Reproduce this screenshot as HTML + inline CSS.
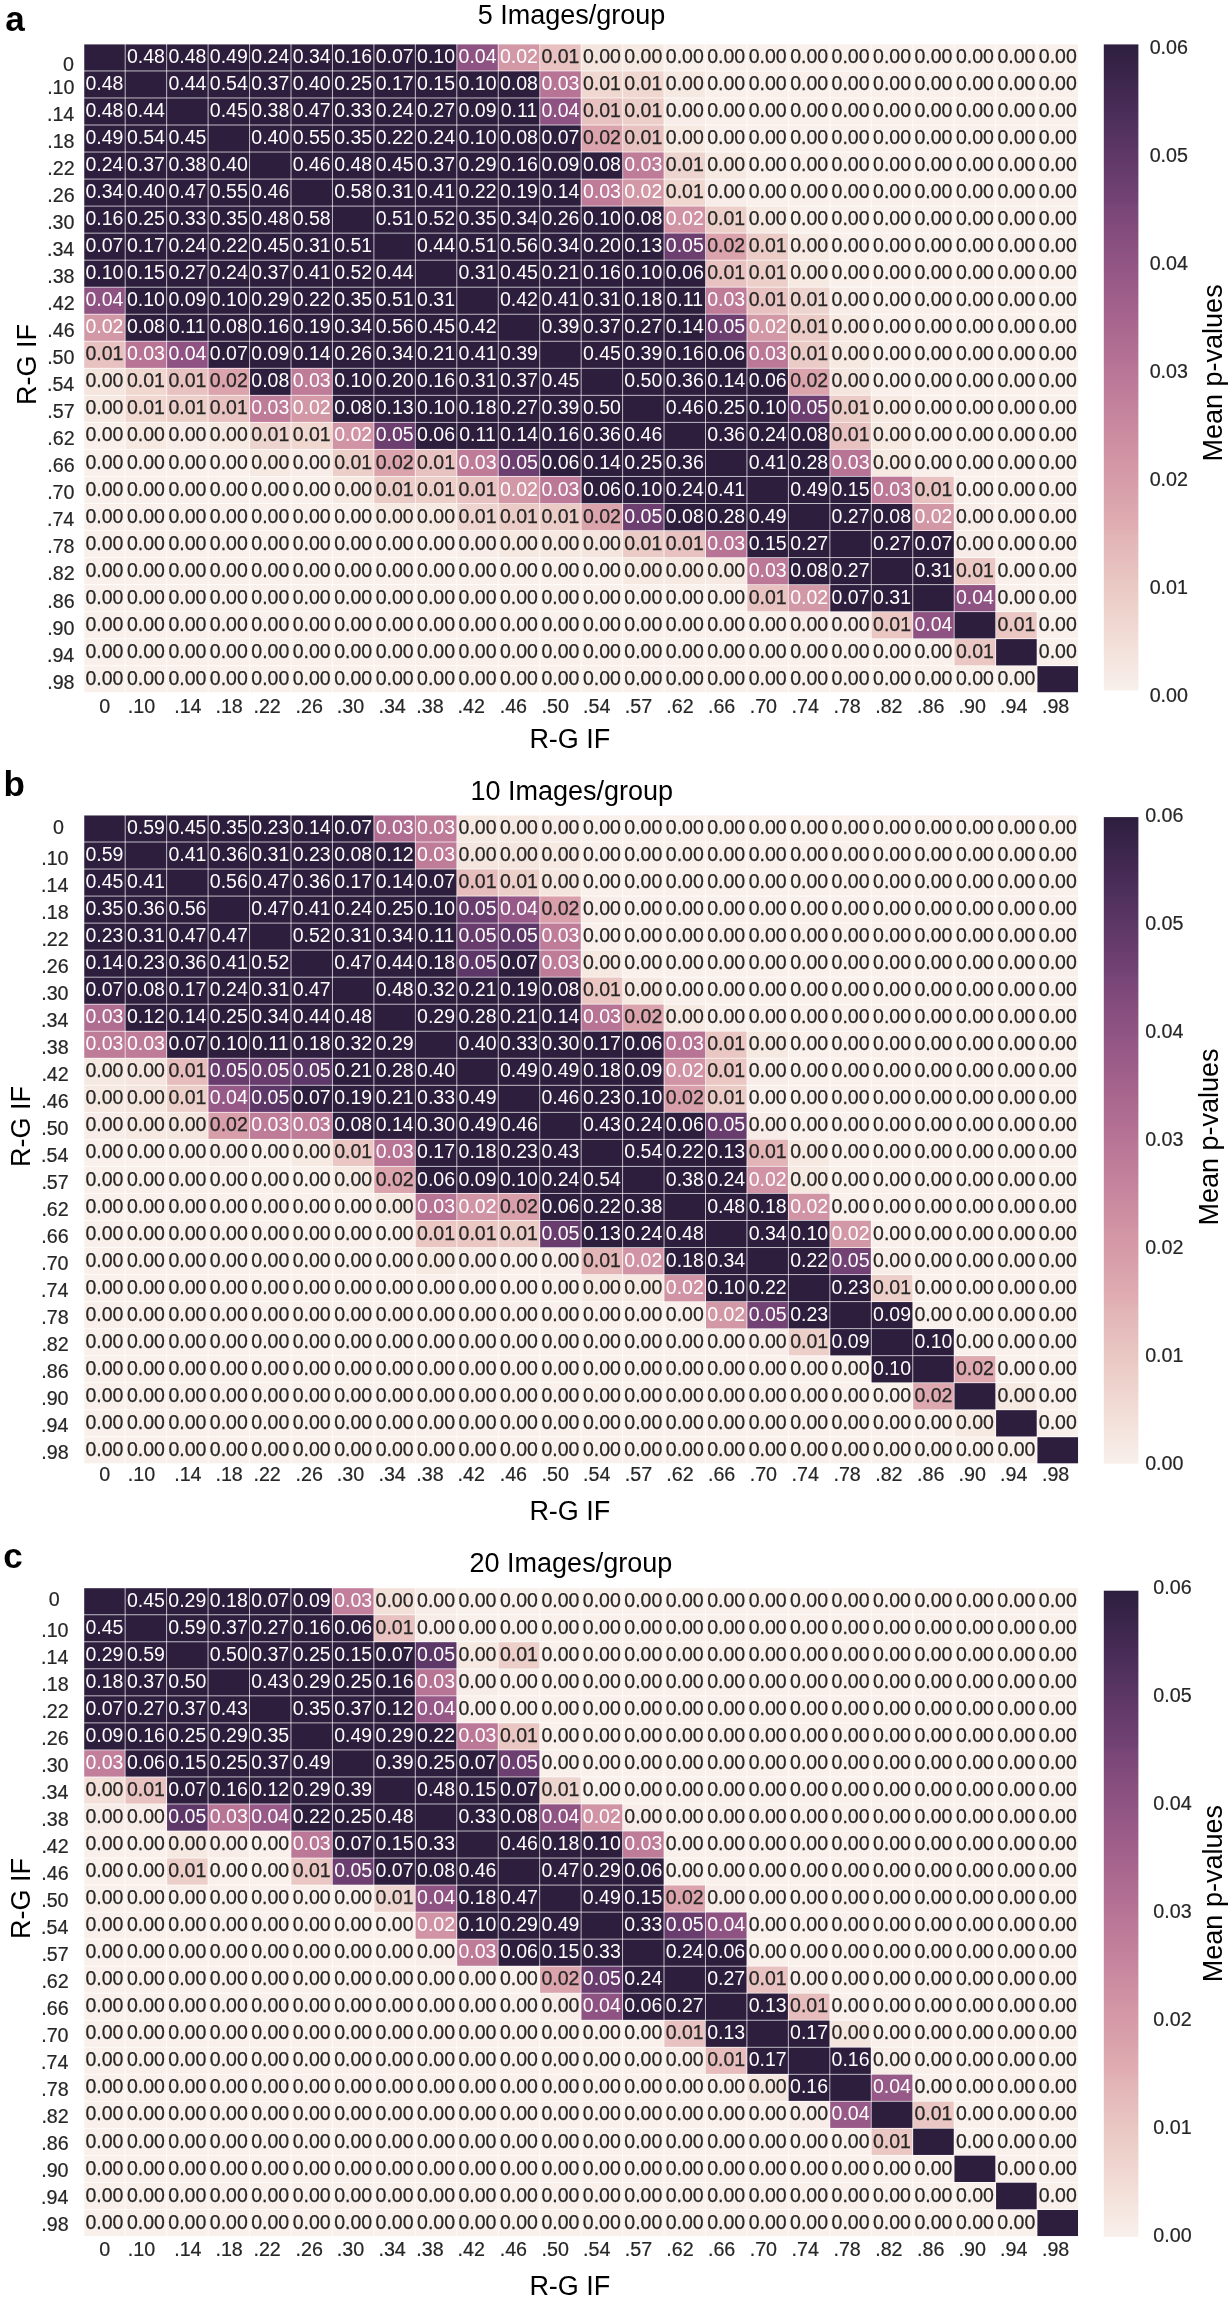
<!DOCTYPE html><html><head><meta charset="utf-8"><style>html,body{margin:0;padding:0;background:#fff;}svg{display:block;will-change:transform;}text{font-family:"Liberation Sans",sans-serif;}.d{fill:#262626;stroke:#262626}.w{fill:#fff}</style></head><body>
<svg width="1232" height="2300" viewBox="0 0 1232 2300">
<rect x="0" y="0" width="1232" height="2300" fill="#fff"/>
<defs><linearGradient id="cb" x1="0" y1="0" x2="0" y2="1"><stop offset="0" stop-color="#2d1e3e"/><stop offset="0.02" stop-color="#332144"/><stop offset="0.04" stop-color="#382449"/><stop offset="0.06" stop-color="#3e274e"/><stop offset="0.08" stop-color="#442a53"/><stop offset="0.1" stop-color="#492d58"/><stop offset="0.12" stop-color="#4f305d"/><stop offset="0.14" stop-color="#553361"/><stop offset="0.16" stop-color="#5b3665"/><stop offset="0.18" stop-color="#613969"/><stop offset="0.2" stop-color="#673c6d"/><stop offset="0.22" stop-color="#6d3f71"/><stop offset="0.24" stop-color="#734274"/><stop offset="0.25" stop-color="#784677"/><stop offset="0.27" stop-color="#7e497a"/><stop offset="0.29" stop-color="#844c7d"/><stop offset="0.31" stop-color="#895080"/><stop offset="0.33" stop-color="#8f5383"/><stop offset="0.35" stop-color="#945785"/><stop offset="0.37" stop-color="#995a88"/><stop offset="0.39" stop-color="#9e5e8a"/><stop offset="0.41" stop-color="#a3628c"/><stop offset="0.43" stop-color="#a8668e"/><stop offset="0.45" stop-color="#ad6a90"/><stop offset="0.47" stop-color="#b16e93"/><stop offset="0.49" stop-color="#b67295"/><stop offset="0.51" stop-color="#ba7797"/><stop offset="0.53" stop-color="#be7b99"/><stop offset="0.55" stop-color="#c27f9b"/><stop offset="0.57" stop-color="#c5849d"/><stop offset="0.59" stop-color="#c9889f"/><stop offset="0.61" stop-color="#cc8da1"/><stop offset="0.63" stop-color="#d092a3"/><stop offset="0.65" stop-color="#d397a5"/><stop offset="0.67" stop-color="#d69ba8"/><stop offset="0.69" stop-color="#d8a0aa"/><stop offset="0.71" stop-color="#dba5ad"/><stop offset="0.73" stop-color="#deaab0"/><stop offset="0.75" stop-color="#e0afb3"/><stop offset="0.76" stop-color="#e2b4b6"/><stop offset="0.78" stop-color="#e4b9b9"/><stop offset="0.8" stop-color="#e6bebd"/><stop offset="0.82" stop-color="#e8c4c0"/><stop offset="0.84" stop-color="#eac9c4"/><stop offset="0.86" stop-color="#eccec8"/><stop offset="0.88" stop-color="#eed3cd"/><stop offset="0.9" stop-color="#f0d8d1"/><stop offset="0.92" stop-color="#f2ddd6"/><stop offset="0.94" stop-color="#f3e2db"/><stop offset="0.96" stop-color="#f5e7e0"/><stop offset="0.98" stop-color="#f7ebe6"/><stop offset="1" stop-color="#f9f0eb"/><stop offset="1" stop-color="#f9f0eb"/></linearGradient></defs>
<g shape-rendering="crispEdges"><rect x="83.75" y="43.9" width="41.5" height="27.09" fill="#2d1e3e"/><rect x="125.2" y="43.9" width="41.5" height="27.09" fill="#2d1e3e"/><rect x="166.65" y="43.9" width="41.5" height="27.09" fill="#2d1e3e"/><rect x="208.1" y="43.9" width="41.5" height="27.09" fill="#2d1e3e"/><rect x="249.55" y="43.9" width="41.5" height="27.09" fill="#2d1e3e"/><rect x="291" y="43.9" width="41.5" height="27.09" fill="#2d1e3e"/><rect x="332.45" y="43.9" width="41.5" height="27.09" fill="#2d1e3e"/><rect x="373.9" y="43.9" width="41.5" height="27.09" fill="#2d1e3e"/><rect x="415.35" y="43.9" width="41.5" height="27.09" fill="#2d1e3e"/><rect x="456.8" y="43.9" width="41.5" height="27.09" fill="#8f5383"/><rect x="498.25" y="43.9" width="41.5" height="27.09" fill="#d398a6"/><rect x="539.7" y="43.9" width="41.5" height="27.09" fill="#e8c2c0"/><rect x="581.15" y="43.9" width="41.5" height="27.09" fill="#f4e5de"/><rect x="622.6" y="43.9" width="41.5" height="27.09" fill="#f6e9e2"/><rect x="664.05" y="43.9" width="41.5" height="27.09" fill="#f9f0eb"/><rect x="705.5" y="43.9" width="41.5" height="27.09" fill="#f9f0eb"/><rect x="746.95" y="43.9" width="41.5" height="27.09" fill="#f9f0eb"/><rect x="788.4" y="43.9" width="41.5" height="27.09" fill="#f9f0eb"/><rect x="829.85" y="43.9" width="41.5" height="27.09" fill="#f9f0eb"/><rect x="871.3" y="43.9" width="41.5" height="27.09" fill="#f9f0eb"/><rect x="912.75" y="43.9" width="41.5" height="27.09" fill="#f9f0eb"/><rect x="954.2" y="43.9" width="41.5" height="27.09" fill="#f9f0eb"/><rect x="995.65" y="43.9" width="41.5" height="27.09" fill="#f9f0eb"/><rect x="1037.1" y="43.9" width="41.5" height="27.09" fill="#f9f0eb"/><rect x="83.75" y="70.94" width="41.5" height="27.09" fill="#2d1e3e"/><rect x="125.2" y="70.94" width="41.5" height="27.09" fill="#2d1e3e"/><rect x="166.65" y="70.94" width="41.5" height="27.09" fill="#2d1e3e"/><rect x="208.1" y="70.94" width="41.5" height="27.09" fill="#2d1e3e"/><rect x="249.55" y="70.94" width="41.5" height="27.09" fill="#2d1e3e"/><rect x="291" y="70.94" width="41.5" height="27.09" fill="#2d1e3e"/><rect x="332.45" y="70.94" width="41.5" height="27.09" fill="#2d1e3e"/><rect x="373.9" y="70.94" width="41.5" height="27.09" fill="#2d1e3e"/><rect x="415.35" y="70.94" width="41.5" height="27.09" fill="#2d1e3e"/><rect x="456.8" y="70.94" width="41.5" height="27.09" fill="#2d1e3e"/><rect x="498.25" y="70.94" width="41.5" height="27.09" fill="#2d1e3e"/><rect x="539.7" y="70.94" width="41.5" height="27.09" fill="#b77495"/><rect x="581.15" y="70.94" width="41.5" height="27.09" fill="#f0d8d1"/><rect x="622.6" y="70.94" width="41.5" height="27.09" fill="#f0d8d1"/><rect x="664.05" y="70.94" width="41.5" height="27.09" fill="#f6e9e2"/><rect x="705.5" y="70.94" width="41.5" height="27.09" fill="#f9f0eb"/><rect x="746.95" y="70.94" width="41.5" height="27.09" fill="#f9f0eb"/><rect x="788.4" y="70.94" width="41.5" height="27.09" fill="#f9f0eb"/><rect x="829.85" y="70.94" width="41.5" height="27.09" fill="#f9f0eb"/><rect x="871.3" y="70.94" width="41.5" height="27.09" fill="#f9f0eb"/><rect x="912.75" y="70.94" width="41.5" height="27.09" fill="#f9f0eb"/><rect x="954.2" y="70.94" width="41.5" height="27.09" fill="#f9f0eb"/><rect x="995.65" y="70.94" width="41.5" height="27.09" fill="#f9f0eb"/><rect x="1037.1" y="70.94" width="41.5" height="27.09" fill="#f9f0eb"/><rect x="83.75" y="97.97" width="41.5" height="27.09" fill="#2d1e3e"/><rect x="125.2" y="97.97" width="41.5" height="27.09" fill="#2d1e3e"/><rect x="166.65" y="97.97" width="41.5" height="27.09" fill="#2d1e3e"/><rect x="208.1" y="97.97" width="41.5" height="27.09" fill="#2d1e3e"/><rect x="249.55" y="97.97" width="41.5" height="27.09" fill="#2d1e3e"/><rect x="291" y="97.97" width="41.5" height="27.09" fill="#2d1e3e"/><rect x="332.45" y="97.97" width="41.5" height="27.09" fill="#2d1e3e"/><rect x="373.9" y="97.97" width="41.5" height="27.09" fill="#2d1e3e"/><rect x="415.35" y="97.97" width="41.5" height="27.09" fill="#2d1e3e"/><rect x="456.8" y="97.97" width="41.5" height="27.09" fill="#2d1e3e"/><rect x="498.25" y="97.97" width="41.5" height="27.09" fill="#2d1e3e"/><rect x="539.7" y="97.97" width="41.5" height="27.09" fill="#8f5383"/><rect x="581.15" y="97.97" width="41.5" height="27.09" fill="#e8c2c0"/><rect x="622.6" y="97.97" width="41.5" height="27.09" fill="#edcfc9"/><rect x="664.05" y="97.97" width="41.5" height="27.09" fill="#f7ece7"/><rect x="705.5" y="97.97" width="41.5" height="27.09" fill="#f9f0eb"/><rect x="746.95" y="97.97" width="41.5" height="27.09" fill="#f9f0eb"/><rect x="788.4" y="97.97" width="41.5" height="27.09" fill="#f9f0eb"/><rect x="829.85" y="97.97" width="41.5" height="27.09" fill="#f9f0eb"/><rect x="871.3" y="97.97" width="41.5" height="27.09" fill="#f9f0eb"/><rect x="912.75" y="97.97" width="41.5" height="27.09" fill="#f9f0eb"/><rect x="954.2" y="97.97" width="41.5" height="27.09" fill="#f9f0eb"/><rect x="995.65" y="97.97" width="41.5" height="27.09" fill="#f9f0eb"/><rect x="1037.1" y="97.97" width="41.5" height="27.09" fill="#f9f0eb"/><rect x="83.75" y="125" width="41.5" height="27.09" fill="#2d1e3e"/><rect x="125.2" y="125" width="41.5" height="27.09" fill="#2d1e3e"/><rect x="166.65" y="125" width="41.5" height="27.09" fill="#2d1e3e"/><rect x="208.1" y="125" width="41.5" height="27.09" fill="#2d1e3e"/><rect x="249.55" y="125" width="41.5" height="27.09" fill="#2d1e3e"/><rect x="291" y="125" width="41.5" height="27.09" fill="#2d1e3e"/><rect x="332.45" y="125" width="41.5" height="27.09" fill="#2d1e3e"/><rect x="373.9" y="125" width="41.5" height="27.09" fill="#2d1e3e"/><rect x="415.35" y="125" width="41.5" height="27.09" fill="#2d1e3e"/><rect x="456.8" y="125" width="41.5" height="27.09" fill="#2d1e3e"/><rect x="498.25" y="125" width="41.5" height="27.09" fill="#2d1e3e"/><rect x="539.7" y="125" width="41.5" height="27.09" fill="#2d1e3e"/><rect x="581.15" y="125" width="41.5" height="27.09" fill="#dba4ad"/><rect x="622.6" y="125" width="41.5" height="27.09" fill="#e8c2c0"/><rect x="664.05" y="125" width="41.5" height="27.09" fill="#f6e9e2"/><rect x="705.5" y="125" width="41.5" height="27.09" fill="#f9f0eb"/><rect x="746.95" y="125" width="41.5" height="27.09" fill="#f9f0eb"/><rect x="788.4" y="125" width="41.5" height="27.09" fill="#f9f0eb"/><rect x="829.85" y="125" width="41.5" height="27.09" fill="#f9f0eb"/><rect x="871.3" y="125" width="41.5" height="27.09" fill="#f9f0eb"/><rect x="912.75" y="125" width="41.5" height="27.09" fill="#f9f0eb"/><rect x="954.2" y="125" width="41.5" height="27.09" fill="#f9f0eb"/><rect x="995.65" y="125" width="41.5" height="27.09" fill="#f9f0eb"/><rect x="1037.1" y="125" width="41.5" height="27.09" fill="#f9f0eb"/><rect x="83.75" y="152.04" width="41.5" height="27.09" fill="#2d1e3e"/><rect x="125.2" y="152.04" width="41.5" height="27.09" fill="#2d1e3e"/><rect x="166.65" y="152.04" width="41.5" height="27.09" fill="#2d1e3e"/><rect x="208.1" y="152.04" width="41.5" height="27.09" fill="#2d1e3e"/><rect x="249.55" y="152.04" width="41.5" height="27.09" fill="#2d1e3e"/><rect x="291" y="152.04" width="41.5" height="27.09" fill="#2d1e3e"/><rect x="332.45" y="152.04" width="41.5" height="27.09" fill="#2d1e3e"/><rect x="373.9" y="152.04" width="41.5" height="27.09" fill="#2d1e3e"/><rect x="415.35" y="152.04" width="41.5" height="27.09" fill="#2d1e3e"/><rect x="456.8" y="152.04" width="41.5" height="27.09" fill="#2d1e3e"/><rect x="498.25" y="152.04" width="41.5" height="27.09" fill="#2d1e3e"/><rect x="539.7" y="152.04" width="41.5" height="27.09" fill="#2d1e3e"/><rect x="581.15" y="152.04" width="41.5" height="27.09" fill="#2d1e3e"/><rect x="622.6" y="152.04" width="41.5" height="27.09" fill="#bf7c99"/><rect x="664.05" y="152.04" width="41.5" height="27.09" fill="#eed4ce"/><rect x="705.5" y="152.04" width="41.5" height="27.09" fill="#f6e9e2"/><rect x="746.95" y="152.04" width="41.5" height="27.09" fill="#f9f0eb"/><rect x="788.4" y="152.04" width="41.5" height="27.09" fill="#f9f0eb"/><rect x="829.85" y="152.04" width="41.5" height="27.09" fill="#f9f0eb"/><rect x="871.3" y="152.04" width="41.5" height="27.09" fill="#f9f0eb"/><rect x="912.75" y="152.04" width="41.5" height="27.09" fill="#f9f0eb"/><rect x="954.2" y="152.04" width="41.5" height="27.09" fill="#f9f0eb"/><rect x="995.65" y="152.04" width="41.5" height="27.09" fill="#f9f0eb"/><rect x="1037.1" y="152.04" width="41.5" height="27.09" fill="#f9f0eb"/><rect x="83.75" y="179.08" width="41.5" height="27.09" fill="#2d1e3e"/><rect x="125.2" y="179.08" width="41.5" height="27.09" fill="#2d1e3e"/><rect x="166.65" y="179.08" width="41.5" height="27.09" fill="#2d1e3e"/><rect x="208.1" y="179.08" width="41.5" height="27.09" fill="#2d1e3e"/><rect x="249.55" y="179.08" width="41.5" height="27.09" fill="#2d1e3e"/><rect x="291" y="179.08" width="41.5" height="27.09" fill="#2d1e3e"/><rect x="332.45" y="179.08" width="41.5" height="27.09" fill="#2d1e3e"/><rect x="373.9" y="179.08" width="41.5" height="27.09" fill="#2d1e3e"/><rect x="415.35" y="179.08" width="41.5" height="27.09" fill="#2d1e3e"/><rect x="456.8" y="179.08" width="41.5" height="27.09" fill="#2d1e3e"/><rect x="498.25" y="179.08" width="41.5" height="27.09" fill="#2d1e3e"/><rect x="539.7" y="179.08" width="41.5" height="27.09" fill="#2d1e3e"/><rect x="581.15" y="179.08" width="41.5" height="27.09" fill="#bf7c99"/><rect x="622.6" y="179.08" width="41.5" height="27.09" fill="#d398a6"/><rect x="664.05" y="179.08" width="41.5" height="27.09" fill="#f0d8d1"/><rect x="705.5" y="179.08" width="41.5" height="27.09" fill="#f7ece7"/><rect x="746.95" y="179.08" width="41.5" height="27.09" fill="#f9f0eb"/><rect x="788.4" y="179.08" width="41.5" height="27.09" fill="#f9f0eb"/><rect x="829.85" y="179.08" width="41.5" height="27.09" fill="#f9f0eb"/><rect x="871.3" y="179.08" width="41.5" height="27.09" fill="#f9f0eb"/><rect x="912.75" y="179.08" width="41.5" height="27.09" fill="#f9f0eb"/><rect x="954.2" y="179.08" width="41.5" height="27.09" fill="#f9f0eb"/><rect x="995.65" y="179.08" width="41.5" height="27.09" fill="#f9f0eb"/><rect x="1037.1" y="179.08" width="41.5" height="27.09" fill="#f9f0eb"/><rect x="83.75" y="206.11" width="41.5" height="27.09" fill="#2d1e3e"/><rect x="125.2" y="206.11" width="41.5" height="27.09" fill="#2d1e3e"/><rect x="166.65" y="206.11" width="41.5" height="27.09" fill="#2d1e3e"/><rect x="208.1" y="206.11" width="41.5" height="27.09" fill="#2d1e3e"/><rect x="249.55" y="206.11" width="41.5" height="27.09" fill="#2d1e3e"/><rect x="291" y="206.11" width="41.5" height="27.09" fill="#2d1e3e"/><rect x="332.45" y="206.11" width="41.5" height="27.09" fill="#2d1e3e"/><rect x="373.9" y="206.11" width="41.5" height="27.09" fill="#2d1e3e"/><rect x="415.35" y="206.11" width="41.5" height="27.09" fill="#2d1e3e"/><rect x="456.8" y="206.11" width="41.5" height="27.09" fill="#2d1e3e"/><rect x="498.25" y="206.11" width="41.5" height="27.09" fill="#2d1e3e"/><rect x="539.7" y="206.11" width="41.5" height="27.09" fill="#2d1e3e"/><rect x="581.15" y="206.11" width="41.5" height="27.09" fill="#2d1e3e"/><rect x="622.6" y="206.11" width="41.5" height="27.09" fill="#2d1e3e"/><rect x="664.05" y="206.11" width="41.5" height="27.09" fill="#d194a4"/><rect x="705.5" y="206.11" width="41.5" height="27.09" fill="#edcfc9"/><rect x="746.95" y="206.11" width="41.5" height="27.09" fill="#f6e9e2"/><rect x="788.4" y="206.11" width="41.5" height="27.09" fill="#f9f0eb"/><rect x="829.85" y="206.11" width="41.5" height="27.09" fill="#f9f0eb"/><rect x="871.3" y="206.11" width="41.5" height="27.09" fill="#f9f0eb"/><rect x="912.75" y="206.11" width="41.5" height="27.09" fill="#f9f0eb"/><rect x="954.2" y="206.11" width="41.5" height="27.09" fill="#f9f0eb"/><rect x="995.65" y="206.11" width="41.5" height="27.09" fill="#f9f0eb"/><rect x="1037.1" y="206.11" width="41.5" height="27.09" fill="#f9f0eb"/><rect x="83.75" y="233.15" width="41.5" height="27.09" fill="#2d1e3e"/><rect x="125.2" y="233.15" width="41.5" height="27.09" fill="#2d1e3e"/><rect x="166.65" y="233.15" width="41.5" height="27.09" fill="#2d1e3e"/><rect x="208.1" y="233.15" width="41.5" height="27.09" fill="#2d1e3e"/><rect x="249.55" y="233.15" width="41.5" height="27.09" fill="#2d1e3e"/><rect x="291" y="233.15" width="41.5" height="27.09" fill="#2d1e3e"/><rect x="332.45" y="233.15" width="41.5" height="27.09" fill="#2d1e3e"/><rect x="373.9" y="233.15" width="41.5" height="27.09" fill="#2d1e3e"/><rect x="415.35" y="233.15" width="41.5" height="27.09" fill="#2d1e3e"/><rect x="456.8" y="233.15" width="41.5" height="27.09" fill="#2d1e3e"/><rect x="498.25" y="233.15" width="41.5" height="27.09" fill="#2d1e3e"/><rect x="539.7" y="233.15" width="41.5" height="27.09" fill="#2d1e3e"/><rect x="581.15" y="233.15" width="41.5" height="27.09" fill="#2d1e3e"/><rect x="622.6" y="233.15" width="41.5" height="27.09" fill="#2d1e3e"/><rect x="664.05" y="233.15" width="41.5" height="27.09" fill="#6d3f71"/><rect x="705.5" y="233.15" width="41.5" height="27.09" fill="#dba4ad"/><rect x="746.95" y="233.15" width="41.5" height="27.09" fill="#ebcbc6"/><rect x="788.4" y="233.15" width="41.5" height="27.09" fill="#f6e9e2"/><rect x="829.85" y="233.15" width="41.5" height="27.09" fill="#f9f0eb"/><rect x="871.3" y="233.15" width="41.5" height="27.09" fill="#f9f0eb"/><rect x="912.75" y="233.15" width="41.5" height="27.09" fill="#f9f0eb"/><rect x="954.2" y="233.15" width="41.5" height="27.09" fill="#f9f0eb"/><rect x="995.65" y="233.15" width="41.5" height="27.09" fill="#f9f0eb"/><rect x="1037.1" y="233.15" width="41.5" height="27.09" fill="#f9f0eb"/><rect x="83.75" y="260.18" width="41.5" height="27.09" fill="#2d1e3e"/><rect x="125.2" y="260.18" width="41.5" height="27.09" fill="#2d1e3e"/><rect x="166.65" y="260.18" width="41.5" height="27.09" fill="#2d1e3e"/><rect x="208.1" y="260.18" width="41.5" height="27.09" fill="#2d1e3e"/><rect x="249.55" y="260.18" width="41.5" height="27.09" fill="#2d1e3e"/><rect x="291" y="260.18" width="41.5" height="27.09" fill="#2d1e3e"/><rect x="332.45" y="260.18" width="41.5" height="27.09" fill="#2d1e3e"/><rect x="373.9" y="260.18" width="41.5" height="27.09" fill="#2d1e3e"/><rect x="415.35" y="260.18" width="41.5" height="27.09" fill="#2d1e3e"/><rect x="456.8" y="260.18" width="41.5" height="27.09" fill="#2d1e3e"/><rect x="498.25" y="260.18" width="41.5" height="27.09" fill="#2d1e3e"/><rect x="539.7" y="260.18" width="41.5" height="27.09" fill="#2d1e3e"/><rect x="581.15" y="260.18" width="41.5" height="27.09" fill="#2d1e3e"/><rect x="622.6" y="260.18" width="41.5" height="27.09" fill="#2d1e3e"/><rect x="664.05" y="260.18" width="41.5" height="27.09" fill="#2d1e3e"/><rect x="705.5" y="260.18" width="41.5" height="27.09" fill="#e8c2c0"/><rect x="746.95" y="260.18" width="41.5" height="27.09" fill="#edcfc9"/><rect x="788.4" y="260.18" width="41.5" height="27.09" fill="#f6e9e2"/><rect x="829.85" y="260.18" width="41.5" height="27.09" fill="#f9f0eb"/><rect x="871.3" y="260.18" width="41.5" height="27.09" fill="#f9f0eb"/><rect x="912.75" y="260.18" width="41.5" height="27.09" fill="#f9f0eb"/><rect x="954.2" y="260.18" width="41.5" height="27.09" fill="#f9f0eb"/><rect x="995.65" y="260.18" width="41.5" height="27.09" fill="#f9f0eb"/><rect x="1037.1" y="260.18" width="41.5" height="27.09" fill="#f9f0eb"/><rect x="83.75" y="287.21" width="41.5" height="27.09" fill="#8f5383"/><rect x="125.2" y="287.21" width="41.5" height="27.09" fill="#2d1e3e"/><rect x="166.65" y="287.21" width="41.5" height="27.09" fill="#2d1e3e"/><rect x="208.1" y="287.21" width="41.5" height="27.09" fill="#2d1e3e"/><rect x="249.55" y="287.21" width="41.5" height="27.09" fill="#2d1e3e"/><rect x="291" y="287.21" width="41.5" height="27.09" fill="#2d1e3e"/><rect x="332.45" y="287.21" width="41.5" height="27.09" fill="#2d1e3e"/><rect x="373.9" y="287.21" width="41.5" height="27.09" fill="#2d1e3e"/><rect x="415.35" y="287.21" width="41.5" height="27.09" fill="#2d1e3e"/><rect x="456.8" y="287.21" width="41.5" height="27.09" fill="#2d1e3e"/><rect x="498.25" y="287.21" width="41.5" height="27.09" fill="#2d1e3e"/><rect x="539.7" y="287.21" width="41.5" height="27.09" fill="#2d1e3e"/><rect x="581.15" y="287.21" width="41.5" height="27.09" fill="#2d1e3e"/><rect x="622.6" y="287.21" width="41.5" height="27.09" fill="#2d1e3e"/><rect x="664.05" y="287.21" width="41.5" height="27.09" fill="#2d1e3e"/><rect x="705.5" y="287.21" width="41.5" height="27.09" fill="#bf7c99"/><rect x="746.95" y="287.21" width="41.5" height="27.09" fill="#e8c2c0"/><rect x="788.4" y="287.21" width="41.5" height="27.09" fill="#eed4ce"/><rect x="829.85" y="287.21" width="41.5" height="27.09" fill="#f7ece7"/><rect x="871.3" y="287.21" width="41.5" height="27.09" fill="#f9f0eb"/><rect x="912.75" y="287.21" width="41.5" height="27.09" fill="#f9f0eb"/><rect x="954.2" y="287.21" width="41.5" height="27.09" fill="#f9f0eb"/><rect x="995.65" y="287.21" width="41.5" height="27.09" fill="#f9f0eb"/><rect x="1037.1" y="287.21" width="41.5" height="27.09" fill="#f9f0eb"/><rect x="83.75" y="314.25" width="41.5" height="27.09" fill="#d398a6"/><rect x="125.2" y="314.25" width="41.5" height="27.09" fill="#2d1e3e"/><rect x="166.65" y="314.25" width="41.5" height="27.09" fill="#2d1e3e"/><rect x="208.1" y="314.25" width="41.5" height="27.09" fill="#2d1e3e"/><rect x="249.55" y="314.25" width="41.5" height="27.09" fill="#2d1e3e"/><rect x="291" y="314.25" width="41.5" height="27.09" fill="#2d1e3e"/><rect x="332.45" y="314.25" width="41.5" height="27.09" fill="#2d1e3e"/><rect x="373.9" y="314.25" width="41.5" height="27.09" fill="#2d1e3e"/><rect x="415.35" y="314.25" width="41.5" height="27.09" fill="#2d1e3e"/><rect x="456.8" y="314.25" width="41.5" height="27.09" fill="#2d1e3e"/><rect x="498.25" y="314.25" width="41.5" height="27.09" fill="#2d1e3e"/><rect x="539.7" y="314.25" width="41.5" height="27.09" fill="#2d1e3e"/><rect x="581.15" y="314.25" width="41.5" height="27.09" fill="#2d1e3e"/><rect x="622.6" y="314.25" width="41.5" height="27.09" fill="#2d1e3e"/><rect x="664.05" y="314.25" width="41.5" height="27.09" fill="#2d1e3e"/><rect x="705.5" y="314.25" width="41.5" height="27.09" fill="#6d3f71"/><rect x="746.95" y="314.25" width="41.5" height="27.09" fill="#d398a6"/><rect x="788.4" y="314.25" width="41.5" height="27.09" fill="#ebcbc6"/><rect x="829.85" y="314.25" width="41.5" height="27.09" fill="#f6e9e2"/><rect x="871.3" y="314.25" width="41.5" height="27.09" fill="#f9f0eb"/><rect x="912.75" y="314.25" width="41.5" height="27.09" fill="#f9f0eb"/><rect x="954.2" y="314.25" width="41.5" height="27.09" fill="#f9f0eb"/><rect x="995.65" y="314.25" width="41.5" height="27.09" fill="#f9f0eb"/><rect x="1037.1" y="314.25" width="41.5" height="27.09" fill="#f9f0eb"/><rect x="83.75" y="341.28" width="41.5" height="27.09" fill="#e8c2c0"/><rect x="125.2" y="341.28" width="41.5" height="27.09" fill="#b77495"/><rect x="166.65" y="341.28" width="41.5" height="27.09" fill="#8f5383"/><rect x="208.1" y="341.28" width="41.5" height="27.09" fill="#2d1e3e"/><rect x="249.55" y="341.28" width="41.5" height="27.09" fill="#2d1e3e"/><rect x="291" y="341.28" width="41.5" height="27.09" fill="#2d1e3e"/><rect x="332.45" y="341.28" width="41.5" height="27.09" fill="#2d1e3e"/><rect x="373.9" y="341.28" width="41.5" height="27.09" fill="#2d1e3e"/><rect x="415.35" y="341.28" width="41.5" height="27.09" fill="#2d1e3e"/><rect x="456.8" y="341.28" width="41.5" height="27.09" fill="#2d1e3e"/><rect x="498.25" y="341.28" width="41.5" height="27.09" fill="#2d1e3e"/><rect x="539.7" y="341.28" width="41.5" height="27.09" fill="#2d1e3e"/><rect x="581.15" y="341.28" width="41.5" height="27.09" fill="#2d1e3e"/><rect x="622.6" y="341.28" width="41.5" height="27.09" fill="#2d1e3e"/><rect x="664.05" y="341.28" width="41.5" height="27.09" fill="#2d1e3e"/><rect x="705.5" y="341.28" width="41.5" height="27.09" fill="#2d1e3e"/><rect x="746.95" y="341.28" width="41.5" height="27.09" fill="#bb7897"/><rect x="788.4" y="341.28" width="41.5" height="27.09" fill="#ebcbc6"/><rect x="829.85" y="341.28" width="41.5" height="27.09" fill="#f6e9e2"/><rect x="871.3" y="341.28" width="41.5" height="27.09" fill="#f9f0eb"/><rect x="912.75" y="341.28" width="41.5" height="27.09" fill="#f9f0eb"/><rect x="954.2" y="341.28" width="41.5" height="27.09" fill="#f9f0eb"/><rect x="995.65" y="341.28" width="41.5" height="27.09" fill="#f9f0eb"/><rect x="1037.1" y="341.28" width="41.5" height="27.09" fill="#f9f0eb"/><rect x="83.75" y="368.32" width="41.5" height="27.09" fill="#f4e5de"/><rect x="125.2" y="368.32" width="41.5" height="27.09" fill="#f0d8d1"/><rect x="166.65" y="368.32" width="41.5" height="27.09" fill="#e8c2c0"/><rect x="208.1" y="368.32" width="41.5" height="27.09" fill="#dba4ad"/><rect x="249.55" y="368.32" width="41.5" height="27.09" fill="#2d1e3e"/><rect x="291" y="368.32" width="41.5" height="27.09" fill="#bf7c99"/><rect x="332.45" y="368.32" width="41.5" height="27.09" fill="#2d1e3e"/><rect x="373.9" y="368.32" width="41.5" height="27.09" fill="#2d1e3e"/><rect x="415.35" y="368.32" width="41.5" height="27.09" fill="#2d1e3e"/><rect x="456.8" y="368.32" width="41.5" height="27.09" fill="#2d1e3e"/><rect x="498.25" y="368.32" width="41.5" height="27.09" fill="#2d1e3e"/><rect x="539.7" y="368.32" width="41.5" height="27.09" fill="#2d1e3e"/><rect x="581.15" y="368.32" width="41.5" height="27.09" fill="#2d1e3e"/><rect x="622.6" y="368.32" width="41.5" height="27.09" fill="#2d1e3e"/><rect x="664.05" y="368.32" width="41.5" height="27.09" fill="#2d1e3e"/><rect x="705.5" y="368.32" width="41.5" height="27.09" fill="#2d1e3e"/><rect x="746.95" y="368.32" width="41.5" height="27.09" fill="#2d1e3e"/><rect x="788.4" y="368.32" width="41.5" height="27.09" fill="#dba4ad"/><rect x="829.85" y="368.32" width="41.5" height="27.09" fill="#f4e5de"/><rect x="871.3" y="368.32" width="41.5" height="27.09" fill="#f9f0eb"/><rect x="912.75" y="368.32" width="41.5" height="27.09" fill="#f9f0eb"/><rect x="954.2" y="368.32" width="41.5" height="27.09" fill="#f9f0eb"/><rect x="995.65" y="368.32" width="41.5" height="27.09" fill="#f9f0eb"/><rect x="1037.1" y="368.32" width="41.5" height="27.09" fill="#f9f0eb"/><rect x="83.75" y="395.35" width="41.5" height="27.09" fill="#f6e9e2"/><rect x="125.2" y="395.35" width="41.5" height="27.09" fill="#f0d8d1"/><rect x="166.65" y="395.35" width="41.5" height="27.09" fill="#edcfc9"/><rect x="208.1" y="395.35" width="41.5" height="27.09" fill="#e8c2c0"/><rect x="249.55" y="395.35" width="41.5" height="27.09" fill="#bf7c99"/><rect x="291" y="395.35" width="41.5" height="27.09" fill="#d398a6"/><rect x="332.45" y="395.35" width="41.5" height="27.09" fill="#2d1e3e"/><rect x="373.9" y="395.35" width="41.5" height="27.09" fill="#2d1e3e"/><rect x="415.35" y="395.35" width="41.5" height="27.09" fill="#2d1e3e"/><rect x="456.8" y="395.35" width="41.5" height="27.09" fill="#2d1e3e"/><rect x="498.25" y="395.35" width="41.5" height="27.09" fill="#2d1e3e"/><rect x="539.7" y="395.35" width="41.5" height="27.09" fill="#2d1e3e"/><rect x="581.15" y="395.35" width="41.5" height="27.09" fill="#2d1e3e"/><rect x="622.6" y="395.35" width="41.5" height="27.09" fill="#2d1e3e"/><rect x="664.05" y="395.35" width="41.5" height="27.09" fill="#2d1e3e"/><rect x="705.5" y="395.35" width="41.5" height="27.09" fill="#2d1e3e"/><rect x="746.95" y="395.35" width="41.5" height="27.09" fill="#2d1e3e"/><rect x="788.4" y="395.35" width="41.5" height="27.09" fill="#6d3f71"/><rect x="829.85" y="395.35" width="41.5" height="27.09" fill="#ebcbc6"/><rect x="871.3" y="395.35" width="41.5" height="27.09" fill="#f6e9e2"/><rect x="912.75" y="395.35" width="41.5" height="27.09" fill="#f9f0eb"/><rect x="954.2" y="395.35" width="41.5" height="27.09" fill="#f9f0eb"/><rect x="995.65" y="395.35" width="41.5" height="27.09" fill="#f9f0eb"/><rect x="1037.1" y="395.35" width="41.5" height="27.09" fill="#f9f0eb"/><rect x="83.75" y="422.39" width="41.5" height="27.09" fill="#f9f0eb"/><rect x="125.2" y="422.39" width="41.5" height="27.09" fill="#f6e9e2"/><rect x="166.65" y="422.39" width="41.5" height="27.09" fill="#f7ece7"/><rect x="208.1" y="422.39" width="41.5" height="27.09" fill="#f6e9e2"/><rect x="249.55" y="422.39" width="41.5" height="27.09" fill="#eed4ce"/><rect x="291" y="422.39" width="41.5" height="27.09" fill="#f0d8d1"/><rect x="332.45" y="422.39" width="41.5" height="27.09" fill="#d194a4"/><rect x="373.9" y="422.39" width="41.5" height="27.09" fill="#6d3f71"/><rect x="415.35" y="422.39" width="41.5" height="27.09" fill="#2d1e3e"/><rect x="456.8" y="422.39" width="41.5" height="27.09" fill="#2d1e3e"/><rect x="498.25" y="422.39" width="41.5" height="27.09" fill="#2d1e3e"/><rect x="539.7" y="422.39" width="41.5" height="27.09" fill="#2d1e3e"/><rect x="581.15" y="422.39" width="41.5" height="27.09" fill="#2d1e3e"/><rect x="622.6" y="422.39" width="41.5" height="27.09" fill="#2d1e3e"/><rect x="664.05" y="422.39" width="41.5" height="27.09" fill="#2d1e3e"/><rect x="705.5" y="422.39" width="41.5" height="27.09" fill="#2d1e3e"/><rect x="746.95" y="422.39" width="41.5" height="27.09" fill="#2d1e3e"/><rect x="788.4" y="422.39" width="41.5" height="27.09" fill="#2d1e3e"/><rect x="829.85" y="422.39" width="41.5" height="27.09" fill="#e8c2c0"/><rect x="871.3" y="422.39" width="41.5" height="27.09" fill="#f6e9e2"/><rect x="912.75" y="422.39" width="41.5" height="27.09" fill="#f9f0eb"/><rect x="954.2" y="422.39" width="41.5" height="27.09" fill="#f9f0eb"/><rect x="995.65" y="422.39" width="41.5" height="27.09" fill="#f9f0eb"/><rect x="1037.1" y="422.39" width="41.5" height="27.09" fill="#f9f0eb"/><rect x="83.75" y="449.42" width="41.5" height="27.09" fill="#f9f0eb"/><rect x="125.2" y="449.42" width="41.5" height="27.09" fill="#f9f0eb"/><rect x="166.65" y="449.42" width="41.5" height="27.09" fill="#f9f0eb"/><rect x="208.1" y="449.42" width="41.5" height="27.09" fill="#f9f0eb"/><rect x="249.55" y="449.42" width="41.5" height="27.09" fill="#f6e9e2"/><rect x="291" y="449.42" width="41.5" height="27.09" fill="#f7ece7"/><rect x="332.45" y="449.42" width="41.5" height="27.09" fill="#edcfc9"/><rect x="373.9" y="449.42" width="41.5" height="27.09" fill="#dba4ad"/><rect x="415.35" y="449.42" width="41.5" height="27.09" fill="#e8c2c0"/><rect x="456.8" y="449.42" width="41.5" height="27.09" fill="#bf7c99"/><rect x="498.25" y="449.42" width="41.5" height="27.09" fill="#6d3f71"/><rect x="539.7" y="449.42" width="41.5" height="27.09" fill="#2d1e3e"/><rect x="581.15" y="449.42" width="41.5" height="27.09" fill="#2d1e3e"/><rect x="622.6" y="449.42" width="41.5" height="27.09" fill="#2d1e3e"/><rect x="664.05" y="449.42" width="41.5" height="27.09" fill="#2d1e3e"/><rect x="705.5" y="449.42" width="41.5" height="27.09" fill="#2d1e3e"/><rect x="746.95" y="449.42" width="41.5" height="27.09" fill="#2d1e3e"/><rect x="788.4" y="449.42" width="41.5" height="27.09" fill="#2d1e3e"/><rect x="829.85" y="449.42" width="41.5" height="27.09" fill="#b77495"/><rect x="871.3" y="449.42" width="41.5" height="27.09" fill="#f6e9e2"/><rect x="912.75" y="449.42" width="41.5" height="27.09" fill="#f9f0eb"/><rect x="954.2" y="449.42" width="41.5" height="27.09" fill="#f9f0eb"/><rect x="995.65" y="449.42" width="41.5" height="27.09" fill="#f9f0eb"/><rect x="1037.1" y="449.42" width="41.5" height="27.09" fill="#f9f0eb"/><rect x="83.75" y="476.46" width="41.5" height="27.09" fill="#f9f0eb"/><rect x="125.2" y="476.46" width="41.5" height="27.09" fill="#f9f0eb"/><rect x="166.65" y="476.46" width="41.5" height="27.09" fill="#f9f0eb"/><rect x="208.1" y="476.46" width="41.5" height="27.09" fill="#f9f0eb"/><rect x="249.55" y="476.46" width="41.5" height="27.09" fill="#f9f0eb"/><rect x="291" y="476.46" width="41.5" height="27.09" fill="#f9f0eb"/><rect x="332.45" y="476.46" width="41.5" height="27.09" fill="#f6e9e2"/><rect x="373.9" y="476.46" width="41.5" height="27.09" fill="#ebcbc6"/><rect x="415.35" y="476.46" width="41.5" height="27.09" fill="#edcfc9"/><rect x="456.8" y="476.46" width="41.5" height="27.09" fill="#e8c2c0"/><rect x="498.25" y="476.46" width="41.5" height="27.09" fill="#d398a6"/><rect x="539.7" y="476.46" width="41.5" height="27.09" fill="#bb7897"/><rect x="581.15" y="476.46" width="41.5" height="27.09" fill="#2d1e3e"/><rect x="622.6" y="476.46" width="41.5" height="27.09" fill="#2d1e3e"/><rect x="664.05" y="476.46" width="41.5" height="27.09" fill="#2d1e3e"/><rect x="705.5" y="476.46" width="41.5" height="27.09" fill="#2d1e3e"/><rect x="746.95" y="476.46" width="41.5" height="27.09" fill="#2d1e3e"/><rect x="788.4" y="476.46" width="41.5" height="27.09" fill="#2d1e3e"/><rect x="829.85" y="476.46" width="41.5" height="27.09" fill="#2d1e3e"/><rect x="871.3" y="476.46" width="41.5" height="27.09" fill="#bb7897"/><rect x="912.75" y="476.46" width="41.5" height="27.09" fill="#e8c2c0"/><rect x="954.2" y="476.46" width="41.5" height="27.09" fill="#f9f0eb"/><rect x="995.65" y="476.46" width="41.5" height="27.09" fill="#f9f0eb"/><rect x="1037.1" y="476.46" width="41.5" height="27.09" fill="#f9f0eb"/><rect x="83.75" y="503.5" width="41.5" height="27.09" fill="#f9f0eb"/><rect x="125.2" y="503.5" width="41.5" height="27.09" fill="#f9f0eb"/><rect x="166.65" y="503.5" width="41.5" height="27.09" fill="#f9f0eb"/><rect x="208.1" y="503.5" width="41.5" height="27.09" fill="#f9f0eb"/><rect x="249.55" y="503.5" width="41.5" height="27.09" fill="#f9f0eb"/><rect x="291" y="503.5" width="41.5" height="27.09" fill="#f9f0eb"/><rect x="332.45" y="503.5" width="41.5" height="27.09" fill="#f9f0eb"/><rect x="373.9" y="503.5" width="41.5" height="27.09" fill="#f6e9e2"/><rect x="415.35" y="503.5" width="41.5" height="27.09" fill="#f6e9e2"/><rect x="456.8" y="503.5" width="41.5" height="27.09" fill="#eed4ce"/><rect x="498.25" y="503.5" width="41.5" height="27.09" fill="#ebcbc6"/><rect x="539.7" y="503.5" width="41.5" height="27.09" fill="#ebcbc6"/><rect x="581.15" y="503.5" width="41.5" height="27.09" fill="#dba4ad"/><rect x="622.6" y="503.5" width="41.5" height="27.09" fill="#6d3f71"/><rect x="664.05" y="503.5" width="41.5" height="27.09" fill="#2d1e3e"/><rect x="705.5" y="503.5" width="41.5" height="27.09" fill="#2d1e3e"/><rect x="746.95" y="503.5" width="41.5" height="27.09" fill="#2d1e3e"/><rect x="788.4" y="503.5" width="41.5" height="27.09" fill="#2d1e3e"/><rect x="829.85" y="503.5" width="41.5" height="27.09" fill="#2d1e3e"/><rect x="871.3" y="503.5" width="41.5" height="27.09" fill="#2d1e3e"/><rect x="912.75" y="503.5" width="41.5" height="27.09" fill="#d398a6"/><rect x="954.2" y="503.5" width="41.5" height="27.09" fill="#f7ece7"/><rect x="995.65" y="503.5" width="41.5" height="27.09" fill="#f9f0eb"/><rect x="1037.1" y="503.5" width="41.5" height="27.09" fill="#f9f0eb"/><rect x="83.75" y="530.53" width="41.5" height="27.09" fill="#f9f0eb"/><rect x="125.2" y="530.53" width="41.5" height="27.09" fill="#f9f0eb"/><rect x="166.65" y="530.53" width="41.5" height="27.09" fill="#f9f0eb"/><rect x="208.1" y="530.53" width="41.5" height="27.09" fill="#f9f0eb"/><rect x="249.55" y="530.53" width="41.5" height="27.09" fill="#f9f0eb"/><rect x="291" y="530.53" width="41.5" height="27.09" fill="#f9f0eb"/><rect x="332.45" y="530.53" width="41.5" height="27.09" fill="#f9f0eb"/><rect x="373.9" y="530.53" width="41.5" height="27.09" fill="#f9f0eb"/><rect x="415.35" y="530.53" width="41.5" height="27.09" fill="#f9f0eb"/><rect x="456.8" y="530.53" width="41.5" height="27.09" fill="#f7ece7"/><rect x="498.25" y="530.53" width="41.5" height="27.09" fill="#f6e9e2"/><rect x="539.7" y="530.53" width="41.5" height="27.09" fill="#f6e9e2"/><rect x="581.15" y="530.53" width="41.5" height="27.09" fill="#f4e5de"/><rect x="622.6" y="530.53" width="41.5" height="27.09" fill="#ebcbc6"/><rect x="664.05" y="530.53" width="41.5" height="27.09" fill="#e8c2c0"/><rect x="705.5" y="530.53" width="41.5" height="27.09" fill="#b77495"/><rect x="746.95" y="530.53" width="41.5" height="27.09" fill="#2d1e3e"/><rect x="788.4" y="530.53" width="41.5" height="27.09" fill="#2d1e3e"/><rect x="829.85" y="530.53" width="41.5" height="27.09" fill="#2d1e3e"/><rect x="871.3" y="530.53" width="41.5" height="27.09" fill="#2d1e3e"/><rect x="912.75" y="530.53" width="41.5" height="27.09" fill="#2d1e3e"/><rect x="954.2" y="530.53" width="41.5" height="27.09" fill="#f7ece7"/><rect x="995.65" y="530.53" width="41.5" height="27.09" fill="#f9f0eb"/><rect x="1037.1" y="530.53" width="41.5" height="27.09" fill="#f9f0eb"/><rect x="83.75" y="557.56" width="41.5" height="27.09" fill="#f9f0eb"/><rect x="125.2" y="557.56" width="41.5" height="27.09" fill="#f9f0eb"/><rect x="166.65" y="557.56" width="41.5" height="27.09" fill="#f9f0eb"/><rect x="208.1" y="557.56" width="41.5" height="27.09" fill="#f9f0eb"/><rect x="249.55" y="557.56" width="41.5" height="27.09" fill="#f9f0eb"/><rect x="291" y="557.56" width="41.5" height="27.09" fill="#f9f0eb"/><rect x="332.45" y="557.56" width="41.5" height="27.09" fill="#f9f0eb"/><rect x="373.9" y="557.56" width="41.5" height="27.09" fill="#f9f0eb"/><rect x="415.35" y="557.56" width="41.5" height="27.09" fill="#f9f0eb"/><rect x="456.8" y="557.56" width="41.5" height="27.09" fill="#f9f0eb"/><rect x="498.25" y="557.56" width="41.5" height="27.09" fill="#f9f0eb"/><rect x="539.7" y="557.56" width="41.5" height="27.09" fill="#f9f0eb"/><rect x="581.15" y="557.56" width="41.5" height="27.09" fill="#f9f0eb"/><rect x="622.6" y="557.56" width="41.5" height="27.09" fill="#f6e9e2"/><rect x="664.05" y="557.56" width="41.5" height="27.09" fill="#f6e9e2"/><rect x="705.5" y="557.56" width="41.5" height="27.09" fill="#f6e9e2"/><rect x="746.95" y="557.56" width="41.5" height="27.09" fill="#bb7897"/><rect x="788.4" y="557.56" width="41.5" height="27.09" fill="#2d1e3e"/><rect x="829.85" y="557.56" width="41.5" height="27.09" fill="#2d1e3e"/><rect x="871.3" y="557.56" width="41.5" height="27.09" fill="#2d1e3e"/><rect x="912.75" y="557.56" width="41.5" height="27.09" fill="#2d1e3e"/><rect x="954.2" y="557.56" width="41.5" height="27.09" fill="#eac7c3"/><rect x="995.65" y="557.56" width="41.5" height="27.09" fill="#f9f0eb"/><rect x="1037.1" y="557.56" width="41.5" height="27.09" fill="#f9f0eb"/><rect x="83.75" y="584.6" width="41.5" height="27.09" fill="#f9f0eb"/><rect x="125.2" y="584.6" width="41.5" height="27.09" fill="#f9f0eb"/><rect x="166.65" y="584.6" width="41.5" height="27.09" fill="#f9f0eb"/><rect x="208.1" y="584.6" width="41.5" height="27.09" fill="#f9f0eb"/><rect x="249.55" y="584.6" width="41.5" height="27.09" fill="#f9f0eb"/><rect x="291" y="584.6" width="41.5" height="27.09" fill="#f9f0eb"/><rect x="332.45" y="584.6" width="41.5" height="27.09" fill="#f9f0eb"/><rect x="373.9" y="584.6" width="41.5" height="27.09" fill="#f9f0eb"/><rect x="415.35" y="584.6" width="41.5" height="27.09" fill="#f9f0eb"/><rect x="456.8" y="584.6" width="41.5" height="27.09" fill="#f9f0eb"/><rect x="498.25" y="584.6" width="41.5" height="27.09" fill="#f9f0eb"/><rect x="539.7" y="584.6" width="41.5" height="27.09" fill="#f9f0eb"/><rect x="581.15" y="584.6" width="41.5" height="27.09" fill="#f9f0eb"/><rect x="622.6" y="584.6" width="41.5" height="27.09" fill="#f9f0eb"/><rect x="664.05" y="584.6" width="41.5" height="27.09" fill="#f9f0eb"/><rect x="705.5" y="584.6" width="41.5" height="27.09" fill="#f9f0eb"/><rect x="746.95" y="584.6" width="41.5" height="27.09" fill="#e8c2c0"/><rect x="788.4" y="584.6" width="41.5" height="27.09" fill="#d398a6"/><rect x="829.85" y="584.6" width="41.5" height="27.09" fill="#2d1e3e"/><rect x="871.3" y="584.6" width="41.5" height="27.09" fill="#2d1e3e"/><rect x="912.75" y="584.6" width="41.5" height="27.09" fill="#2d1e3e"/><rect x="954.2" y="584.6" width="41.5" height="27.09" fill="#8f5383"/><rect x="995.65" y="584.6" width="41.5" height="27.09" fill="#f9f0eb"/><rect x="1037.1" y="584.6" width="41.5" height="27.09" fill="#f9f0eb"/><rect x="83.75" y="611.63" width="41.5" height="27.09" fill="#f9f0eb"/><rect x="125.2" y="611.63" width="41.5" height="27.09" fill="#f9f0eb"/><rect x="166.65" y="611.63" width="41.5" height="27.09" fill="#f9f0eb"/><rect x="208.1" y="611.63" width="41.5" height="27.09" fill="#f9f0eb"/><rect x="249.55" y="611.63" width="41.5" height="27.09" fill="#f9f0eb"/><rect x="291" y="611.63" width="41.5" height="27.09" fill="#f9f0eb"/><rect x="332.45" y="611.63" width="41.5" height="27.09" fill="#f9f0eb"/><rect x="373.9" y="611.63" width="41.5" height="27.09" fill="#f9f0eb"/><rect x="415.35" y="611.63" width="41.5" height="27.09" fill="#f9f0eb"/><rect x="456.8" y="611.63" width="41.5" height="27.09" fill="#f9f0eb"/><rect x="498.25" y="611.63" width="41.5" height="27.09" fill="#f9f0eb"/><rect x="539.7" y="611.63" width="41.5" height="27.09" fill="#f9f0eb"/><rect x="581.15" y="611.63" width="41.5" height="27.09" fill="#f9f0eb"/><rect x="622.6" y="611.63" width="41.5" height="27.09" fill="#f9f0eb"/><rect x="664.05" y="611.63" width="41.5" height="27.09" fill="#f9f0eb"/><rect x="705.5" y="611.63" width="41.5" height="27.09" fill="#f9f0eb"/><rect x="746.95" y="611.63" width="41.5" height="27.09" fill="#f9f0eb"/><rect x="788.4" y="611.63" width="41.5" height="27.09" fill="#f7ece7"/><rect x="829.85" y="611.63" width="41.5" height="27.09" fill="#f7ece7"/><rect x="871.3" y="611.63" width="41.5" height="27.09" fill="#eac7c3"/><rect x="912.75" y="611.63" width="41.5" height="27.09" fill="#8f5383"/><rect x="954.2" y="611.63" width="41.5" height="27.09" fill="#2d1e3e"/><rect x="995.65" y="611.63" width="41.5" height="27.09" fill="#eac7c3"/><rect x="1037.1" y="611.63" width="41.5" height="27.09" fill="#f9f0eb"/><rect x="83.75" y="638.67" width="41.5" height="27.09" fill="#f9f0eb"/><rect x="125.2" y="638.67" width="41.5" height="27.09" fill="#f9f0eb"/><rect x="166.65" y="638.67" width="41.5" height="27.09" fill="#f9f0eb"/><rect x="208.1" y="638.67" width="41.5" height="27.09" fill="#f9f0eb"/><rect x="249.55" y="638.67" width="41.5" height="27.09" fill="#f9f0eb"/><rect x="291" y="638.67" width="41.5" height="27.09" fill="#f9f0eb"/><rect x="332.45" y="638.67" width="41.5" height="27.09" fill="#f9f0eb"/><rect x="373.9" y="638.67" width="41.5" height="27.09" fill="#f9f0eb"/><rect x="415.35" y="638.67" width="41.5" height="27.09" fill="#f9f0eb"/><rect x="456.8" y="638.67" width="41.5" height="27.09" fill="#f9f0eb"/><rect x="498.25" y="638.67" width="41.5" height="27.09" fill="#f9f0eb"/><rect x="539.7" y="638.67" width="41.5" height="27.09" fill="#f9f0eb"/><rect x="581.15" y="638.67" width="41.5" height="27.09" fill="#f9f0eb"/><rect x="622.6" y="638.67" width="41.5" height="27.09" fill="#f9f0eb"/><rect x="664.05" y="638.67" width="41.5" height="27.09" fill="#f9f0eb"/><rect x="705.5" y="638.67" width="41.5" height="27.09" fill="#f9f0eb"/><rect x="746.95" y="638.67" width="41.5" height="27.09" fill="#f9f0eb"/><rect x="788.4" y="638.67" width="41.5" height="27.09" fill="#f9f0eb"/><rect x="829.85" y="638.67" width="41.5" height="27.09" fill="#f9f0eb"/><rect x="871.3" y="638.67" width="41.5" height="27.09" fill="#f9f0eb"/><rect x="912.75" y="638.67" width="41.5" height="27.09" fill="#f9f0eb"/><rect x="954.2" y="638.67" width="41.5" height="27.09" fill="#eac7c3"/><rect x="995.65" y="638.67" width="41.5" height="27.09" fill="#2d1e3e"/><rect x="1037.1" y="638.67" width="41.5" height="27.09" fill="#f9f0eb"/><rect x="83.75" y="665.7" width="41.5" height="27.09" fill="#f9f0eb"/><rect x="125.2" y="665.7" width="41.5" height="27.09" fill="#f9f0eb"/><rect x="166.65" y="665.7" width="41.5" height="27.09" fill="#f9f0eb"/><rect x="208.1" y="665.7" width="41.5" height="27.09" fill="#f9f0eb"/><rect x="249.55" y="665.7" width="41.5" height="27.09" fill="#f9f0eb"/><rect x="291" y="665.7" width="41.5" height="27.09" fill="#f9f0eb"/><rect x="332.45" y="665.7" width="41.5" height="27.09" fill="#f9f0eb"/><rect x="373.9" y="665.7" width="41.5" height="27.09" fill="#f9f0eb"/><rect x="415.35" y="665.7" width="41.5" height="27.09" fill="#f9f0eb"/><rect x="456.8" y="665.7" width="41.5" height="27.09" fill="#f9f0eb"/><rect x="498.25" y="665.7" width="41.5" height="27.09" fill="#f9f0eb"/><rect x="539.7" y="665.7" width="41.5" height="27.09" fill="#f9f0eb"/><rect x="581.15" y="665.7" width="41.5" height="27.09" fill="#f9f0eb"/><rect x="622.6" y="665.7" width="41.5" height="27.09" fill="#f9f0eb"/><rect x="664.05" y="665.7" width="41.5" height="27.09" fill="#f9f0eb"/><rect x="705.5" y="665.7" width="41.5" height="27.09" fill="#f9f0eb"/><rect x="746.95" y="665.7" width="41.5" height="27.09" fill="#f9f0eb"/><rect x="788.4" y="665.7" width="41.5" height="27.09" fill="#f9f0eb"/><rect x="829.85" y="665.7" width="41.5" height="27.09" fill="#f9f0eb"/><rect x="871.3" y="665.7" width="41.5" height="27.09" fill="#f9f0eb"/><rect x="912.75" y="665.7" width="41.5" height="27.09" fill="#f9f0eb"/><rect x="954.2" y="665.7" width="41.5" height="27.09" fill="#f9f0eb"/><rect x="995.65" y="665.7" width="41.5" height="27.09" fill="#f9f0eb"/><rect x="1037.1" y="665.7" width="41.5" height="27.09" fill="#2d1e3e"/></g>
<path d="M125.2 43.9V692.74M166.65 43.9V692.74M208.1 43.9V692.74M249.55 43.9V692.74M291 43.9V692.74M332.45 43.9V692.74M373.9 43.9V692.74M415.35 43.9V692.74M456.8 43.9V692.74M498.25 43.9V692.74M539.7 43.9V692.74M581.15 43.9V692.74M622.6 43.9V692.74M664.05 43.9V692.74M705.5 43.9V692.74M746.95 43.9V692.74M788.4 43.9V692.74M829.85 43.9V692.74M871.3 43.9V692.74M912.75 43.9V692.74M954.2 43.9V692.74M995.65 43.9V692.74M1037.1 43.9V692.74M83.75 70.94H1078.55M83.75 97.97H1078.55M83.75 125H1078.55M83.75 152.04H1078.55M83.75 179.08H1078.55M83.75 206.11H1078.55M83.75 233.15H1078.55M83.75 260.18H1078.55M83.75 287.21H1078.55M83.75 314.25H1078.55M83.75 341.28H1078.55M83.75 368.32H1078.55M83.75 395.35H1078.55M83.75 422.39H1078.55M83.75 449.42H1078.55M83.75 476.46H1078.55M83.75 503.5H1078.55M83.75 530.53H1078.55M83.75 557.56H1078.55M83.75 584.6H1078.55M83.75 611.63H1078.55M83.75 638.67H1078.55M83.75 665.7H1078.55" stroke="#fff" stroke-opacity="0.7" stroke-width="1.0" fill="none"/>
<rect x="83.75" y="43.9" width="994.8" height="648.84" stroke="#fff" stroke-width="1.0" fill="none"/>
<g font-size="19.5" text-anchor="middle" stroke-width="0.25"><text x="145.93" y="63" class="w">0.48</text><text x="187.38" y="63" class="w">0.48</text><text x="228.83" y="63" class="w">0.49</text><text x="270.28" y="63" class="w">0.24</text><text x="311.73" y="63" class="w">0.34</text><text x="353.18" y="63" class="w">0.16</text><text x="394.63" y="63" class="w">0.07</text><text x="436.08" y="63" class="w">0.10</text><text x="477.53" y="63" class="w">0.04</text><text x="518.98" y="63" class="w">0.02</text><text x="560.43" y="63" class="d">0.01</text><text x="601.88" y="63" class="d">0.00</text><text x="643.33" y="63" class="d">0.00</text><text x="684.78" y="63" class="d">0.00</text><text x="726.23" y="63" class="d">0.00</text><text x="767.68" y="63" class="d">0.00</text><text x="809.13" y="63" class="d">0.00</text><text x="850.58" y="63" class="d">0.00</text><text x="892.03" y="63" class="d">0.00</text><text x="933.48" y="63" class="d">0.00</text><text x="974.93" y="63" class="d">0.00</text><text x="1016.38" y="63" class="d">0.00</text><text x="1057.82" y="63" class="d">0.00</text><text x="104.47" y="90.03" class="w">0.48</text><text x="187.38" y="90.03" class="w">0.44</text><text x="228.83" y="90.03" class="w">0.54</text><text x="270.28" y="90.03" class="w">0.37</text><text x="311.73" y="90.03" class="w">0.40</text><text x="353.18" y="90.03" class="w">0.25</text><text x="394.63" y="90.03" class="w">0.17</text><text x="436.08" y="90.03" class="w">0.15</text><text x="477.53" y="90.03" class="w">0.10</text><text x="518.98" y="90.03" class="w">0.08</text><text x="560.43" y="90.03" class="w">0.03</text><text x="601.88" y="90.03" class="d">0.01</text><text x="643.33" y="90.03" class="d">0.01</text><text x="684.78" y="90.03" class="d">0.00</text><text x="726.23" y="90.03" class="d">0.00</text><text x="767.68" y="90.03" class="d">0.00</text><text x="809.13" y="90.03" class="d">0.00</text><text x="850.58" y="90.03" class="d">0.00</text><text x="892.03" y="90.03" class="d">0.00</text><text x="933.48" y="90.03" class="d">0.00</text><text x="974.93" y="90.03" class="d">0.00</text><text x="1016.38" y="90.03" class="d">0.00</text><text x="1057.82" y="90.03" class="d">0.00</text><text x="104.47" y="117.07" class="w">0.48</text><text x="145.93" y="117.07" class="w">0.44</text><text x="228.83" y="117.07" class="w">0.45</text><text x="270.28" y="117.07" class="w">0.38</text><text x="311.73" y="117.07" class="w">0.47</text><text x="353.18" y="117.07" class="w">0.33</text><text x="394.63" y="117.07" class="w">0.24</text><text x="436.08" y="117.07" class="w">0.27</text><text x="477.53" y="117.07" class="w">0.09</text><text x="518.98" y="117.07" class="w">0.11</text><text x="560.43" y="117.07" class="w">0.04</text><text x="601.88" y="117.07" class="d">0.01</text><text x="643.33" y="117.07" class="d">0.01</text><text x="684.78" y="117.07" class="d">0.00</text><text x="726.23" y="117.07" class="d">0.00</text><text x="767.68" y="117.07" class="d">0.00</text><text x="809.13" y="117.07" class="d">0.00</text><text x="850.58" y="117.07" class="d">0.00</text><text x="892.03" y="117.07" class="d">0.00</text><text x="933.48" y="117.07" class="d">0.00</text><text x="974.93" y="117.07" class="d">0.00</text><text x="1016.38" y="117.07" class="d">0.00</text><text x="1057.82" y="117.07" class="d">0.00</text><text x="104.47" y="144.1" class="w">0.49</text><text x="145.93" y="144.1" class="w">0.54</text><text x="187.38" y="144.1" class="w">0.45</text><text x="270.28" y="144.1" class="w">0.40</text><text x="311.73" y="144.1" class="w">0.55</text><text x="353.18" y="144.1" class="w">0.35</text><text x="394.63" y="144.1" class="w">0.22</text><text x="436.08" y="144.1" class="w">0.24</text><text x="477.53" y="144.1" class="w">0.10</text><text x="518.98" y="144.1" class="w">0.08</text><text x="560.43" y="144.1" class="w">0.07</text><text x="601.88" y="144.1" class="d">0.02</text><text x="643.33" y="144.1" class="d">0.01</text><text x="684.78" y="144.1" class="d">0.00</text><text x="726.23" y="144.1" class="d">0.00</text><text x="767.68" y="144.1" class="d">0.00</text><text x="809.13" y="144.1" class="d">0.00</text><text x="850.58" y="144.1" class="d">0.00</text><text x="892.03" y="144.1" class="d">0.00</text><text x="933.48" y="144.1" class="d">0.00</text><text x="974.93" y="144.1" class="d">0.00</text><text x="1016.38" y="144.1" class="d">0.00</text><text x="1057.82" y="144.1" class="d">0.00</text><text x="104.47" y="171.14" class="w">0.24</text><text x="145.93" y="171.14" class="w">0.37</text><text x="187.38" y="171.14" class="w">0.38</text><text x="228.83" y="171.14" class="w">0.40</text><text x="311.73" y="171.14" class="w">0.46</text><text x="353.18" y="171.14" class="w">0.48</text><text x="394.63" y="171.14" class="w">0.45</text><text x="436.08" y="171.14" class="w">0.37</text><text x="477.53" y="171.14" class="w">0.29</text><text x="518.98" y="171.14" class="w">0.16</text><text x="560.43" y="171.14" class="w">0.09</text><text x="601.88" y="171.14" class="w">0.08</text><text x="643.33" y="171.14" class="w">0.03</text><text x="684.78" y="171.14" class="d">0.01</text><text x="726.23" y="171.14" class="d">0.00</text><text x="767.68" y="171.14" class="d">0.00</text><text x="809.13" y="171.14" class="d">0.00</text><text x="850.58" y="171.14" class="d">0.00</text><text x="892.03" y="171.14" class="d">0.00</text><text x="933.48" y="171.14" class="d">0.00</text><text x="974.93" y="171.14" class="d">0.00</text><text x="1016.38" y="171.14" class="d">0.00</text><text x="1057.82" y="171.14" class="d">0.00</text><text x="104.47" y="198.18" class="w">0.34</text><text x="145.93" y="198.18" class="w">0.40</text><text x="187.38" y="198.18" class="w">0.47</text><text x="228.83" y="198.18" class="w">0.55</text><text x="270.28" y="198.18" class="w">0.46</text><text x="353.18" y="198.18" class="w">0.58</text><text x="394.63" y="198.18" class="w">0.31</text><text x="436.08" y="198.18" class="w">0.41</text><text x="477.53" y="198.18" class="w">0.22</text><text x="518.98" y="198.18" class="w">0.19</text><text x="560.43" y="198.18" class="w">0.14</text><text x="601.88" y="198.18" class="w">0.03</text><text x="643.33" y="198.18" class="w">0.02</text><text x="684.78" y="198.18" class="d">0.01</text><text x="726.23" y="198.18" class="d">0.00</text><text x="767.68" y="198.18" class="d">0.00</text><text x="809.13" y="198.18" class="d">0.00</text><text x="850.58" y="198.18" class="d">0.00</text><text x="892.03" y="198.18" class="d">0.00</text><text x="933.48" y="198.18" class="d">0.00</text><text x="974.93" y="198.18" class="d">0.00</text><text x="1016.38" y="198.18" class="d">0.00</text><text x="1057.82" y="198.18" class="d">0.00</text><text x="104.47" y="225.21" class="w">0.16</text><text x="145.93" y="225.21" class="w">0.25</text><text x="187.38" y="225.21" class="w">0.33</text><text x="228.83" y="225.21" class="w">0.35</text><text x="270.28" y="225.21" class="w">0.48</text><text x="311.73" y="225.21" class="w">0.58</text><text x="394.63" y="225.21" class="w">0.51</text><text x="436.08" y="225.21" class="w">0.52</text><text x="477.53" y="225.21" class="w">0.35</text><text x="518.98" y="225.21" class="w">0.34</text><text x="560.43" y="225.21" class="w">0.26</text><text x="601.88" y="225.21" class="w">0.10</text><text x="643.33" y="225.21" class="w">0.08</text><text x="684.78" y="225.21" class="w">0.02</text><text x="726.23" y="225.21" class="d">0.01</text><text x="767.68" y="225.21" class="d">0.00</text><text x="809.13" y="225.21" class="d">0.00</text><text x="850.58" y="225.21" class="d">0.00</text><text x="892.03" y="225.21" class="d">0.00</text><text x="933.48" y="225.21" class="d">0.00</text><text x="974.93" y="225.21" class="d">0.00</text><text x="1016.38" y="225.21" class="d">0.00</text><text x="1057.82" y="225.21" class="d">0.00</text><text x="104.47" y="252.25" class="w">0.07</text><text x="145.93" y="252.25" class="w">0.17</text><text x="187.38" y="252.25" class="w">0.24</text><text x="228.83" y="252.25" class="w">0.22</text><text x="270.28" y="252.25" class="w">0.45</text><text x="311.73" y="252.25" class="w">0.31</text><text x="353.18" y="252.25" class="w">0.51</text><text x="436.08" y="252.25" class="w">0.44</text><text x="477.53" y="252.25" class="w">0.51</text><text x="518.98" y="252.25" class="w">0.56</text><text x="560.43" y="252.25" class="w">0.34</text><text x="601.88" y="252.25" class="w">0.20</text><text x="643.33" y="252.25" class="w">0.13</text><text x="684.78" y="252.25" class="w">0.05</text><text x="726.23" y="252.25" class="d">0.02</text><text x="767.68" y="252.25" class="d">0.01</text><text x="809.13" y="252.25" class="d">0.00</text><text x="850.58" y="252.25" class="d">0.00</text><text x="892.03" y="252.25" class="d">0.00</text><text x="933.48" y="252.25" class="d">0.00</text><text x="974.93" y="252.25" class="d">0.00</text><text x="1016.38" y="252.25" class="d">0.00</text><text x="1057.82" y="252.25" class="d">0.00</text><text x="104.47" y="279.28" class="w">0.10</text><text x="145.93" y="279.28" class="w">0.15</text><text x="187.38" y="279.28" class="w">0.27</text><text x="228.83" y="279.28" class="w">0.24</text><text x="270.28" y="279.28" class="w">0.37</text><text x="311.73" y="279.28" class="w">0.41</text><text x="353.18" y="279.28" class="w">0.52</text><text x="394.63" y="279.28" class="w">0.44</text><text x="477.53" y="279.28" class="w">0.31</text><text x="518.98" y="279.28" class="w">0.45</text><text x="560.43" y="279.28" class="w">0.21</text><text x="601.88" y="279.28" class="w">0.16</text><text x="643.33" y="279.28" class="w">0.10</text><text x="684.78" y="279.28" class="w">0.06</text><text x="726.23" y="279.28" class="d">0.01</text><text x="767.68" y="279.28" class="d">0.01</text><text x="809.13" y="279.28" class="d">0.00</text><text x="850.58" y="279.28" class="d">0.00</text><text x="892.03" y="279.28" class="d">0.00</text><text x="933.48" y="279.28" class="d">0.00</text><text x="974.93" y="279.28" class="d">0.00</text><text x="1016.38" y="279.28" class="d">0.00</text><text x="1057.82" y="279.28" class="d">0.00</text><text x="104.47" y="306.31" class="w">0.04</text><text x="145.93" y="306.31" class="w">0.10</text><text x="187.38" y="306.31" class="w">0.09</text><text x="228.83" y="306.31" class="w">0.10</text><text x="270.28" y="306.31" class="w">0.29</text><text x="311.73" y="306.31" class="w">0.22</text><text x="353.18" y="306.31" class="w">0.35</text><text x="394.63" y="306.31" class="w">0.51</text><text x="436.08" y="306.31" class="w">0.31</text><text x="518.98" y="306.31" class="w">0.42</text><text x="560.43" y="306.31" class="w">0.41</text><text x="601.88" y="306.31" class="w">0.31</text><text x="643.33" y="306.31" class="w">0.18</text><text x="684.78" y="306.31" class="w">0.11</text><text x="726.23" y="306.31" class="w">0.03</text><text x="767.68" y="306.31" class="d">0.01</text><text x="809.13" y="306.31" class="d">0.01</text><text x="850.58" y="306.31" class="d">0.00</text><text x="892.03" y="306.31" class="d">0.00</text><text x="933.48" y="306.31" class="d">0.00</text><text x="974.93" y="306.31" class="d">0.00</text><text x="1016.38" y="306.31" class="d">0.00</text><text x="1057.82" y="306.31" class="d">0.00</text><text x="104.47" y="333.35" class="w">0.02</text><text x="145.93" y="333.35" class="w">0.08</text><text x="187.38" y="333.35" class="w">0.11</text><text x="228.83" y="333.35" class="w">0.08</text><text x="270.28" y="333.35" class="w">0.16</text><text x="311.73" y="333.35" class="w">0.19</text><text x="353.18" y="333.35" class="w">0.34</text><text x="394.63" y="333.35" class="w">0.56</text><text x="436.08" y="333.35" class="w">0.45</text><text x="477.53" y="333.35" class="w">0.42</text><text x="560.43" y="333.35" class="w">0.39</text><text x="601.88" y="333.35" class="w">0.37</text><text x="643.33" y="333.35" class="w">0.27</text><text x="684.78" y="333.35" class="w">0.14</text><text x="726.23" y="333.35" class="w">0.05</text><text x="767.68" y="333.35" class="w">0.02</text><text x="809.13" y="333.35" class="d">0.01</text><text x="850.58" y="333.35" class="d">0.00</text><text x="892.03" y="333.35" class="d">0.00</text><text x="933.48" y="333.35" class="d">0.00</text><text x="974.93" y="333.35" class="d">0.00</text><text x="1016.38" y="333.35" class="d">0.00</text><text x="1057.82" y="333.35" class="d">0.00</text><text x="104.47" y="360.38" class="d">0.01</text><text x="145.93" y="360.38" class="w">0.03</text><text x="187.38" y="360.38" class="w">0.04</text><text x="228.83" y="360.38" class="w">0.07</text><text x="270.28" y="360.38" class="w">0.09</text><text x="311.73" y="360.38" class="w">0.14</text><text x="353.18" y="360.38" class="w">0.26</text><text x="394.63" y="360.38" class="w">0.34</text><text x="436.08" y="360.38" class="w">0.21</text><text x="477.53" y="360.38" class="w">0.41</text><text x="518.98" y="360.38" class="w">0.39</text><text x="601.88" y="360.38" class="w">0.45</text><text x="643.33" y="360.38" class="w">0.39</text><text x="684.78" y="360.38" class="w">0.16</text><text x="726.23" y="360.38" class="w">0.06</text><text x="767.68" y="360.38" class="w">0.03</text><text x="809.13" y="360.38" class="d">0.01</text><text x="850.58" y="360.38" class="d">0.00</text><text x="892.03" y="360.38" class="d">0.00</text><text x="933.48" y="360.38" class="d">0.00</text><text x="974.93" y="360.38" class="d">0.00</text><text x="1016.38" y="360.38" class="d">0.00</text><text x="1057.82" y="360.38" class="d">0.00</text><text x="104.47" y="387.42" class="d">0.00</text><text x="145.93" y="387.42" class="d">0.01</text><text x="187.38" y="387.42" class="d">0.01</text><text x="228.83" y="387.42" class="d">0.02</text><text x="270.28" y="387.42" class="w">0.08</text><text x="311.73" y="387.42" class="w">0.03</text><text x="353.18" y="387.42" class="w">0.10</text><text x="394.63" y="387.42" class="w">0.20</text><text x="436.08" y="387.42" class="w">0.16</text><text x="477.53" y="387.42" class="w">0.31</text><text x="518.98" y="387.42" class="w">0.37</text><text x="560.43" y="387.42" class="w">0.45</text><text x="643.33" y="387.42" class="w">0.50</text><text x="684.78" y="387.42" class="w">0.36</text><text x="726.23" y="387.42" class="w">0.14</text><text x="767.68" y="387.42" class="w">0.06</text><text x="809.13" y="387.42" class="d">0.02</text><text x="850.58" y="387.42" class="d">0.00</text><text x="892.03" y="387.42" class="d">0.00</text><text x="933.48" y="387.42" class="d">0.00</text><text x="974.93" y="387.42" class="d">0.00</text><text x="1016.38" y="387.42" class="d">0.00</text><text x="1057.82" y="387.42" class="d">0.00</text><text x="104.47" y="414.45" class="d">0.00</text><text x="145.93" y="414.45" class="d">0.01</text><text x="187.38" y="414.45" class="d">0.01</text><text x="228.83" y="414.45" class="d">0.01</text><text x="270.28" y="414.45" class="w">0.03</text><text x="311.73" y="414.45" class="w">0.02</text><text x="353.18" y="414.45" class="w">0.08</text><text x="394.63" y="414.45" class="w">0.13</text><text x="436.08" y="414.45" class="w">0.10</text><text x="477.53" y="414.45" class="w">0.18</text><text x="518.98" y="414.45" class="w">0.27</text><text x="560.43" y="414.45" class="w">0.39</text><text x="601.88" y="414.45" class="w">0.50</text><text x="684.78" y="414.45" class="w">0.46</text><text x="726.23" y="414.45" class="w">0.25</text><text x="767.68" y="414.45" class="w">0.10</text><text x="809.13" y="414.45" class="w">0.05</text><text x="850.58" y="414.45" class="d">0.01</text><text x="892.03" y="414.45" class="d">0.00</text><text x="933.48" y="414.45" class="d">0.00</text><text x="974.93" y="414.45" class="d">0.00</text><text x="1016.38" y="414.45" class="d">0.00</text><text x="1057.82" y="414.45" class="d">0.00</text><text x="104.47" y="441.49" class="d">0.00</text><text x="145.93" y="441.49" class="d">0.00</text><text x="187.38" y="441.49" class="d">0.00</text><text x="228.83" y="441.49" class="d">0.00</text><text x="270.28" y="441.49" class="d">0.01</text><text x="311.73" y="441.49" class="d">0.01</text><text x="353.18" y="441.49" class="w">0.02</text><text x="394.63" y="441.49" class="w">0.05</text><text x="436.08" y="441.49" class="w">0.06</text><text x="477.53" y="441.49" class="w">0.11</text><text x="518.98" y="441.49" class="w">0.14</text><text x="560.43" y="441.49" class="w">0.16</text><text x="601.88" y="441.49" class="w">0.36</text><text x="643.33" y="441.49" class="w">0.46</text><text x="726.23" y="441.49" class="w">0.36</text><text x="767.68" y="441.49" class="w">0.24</text><text x="809.13" y="441.49" class="w">0.08</text><text x="850.58" y="441.49" class="d">0.01</text><text x="892.03" y="441.49" class="d">0.00</text><text x="933.48" y="441.49" class="d">0.00</text><text x="974.93" y="441.49" class="d">0.00</text><text x="1016.38" y="441.49" class="d">0.00</text><text x="1057.82" y="441.49" class="d">0.00</text><text x="104.47" y="468.52" class="d">0.00</text><text x="145.93" y="468.52" class="d">0.00</text><text x="187.38" y="468.52" class="d">0.00</text><text x="228.83" y="468.52" class="d">0.00</text><text x="270.28" y="468.52" class="d">0.00</text><text x="311.73" y="468.52" class="d">0.00</text><text x="353.18" y="468.52" class="d">0.01</text><text x="394.63" y="468.52" class="d">0.02</text><text x="436.08" y="468.52" class="d">0.01</text><text x="477.53" y="468.52" class="w">0.03</text><text x="518.98" y="468.52" class="w">0.05</text><text x="560.43" y="468.52" class="w">0.06</text><text x="601.88" y="468.52" class="w">0.14</text><text x="643.33" y="468.52" class="w">0.25</text><text x="684.78" y="468.52" class="w">0.36</text><text x="767.68" y="468.52" class="w">0.41</text><text x="809.13" y="468.52" class="w">0.28</text><text x="850.58" y="468.52" class="w">0.03</text><text x="892.03" y="468.52" class="d">0.00</text><text x="933.48" y="468.52" class="d">0.00</text><text x="974.93" y="468.52" class="d">0.00</text><text x="1016.38" y="468.52" class="d">0.00</text><text x="1057.82" y="468.52" class="d">0.00</text><text x="104.47" y="495.56" class="d">0.00</text><text x="145.93" y="495.56" class="d">0.00</text><text x="187.38" y="495.56" class="d">0.00</text><text x="228.83" y="495.56" class="d">0.00</text><text x="270.28" y="495.56" class="d">0.00</text><text x="311.73" y="495.56" class="d">0.00</text><text x="353.18" y="495.56" class="d">0.00</text><text x="394.63" y="495.56" class="d">0.01</text><text x="436.08" y="495.56" class="d">0.01</text><text x="477.53" y="495.56" class="d">0.01</text><text x="518.98" y="495.56" class="w">0.02</text><text x="560.43" y="495.56" class="w">0.03</text><text x="601.88" y="495.56" class="w">0.06</text><text x="643.33" y="495.56" class="w">0.10</text><text x="684.78" y="495.56" class="w">0.24</text><text x="726.23" y="495.56" class="w">0.41</text><text x="809.13" y="495.56" class="w">0.49</text><text x="850.58" y="495.56" class="w">0.15</text><text x="892.03" y="495.56" class="w">0.03</text><text x="933.48" y="495.56" class="d">0.01</text><text x="974.93" y="495.56" class="d">0.00</text><text x="1016.38" y="495.56" class="d">0.00</text><text x="1057.82" y="495.56" class="d">0.00</text><text x="104.47" y="522.6" class="d">0.00</text><text x="145.93" y="522.6" class="d">0.00</text><text x="187.38" y="522.6" class="d">0.00</text><text x="228.83" y="522.6" class="d">0.00</text><text x="270.28" y="522.6" class="d">0.00</text><text x="311.73" y="522.6" class="d">0.00</text><text x="353.18" y="522.6" class="d">0.00</text><text x="394.63" y="522.6" class="d">0.00</text><text x="436.08" y="522.6" class="d">0.00</text><text x="477.53" y="522.6" class="d">0.01</text><text x="518.98" y="522.6" class="d">0.01</text><text x="560.43" y="522.6" class="d">0.01</text><text x="601.88" y="522.6" class="d">0.02</text><text x="643.33" y="522.6" class="w">0.05</text><text x="684.78" y="522.6" class="w">0.08</text><text x="726.23" y="522.6" class="w">0.28</text><text x="767.68" y="522.6" class="w">0.49</text><text x="850.58" y="522.6" class="w">0.27</text><text x="892.03" y="522.6" class="w">0.08</text><text x="933.48" y="522.6" class="w">0.02</text><text x="974.93" y="522.6" class="d">0.00</text><text x="1016.38" y="522.6" class="d">0.00</text><text x="1057.82" y="522.6" class="d">0.00</text><text x="104.47" y="549.63" class="d">0.00</text><text x="145.93" y="549.63" class="d">0.00</text><text x="187.38" y="549.63" class="d">0.00</text><text x="228.83" y="549.63" class="d">0.00</text><text x="270.28" y="549.63" class="d">0.00</text><text x="311.73" y="549.63" class="d">0.00</text><text x="353.18" y="549.63" class="d">0.00</text><text x="394.63" y="549.63" class="d">0.00</text><text x="436.08" y="549.63" class="d">0.00</text><text x="477.53" y="549.63" class="d">0.00</text><text x="518.98" y="549.63" class="d">0.00</text><text x="560.43" y="549.63" class="d">0.00</text><text x="601.88" y="549.63" class="d">0.00</text><text x="643.33" y="549.63" class="d">0.01</text><text x="684.78" y="549.63" class="d">0.01</text><text x="726.23" y="549.63" class="w">0.03</text><text x="767.68" y="549.63" class="w">0.15</text><text x="809.13" y="549.63" class="w">0.27</text><text x="892.03" y="549.63" class="w">0.27</text><text x="933.48" y="549.63" class="w">0.07</text><text x="974.93" y="549.63" class="d">0.00</text><text x="1016.38" y="549.63" class="d">0.00</text><text x="1057.82" y="549.63" class="d">0.00</text><text x="104.47" y="576.66" class="d">0.00</text><text x="145.93" y="576.66" class="d">0.00</text><text x="187.38" y="576.66" class="d">0.00</text><text x="228.83" y="576.66" class="d">0.00</text><text x="270.28" y="576.66" class="d">0.00</text><text x="311.73" y="576.66" class="d">0.00</text><text x="353.18" y="576.66" class="d">0.00</text><text x="394.63" y="576.66" class="d">0.00</text><text x="436.08" y="576.66" class="d">0.00</text><text x="477.53" y="576.66" class="d">0.00</text><text x="518.98" y="576.66" class="d">0.00</text><text x="560.43" y="576.66" class="d">0.00</text><text x="601.88" y="576.66" class="d">0.00</text><text x="643.33" y="576.66" class="d">0.00</text><text x="684.78" y="576.66" class="d">0.00</text><text x="726.23" y="576.66" class="d">0.00</text><text x="767.68" y="576.66" class="w">0.03</text><text x="809.13" y="576.66" class="w">0.08</text><text x="850.58" y="576.66" class="w">0.27</text><text x="933.48" y="576.66" class="w">0.31</text><text x="974.93" y="576.66" class="d">0.01</text><text x="1016.38" y="576.66" class="d">0.00</text><text x="1057.82" y="576.66" class="d">0.00</text><text x="104.47" y="603.7" class="d">0.00</text><text x="145.93" y="603.7" class="d">0.00</text><text x="187.38" y="603.7" class="d">0.00</text><text x="228.83" y="603.7" class="d">0.00</text><text x="270.28" y="603.7" class="d">0.00</text><text x="311.73" y="603.7" class="d">0.00</text><text x="353.18" y="603.7" class="d">0.00</text><text x="394.63" y="603.7" class="d">0.00</text><text x="436.08" y="603.7" class="d">0.00</text><text x="477.53" y="603.7" class="d">0.00</text><text x="518.98" y="603.7" class="d">0.00</text><text x="560.43" y="603.7" class="d">0.00</text><text x="601.88" y="603.7" class="d">0.00</text><text x="643.33" y="603.7" class="d">0.00</text><text x="684.78" y="603.7" class="d">0.00</text><text x="726.23" y="603.7" class="d">0.00</text><text x="767.68" y="603.7" class="d">0.01</text><text x="809.13" y="603.7" class="w">0.02</text><text x="850.58" y="603.7" class="w">0.07</text><text x="892.03" y="603.7" class="w">0.31</text><text x="974.93" y="603.7" class="w">0.04</text><text x="1016.38" y="603.7" class="d">0.00</text><text x="1057.82" y="603.7" class="d">0.00</text><text x="104.47" y="630.74" class="d">0.00</text><text x="145.93" y="630.74" class="d">0.00</text><text x="187.38" y="630.74" class="d">0.00</text><text x="228.83" y="630.74" class="d">0.00</text><text x="270.28" y="630.74" class="d">0.00</text><text x="311.73" y="630.74" class="d">0.00</text><text x="353.18" y="630.74" class="d">0.00</text><text x="394.63" y="630.74" class="d">0.00</text><text x="436.08" y="630.74" class="d">0.00</text><text x="477.53" y="630.74" class="d">0.00</text><text x="518.98" y="630.74" class="d">0.00</text><text x="560.43" y="630.74" class="d">0.00</text><text x="601.88" y="630.74" class="d">0.00</text><text x="643.33" y="630.74" class="d">0.00</text><text x="684.78" y="630.74" class="d">0.00</text><text x="726.23" y="630.74" class="d">0.00</text><text x="767.68" y="630.74" class="d">0.00</text><text x="809.13" y="630.74" class="d">0.00</text><text x="850.58" y="630.74" class="d">0.00</text><text x="892.03" y="630.74" class="d">0.01</text><text x="933.48" y="630.74" class="w">0.04</text><text x="1016.38" y="630.74" class="d">0.01</text><text x="1057.82" y="630.74" class="d">0.00</text><text x="104.47" y="657.77" class="d">0.00</text><text x="145.93" y="657.77" class="d">0.00</text><text x="187.38" y="657.77" class="d">0.00</text><text x="228.83" y="657.77" class="d">0.00</text><text x="270.28" y="657.77" class="d">0.00</text><text x="311.73" y="657.77" class="d">0.00</text><text x="353.18" y="657.77" class="d">0.00</text><text x="394.63" y="657.77" class="d">0.00</text><text x="436.08" y="657.77" class="d">0.00</text><text x="477.53" y="657.77" class="d">0.00</text><text x="518.98" y="657.77" class="d">0.00</text><text x="560.43" y="657.77" class="d">0.00</text><text x="601.88" y="657.77" class="d">0.00</text><text x="643.33" y="657.77" class="d">0.00</text><text x="684.78" y="657.77" class="d">0.00</text><text x="726.23" y="657.77" class="d">0.00</text><text x="767.68" y="657.77" class="d">0.00</text><text x="809.13" y="657.77" class="d">0.00</text><text x="850.58" y="657.77" class="d">0.00</text><text x="892.03" y="657.77" class="d">0.00</text><text x="933.48" y="657.77" class="d">0.00</text><text x="974.93" y="657.77" class="d">0.01</text><text x="1057.82" y="657.77" class="d">0.00</text><text x="104.47" y="684.8" class="d">0.00</text><text x="145.93" y="684.8" class="d">0.00</text><text x="187.38" y="684.8" class="d">0.00</text><text x="228.83" y="684.8" class="d">0.00</text><text x="270.28" y="684.8" class="d">0.00</text><text x="311.73" y="684.8" class="d">0.00</text><text x="353.18" y="684.8" class="d">0.00</text><text x="394.63" y="684.8" class="d">0.00</text><text x="436.08" y="684.8" class="d">0.00</text><text x="477.53" y="684.8" class="d">0.00</text><text x="518.98" y="684.8" class="d">0.00</text><text x="560.43" y="684.8" class="d">0.00</text><text x="601.88" y="684.8" class="d">0.00</text><text x="643.33" y="684.8" class="d">0.00</text><text x="684.78" y="684.8" class="d">0.00</text><text x="726.23" y="684.8" class="d">0.00</text><text x="767.68" y="684.8" class="d">0.00</text><text x="809.13" y="684.8" class="d">0.00</text><text x="850.58" y="684.8" class="d">0.00</text><text x="892.03" y="684.8" class="d">0.00</text><text x="933.48" y="684.8" class="d">0.00</text><text x="974.93" y="684.8" class="d">0.00</text><text x="1016.38" y="684.8" class="d">0.00</text></g>
<g font-size="19.7" fill="#262626" stroke="#262626" stroke-width="0.2"><text x="63.03" y="70.6">0</text><text x="47.14" y="93.84">.10</text><text x="46.94" y="120.87">.14</text><text x="47.21" y="147.91">.18</text><text x="47.35" y="174.94">.22</text><text x="47.23" y="201.98">.26</text><text x="47.14" y="229.01">.30</text><text x="46.94" y="256.05">.34</text><text x="47.21" y="283.08">.38</text><text x="47.35" y="310.11">.42</text><text x="47.23" y="337.15">.46</text><text x="47.14" y="364.18">.50</text><text x="46.94" y="391.22">.54</text><text x="47.35" y="418.25">.57</text><text x="47.35" y="445.29">.62</text><text x="47.23" y="472.32">.66</text><text x="47.14" y="499.36">.70</text><text x="46.94" y="526.39">.74</text><text x="47.21" y="553.43">.78</text><text x="47.35" y="580.46">.82</text><text x="47.23" y="607.5">.86</text><text x="47.14" y="634.53">.90</text><text x="46.94" y="661.57">.94</text><text x="47.21" y="688.6">.98</text><text x="99.33" y="712.7">0</text><text x="127.81" y="712.7">.10</text><text x="174.21" y="712.7">.14</text><text x="215.41" y="712.7">.18</text><text x="253.41" y="712.7">.22</text><text x="295.61" y="712.7">.26</text><text x="336.81" y="712.7">.30</text><text x="378.41" y="712.7">.34</text><text x="416.31" y="712.7">.38</text><text x="457.51" y="712.7">.42</text><text x="499.71" y="712.7">.46</text><text x="541.51" y="712.7">.50</text><text x="583.01" y="712.7">.54</text><text x="624.81" y="712.7">.57</text><text x="666.31" y="712.7">.62</text><text x="707.91" y="712.7">.66</text><text x="749.71" y="712.7">.70</text><text x="791.51" y="712.7">.74</text><text x="833.41" y="712.7">.78</text><text x="875.21" y="712.7">.82</text><text x="917.01" y="712.7">.86</text><text x="958.61" y="712.7">.90</text><text x="1000.11" y="712.7">.94</text><text x="1041.91" y="712.7">.98</text><text x="1149.63" y="53.7">0.06</text><text x="1149.63" y="161.7">0.05</text><text x="1149.63" y="269.7">0.04</text><text x="1149.63" y="377.7">0.03</text><text x="1149.63" y="485.7">0.02</text><text x="1149.63" y="593.7">0.01</text><text x="1149.63" y="701.7">0.00</text></g>
<rect x="1103.8" y="44.4" width="34.6" height="646.1" fill="url(#cb)"/>
<g font-size="27.0" fill="#000"><text x="477.72" y="24">5 Images/group</text><text x="529.39" y="747.6">R-G IF</text><text transform="translate(35.7 363.9) rotate(-90)" x="-41.07" y="0">R-G IF</text><text transform="translate(1221.6 372.3) rotate(-90)" x="-89.17" y="0">Mean p-values</text></g>
<text x="5.19" y="31" font-size="35.0" font-weight="bold" fill="#000">a</text>
<g shape-rendering="crispEdges"><rect x="83.75" y="814.97" width="41.5" height="27.09" fill="#2d1e3e"/><rect x="125.2" y="814.97" width="41.5" height="27.09" fill="#2d1e3e"/><rect x="166.65" y="814.97" width="41.5" height="27.09" fill="#2d1e3e"/><rect x="208.1" y="814.97" width="41.5" height="27.09" fill="#2d1e3e"/><rect x="249.55" y="814.97" width="41.5" height="27.09" fill="#2d1e3e"/><rect x="291" y="814.97" width="41.5" height="27.09" fill="#2d1e3e"/><rect x="332.45" y="814.97" width="41.5" height="27.09" fill="#2d1e3e"/><rect x="373.9" y="814.97" width="41.5" height="27.09" fill="#b06d92"/><rect x="415.35" y="814.97" width="41.5" height="27.09" fill="#bf7c99"/><rect x="456.8" y="814.97" width="41.5" height="27.09" fill="#f6e9e2"/><rect x="498.25" y="814.97" width="41.5" height="27.09" fill="#f6e9e2"/><rect x="539.7" y="814.97" width="41.5" height="27.09" fill="#f7ece7"/><rect x="581.15" y="814.97" width="41.5" height="27.09" fill="#f9f0eb"/><rect x="622.6" y="814.97" width="41.5" height="27.09" fill="#f9f0eb"/><rect x="664.05" y="814.97" width="41.5" height="27.09" fill="#f9f0eb"/><rect x="705.5" y="814.97" width="41.5" height="27.09" fill="#f9f0eb"/><rect x="746.95" y="814.97" width="41.5" height="27.09" fill="#f9f0eb"/><rect x="788.4" y="814.97" width="41.5" height="27.09" fill="#f9f0eb"/><rect x="829.85" y="814.97" width="41.5" height="27.09" fill="#f9f0eb"/><rect x="871.3" y="814.97" width="41.5" height="27.09" fill="#f9f0eb"/><rect x="912.75" y="814.97" width="41.5" height="27.09" fill="#f9f0eb"/><rect x="954.2" y="814.97" width="41.5" height="27.09" fill="#f9f0eb"/><rect x="995.65" y="814.97" width="41.5" height="27.09" fill="#f9f0eb"/><rect x="1037.1" y="814.97" width="41.5" height="27.09" fill="#f9f0eb"/><rect x="83.75" y="842" width="41.5" height="27.09" fill="#2d1e3e"/><rect x="125.2" y="842" width="41.5" height="27.09" fill="#2d1e3e"/><rect x="166.65" y="842" width="41.5" height="27.09" fill="#2d1e3e"/><rect x="208.1" y="842" width="41.5" height="27.09" fill="#2d1e3e"/><rect x="249.55" y="842" width="41.5" height="27.09" fill="#2d1e3e"/><rect x="291" y="842" width="41.5" height="27.09" fill="#2d1e3e"/><rect x="332.45" y="842" width="41.5" height="27.09" fill="#2d1e3e"/><rect x="373.9" y="842" width="41.5" height="27.09" fill="#2d1e3e"/><rect x="415.35" y="842" width="41.5" height="27.09" fill="#bf7c99"/><rect x="456.8" y="842" width="41.5" height="27.09" fill="#f4e5de"/><rect x="498.25" y="842" width="41.5" height="27.09" fill="#f4e5de"/><rect x="539.7" y="842" width="41.5" height="27.09" fill="#f6e9e2"/><rect x="581.15" y="842" width="41.5" height="27.09" fill="#f9f0eb"/><rect x="622.6" y="842" width="41.5" height="27.09" fill="#f9f0eb"/><rect x="664.05" y="842" width="41.5" height="27.09" fill="#f9f0eb"/><rect x="705.5" y="842" width="41.5" height="27.09" fill="#f9f0eb"/><rect x="746.95" y="842" width="41.5" height="27.09" fill="#f9f0eb"/><rect x="788.4" y="842" width="41.5" height="27.09" fill="#f9f0eb"/><rect x="829.85" y="842" width="41.5" height="27.09" fill="#f9f0eb"/><rect x="871.3" y="842" width="41.5" height="27.09" fill="#f9f0eb"/><rect x="912.75" y="842" width="41.5" height="27.09" fill="#f9f0eb"/><rect x="954.2" y="842" width="41.5" height="27.09" fill="#f9f0eb"/><rect x="995.65" y="842" width="41.5" height="27.09" fill="#f9f0eb"/><rect x="1037.1" y="842" width="41.5" height="27.09" fill="#f9f0eb"/><rect x="83.75" y="869.04" width="41.5" height="27.09" fill="#2d1e3e"/><rect x="125.2" y="869.04" width="41.5" height="27.09" fill="#2d1e3e"/><rect x="166.65" y="869.04" width="41.5" height="27.09" fill="#2d1e3e"/><rect x="208.1" y="869.04" width="41.5" height="27.09" fill="#2d1e3e"/><rect x="249.55" y="869.04" width="41.5" height="27.09" fill="#2d1e3e"/><rect x="291" y="869.04" width="41.5" height="27.09" fill="#2d1e3e"/><rect x="332.45" y="869.04" width="41.5" height="27.09" fill="#2d1e3e"/><rect x="373.9" y="869.04" width="41.5" height="27.09" fill="#2d1e3e"/><rect x="415.35" y="869.04" width="41.5" height="27.09" fill="#2d1e3e"/><rect x="456.8" y="869.04" width="41.5" height="27.09" fill="#e6bdbc"/><rect x="498.25" y="869.04" width="41.5" height="27.09" fill="#edcfc9"/><rect x="539.7" y="869.04" width="41.5" height="27.09" fill="#f4e5de"/><rect x="581.15" y="869.04" width="41.5" height="27.09" fill="#f9f0eb"/><rect x="622.6" y="869.04" width="41.5" height="27.09" fill="#f9f0eb"/><rect x="664.05" y="869.04" width="41.5" height="27.09" fill="#f9f0eb"/><rect x="705.5" y="869.04" width="41.5" height="27.09" fill="#f9f0eb"/><rect x="746.95" y="869.04" width="41.5" height="27.09" fill="#f9f0eb"/><rect x="788.4" y="869.04" width="41.5" height="27.09" fill="#f9f0eb"/><rect x="829.85" y="869.04" width="41.5" height="27.09" fill="#f9f0eb"/><rect x="871.3" y="869.04" width="41.5" height="27.09" fill="#f9f0eb"/><rect x="912.75" y="869.04" width="41.5" height="27.09" fill="#f9f0eb"/><rect x="954.2" y="869.04" width="41.5" height="27.09" fill="#f9f0eb"/><rect x="995.65" y="869.04" width="41.5" height="27.09" fill="#f9f0eb"/><rect x="1037.1" y="869.04" width="41.5" height="27.09" fill="#f9f0eb"/><rect x="83.75" y="896.08" width="41.5" height="27.09" fill="#2d1e3e"/><rect x="125.2" y="896.08" width="41.5" height="27.09" fill="#2d1e3e"/><rect x="166.65" y="896.08" width="41.5" height="27.09" fill="#2d1e3e"/><rect x="208.1" y="896.08" width="41.5" height="27.09" fill="#2d1e3e"/><rect x="249.55" y="896.08" width="41.5" height="27.09" fill="#2d1e3e"/><rect x="291" y="896.08" width="41.5" height="27.09" fill="#2d1e3e"/><rect x="332.45" y="896.08" width="41.5" height="27.09" fill="#2d1e3e"/><rect x="373.9" y="896.08" width="41.5" height="27.09" fill="#2d1e3e"/><rect x="415.35" y="896.08" width="41.5" height="27.09" fill="#2d1e3e"/><rect x="456.8" y="896.08" width="41.5" height="27.09" fill="#683d6e"/><rect x="498.25" y="896.08" width="41.5" height="27.09" fill="#975987"/><rect x="539.7" y="896.08" width="41.5" height="27.09" fill="#d89faa"/><rect x="581.15" y="896.08" width="41.5" height="27.09" fill="#f7ece7"/><rect x="622.6" y="896.08" width="41.5" height="27.09" fill="#f9f0eb"/><rect x="664.05" y="896.08" width="41.5" height="27.09" fill="#f9f0eb"/><rect x="705.5" y="896.08" width="41.5" height="27.09" fill="#f9f0eb"/><rect x="746.95" y="896.08" width="41.5" height="27.09" fill="#f9f0eb"/><rect x="788.4" y="896.08" width="41.5" height="27.09" fill="#f9f0eb"/><rect x="829.85" y="896.08" width="41.5" height="27.09" fill="#f9f0eb"/><rect x="871.3" y="896.08" width="41.5" height="27.09" fill="#f9f0eb"/><rect x="912.75" y="896.08" width="41.5" height="27.09" fill="#f9f0eb"/><rect x="954.2" y="896.08" width="41.5" height="27.09" fill="#f9f0eb"/><rect x="995.65" y="896.08" width="41.5" height="27.09" fill="#f9f0eb"/><rect x="1037.1" y="896.08" width="41.5" height="27.09" fill="#f9f0eb"/><rect x="83.75" y="923.11" width="41.5" height="27.09" fill="#2d1e3e"/><rect x="125.2" y="923.11" width="41.5" height="27.09" fill="#2d1e3e"/><rect x="166.65" y="923.11" width="41.5" height="27.09" fill="#2d1e3e"/><rect x="208.1" y="923.11" width="41.5" height="27.09" fill="#2d1e3e"/><rect x="249.55" y="923.11" width="41.5" height="27.09" fill="#2d1e3e"/><rect x="291" y="923.11" width="41.5" height="27.09" fill="#2d1e3e"/><rect x="332.45" y="923.11" width="41.5" height="27.09" fill="#2d1e3e"/><rect x="373.9" y="923.11" width="41.5" height="27.09" fill="#2d1e3e"/><rect x="415.35" y="923.11" width="41.5" height="27.09" fill="#2d1e3e"/><rect x="456.8" y="923.11" width="41.5" height="27.09" fill="#683d6e"/><rect x="498.25" y="923.11" width="41.5" height="27.09" fill="#5d3767"/><rect x="539.7" y="923.11" width="41.5" height="27.09" fill="#bf7c99"/><rect x="581.15" y="923.11" width="41.5" height="27.09" fill="#f9f0eb"/><rect x="622.6" y="923.11" width="41.5" height="27.09" fill="#f9f0eb"/><rect x="664.05" y="923.11" width="41.5" height="27.09" fill="#f9f0eb"/><rect x="705.5" y="923.11" width="41.5" height="27.09" fill="#f9f0eb"/><rect x="746.95" y="923.11" width="41.5" height="27.09" fill="#f9f0eb"/><rect x="788.4" y="923.11" width="41.5" height="27.09" fill="#f9f0eb"/><rect x="829.85" y="923.11" width="41.5" height="27.09" fill="#f9f0eb"/><rect x="871.3" y="923.11" width="41.5" height="27.09" fill="#f9f0eb"/><rect x="912.75" y="923.11" width="41.5" height="27.09" fill="#f9f0eb"/><rect x="954.2" y="923.11" width="41.5" height="27.09" fill="#f9f0eb"/><rect x="995.65" y="923.11" width="41.5" height="27.09" fill="#f9f0eb"/><rect x="1037.1" y="923.11" width="41.5" height="27.09" fill="#f9f0eb"/><rect x="83.75" y="950.14" width="41.5" height="27.09" fill="#2d1e3e"/><rect x="125.2" y="950.14" width="41.5" height="27.09" fill="#2d1e3e"/><rect x="166.65" y="950.14" width="41.5" height="27.09" fill="#2d1e3e"/><rect x="208.1" y="950.14" width="41.5" height="27.09" fill="#2d1e3e"/><rect x="249.55" y="950.14" width="41.5" height="27.09" fill="#2d1e3e"/><rect x="291" y="950.14" width="41.5" height="27.09" fill="#2d1e3e"/><rect x="332.45" y="950.14" width="41.5" height="27.09" fill="#2d1e3e"/><rect x="373.9" y="950.14" width="41.5" height="27.09" fill="#2d1e3e"/><rect x="415.35" y="950.14" width="41.5" height="27.09" fill="#2d1e3e"/><rect x="456.8" y="950.14" width="41.5" height="27.09" fill="#5d3767"/><rect x="498.25" y="950.14" width="41.5" height="27.09" fill="#2d1e3e"/><rect x="539.7" y="950.14" width="41.5" height="27.09" fill="#bf7c99"/><rect x="581.15" y="950.14" width="41.5" height="27.09" fill="#f6e9e2"/><rect x="622.6" y="950.14" width="41.5" height="27.09" fill="#f9f0eb"/><rect x="664.05" y="950.14" width="41.5" height="27.09" fill="#f9f0eb"/><rect x="705.5" y="950.14" width="41.5" height="27.09" fill="#f9f0eb"/><rect x="746.95" y="950.14" width="41.5" height="27.09" fill="#f9f0eb"/><rect x="788.4" y="950.14" width="41.5" height="27.09" fill="#f9f0eb"/><rect x="829.85" y="950.14" width="41.5" height="27.09" fill="#f9f0eb"/><rect x="871.3" y="950.14" width="41.5" height="27.09" fill="#f9f0eb"/><rect x="912.75" y="950.14" width="41.5" height="27.09" fill="#f9f0eb"/><rect x="954.2" y="950.14" width="41.5" height="27.09" fill="#f9f0eb"/><rect x="995.65" y="950.14" width="41.5" height="27.09" fill="#f9f0eb"/><rect x="1037.1" y="950.14" width="41.5" height="27.09" fill="#f9f0eb"/><rect x="83.75" y="977.18" width="41.5" height="27.09" fill="#2d1e3e"/><rect x="125.2" y="977.18" width="41.5" height="27.09" fill="#2d1e3e"/><rect x="166.65" y="977.18" width="41.5" height="27.09" fill="#2d1e3e"/><rect x="208.1" y="977.18" width="41.5" height="27.09" fill="#2d1e3e"/><rect x="249.55" y="977.18" width="41.5" height="27.09" fill="#2d1e3e"/><rect x="291" y="977.18" width="41.5" height="27.09" fill="#2d1e3e"/><rect x="332.45" y="977.18" width="41.5" height="27.09" fill="#2d1e3e"/><rect x="373.9" y="977.18" width="41.5" height="27.09" fill="#2d1e3e"/><rect x="415.35" y="977.18" width="41.5" height="27.09" fill="#2d1e3e"/><rect x="456.8" y="977.18" width="41.5" height="27.09" fill="#2d1e3e"/><rect x="498.25" y="977.18" width="41.5" height="27.09" fill="#2d1e3e"/><rect x="539.7" y="977.18" width="41.5" height="27.09" fill="#2d1e3e"/><rect x="581.15" y="977.18" width="41.5" height="27.09" fill="#eac7c3"/><rect x="622.6" y="977.18" width="41.5" height="27.09" fill="#f6e9e2"/><rect x="664.05" y="977.18" width="41.5" height="27.09" fill="#f9f0eb"/><rect x="705.5" y="977.18" width="41.5" height="27.09" fill="#f9f0eb"/><rect x="746.95" y="977.18" width="41.5" height="27.09" fill="#f9f0eb"/><rect x="788.4" y="977.18" width="41.5" height="27.09" fill="#f9f0eb"/><rect x="829.85" y="977.18" width="41.5" height="27.09" fill="#f9f0eb"/><rect x="871.3" y="977.18" width="41.5" height="27.09" fill="#f9f0eb"/><rect x="912.75" y="977.18" width="41.5" height="27.09" fill="#f9f0eb"/><rect x="954.2" y="977.18" width="41.5" height="27.09" fill="#f9f0eb"/><rect x="995.65" y="977.18" width="41.5" height="27.09" fill="#f9f0eb"/><rect x="1037.1" y="977.18" width="41.5" height="27.09" fill="#f9f0eb"/><rect x="83.75" y="1004.22" width="41.5" height="27.09" fill="#b06d92"/><rect x="125.2" y="1004.22" width="41.5" height="27.09" fill="#2d1e3e"/><rect x="166.65" y="1004.22" width="41.5" height="27.09" fill="#2d1e3e"/><rect x="208.1" y="1004.22" width="41.5" height="27.09" fill="#2d1e3e"/><rect x="249.55" y="1004.22" width="41.5" height="27.09" fill="#2d1e3e"/><rect x="291" y="1004.22" width="41.5" height="27.09" fill="#2d1e3e"/><rect x="332.45" y="1004.22" width="41.5" height="27.09" fill="#2d1e3e"/><rect x="373.9" y="1004.22" width="41.5" height="27.09" fill="#2d1e3e"/><rect x="415.35" y="1004.22" width="41.5" height="27.09" fill="#2d1e3e"/><rect x="456.8" y="1004.22" width="41.5" height="27.09" fill="#2d1e3e"/><rect x="498.25" y="1004.22" width="41.5" height="27.09" fill="#2d1e3e"/><rect x="539.7" y="1004.22" width="41.5" height="27.09" fill="#2d1e3e"/><rect x="581.15" y="1004.22" width="41.5" height="27.09" fill="#b77495"/><rect x="622.6" y="1004.22" width="41.5" height="27.09" fill="#dba4ad"/><rect x="664.05" y="1004.22" width="41.5" height="27.09" fill="#f6e9e2"/><rect x="705.5" y="1004.22" width="41.5" height="27.09" fill="#f9f0eb"/><rect x="746.95" y="1004.22" width="41.5" height="27.09" fill="#f9f0eb"/><rect x="788.4" y="1004.22" width="41.5" height="27.09" fill="#f9f0eb"/><rect x="829.85" y="1004.22" width="41.5" height="27.09" fill="#f9f0eb"/><rect x="871.3" y="1004.22" width="41.5" height="27.09" fill="#f9f0eb"/><rect x="912.75" y="1004.22" width="41.5" height="27.09" fill="#f9f0eb"/><rect x="954.2" y="1004.22" width="41.5" height="27.09" fill="#f9f0eb"/><rect x="995.65" y="1004.22" width="41.5" height="27.09" fill="#f9f0eb"/><rect x="1037.1" y="1004.22" width="41.5" height="27.09" fill="#f9f0eb"/><rect x="83.75" y="1031.25" width="41.5" height="27.09" fill="#bf7c99"/><rect x="125.2" y="1031.25" width="41.5" height="27.09" fill="#bf7c99"/><rect x="166.65" y="1031.25" width="41.5" height="27.09" fill="#2d1e3e"/><rect x="208.1" y="1031.25" width="41.5" height="27.09" fill="#2d1e3e"/><rect x="249.55" y="1031.25" width="41.5" height="27.09" fill="#2d1e3e"/><rect x="291" y="1031.25" width="41.5" height="27.09" fill="#2d1e3e"/><rect x="332.45" y="1031.25" width="41.5" height="27.09" fill="#2d1e3e"/><rect x="373.9" y="1031.25" width="41.5" height="27.09" fill="#2d1e3e"/><rect x="415.35" y="1031.25" width="41.5" height="27.09" fill="#2d1e3e"/><rect x="456.8" y="1031.25" width="41.5" height="27.09" fill="#2d1e3e"/><rect x="498.25" y="1031.25" width="41.5" height="27.09" fill="#2d1e3e"/><rect x="539.7" y="1031.25" width="41.5" height="27.09" fill="#2d1e3e"/><rect x="581.15" y="1031.25" width="41.5" height="27.09" fill="#2d1e3e"/><rect x="622.6" y="1031.25" width="41.5" height="27.09" fill="#2d1e3e"/><rect x="664.05" y="1031.25" width="41.5" height="27.09" fill="#b77495"/><rect x="705.5" y="1031.25" width="41.5" height="27.09" fill="#eac7c3"/><rect x="746.95" y="1031.25" width="41.5" height="27.09" fill="#f6e9e2"/><rect x="788.4" y="1031.25" width="41.5" height="27.09" fill="#f9f0eb"/><rect x="829.85" y="1031.25" width="41.5" height="27.09" fill="#f9f0eb"/><rect x="871.3" y="1031.25" width="41.5" height="27.09" fill="#f9f0eb"/><rect x="912.75" y="1031.25" width="41.5" height="27.09" fill="#f9f0eb"/><rect x="954.2" y="1031.25" width="41.5" height="27.09" fill="#f9f0eb"/><rect x="995.65" y="1031.25" width="41.5" height="27.09" fill="#f9f0eb"/><rect x="1037.1" y="1031.25" width="41.5" height="27.09" fill="#f9f0eb"/><rect x="83.75" y="1058.29" width="41.5" height="27.09" fill="#f6e9e2"/><rect x="125.2" y="1058.29" width="41.5" height="27.09" fill="#f4e5de"/><rect x="166.65" y="1058.29" width="41.5" height="27.09" fill="#e6bdbc"/><rect x="208.1" y="1058.29" width="41.5" height="27.09" fill="#683d6e"/><rect x="249.55" y="1058.29" width="41.5" height="27.09" fill="#683d6e"/><rect x="291" y="1058.29" width="41.5" height="27.09" fill="#5d3767"/><rect x="332.45" y="1058.29" width="41.5" height="27.09" fill="#2d1e3e"/><rect x="373.9" y="1058.29" width="41.5" height="27.09" fill="#2d1e3e"/><rect x="415.35" y="1058.29" width="41.5" height="27.09" fill="#2d1e3e"/><rect x="456.8" y="1058.29" width="41.5" height="27.09" fill="#2d1e3e"/><rect x="498.25" y="1058.29" width="41.5" height="27.09" fill="#2d1e3e"/><rect x="539.7" y="1058.29" width="41.5" height="27.09" fill="#2d1e3e"/><rect x="581.15" y="1058.29" width="41.5" height="27.09" fill="#2d1e3e"/><rect x="622.6" y="1058.29" width="41.5" height="27.09" fill="#2d1e3e"/><rect x="664.05" y="1058.29" width="41.5" height="27.09" fill="#d194a4"/><rect x="705.5" y="1058.29" width="41.5" height="27.09" fill="#eac7c3"/><rect x="746.95" y="1058.29" width="41.5" height="27.09" fill="#f7ece7"/><rect x="788.4" y="1058.29" width="41.5" height="27.09" fill="#f9f0eb"/><rect x="829.85" y="1058.29" width="41.5" height="27.09" fill="#f9f0eb"/><rect x="871.3" y="1058.29" width="41.5" height="27.09" fill="#f9f0eb"/><rect x="912.75" y="1058.29" width="41.5" height="27.09" fill="#f9f0eb"/><rect x="954.2" y="1058.29" width="41.5" height="27.09" fill="#f9f0eb"/><rect x="995.65" y="1058.29" width="41.5" height="27.09" fill="#f9f0eb"/><rect x="1037.1" y="1058.29" width="41.5" height="27.09" fill="#f9f0eb"/><rect x="83.75" y="1085.32" width="41.5" height="27.09" fill="#f6e9e2"/><rect x="125.2" y="1085.32" width="41.5" height="27.09" fill="#f4e5de"/><rect x="166.65" y="1085.32" width="41.5" height="27.09" fill="#edcfc9"/><rect x="208.1" y="1085.32" width="41.5" height="27.09" fill="#975987"/><rect x="249.55" y="1085.32" width="41.5" height="27.09" fill="#5d3767"/><rect x="291" y="1085.32" width="41.5" height="27.09" fill="#2d1e3e"/><rect x="332.45" y="1085.32" width="41.5" height="27.09" fill="#2d1e3e"/><rect x="373.9" y="1085.32" width="41.5" height="27.09" fill="#2d1e3e"/><rect x="415.35" y="1085.32" width="41.5" height="27.09" fill="#2d1e3e"/><rect x="456.8" y="1085.32" width="41.5" height="27.09" fill="#2d1e3e"/><rect x="498.25" y="1085.32" width="41.5" height="27.09" fill="#2d1e3e"/><rect x="539.7" y="1085.32" width="41.5" height="27.09" fill="#2d1e3e"/><rect x="581.15" y="1085.32" width="41.5" height="27.09" fill="#2d1e3e"/><rect x="622.6" y="1085.32" width="41.5" height="27.09" fill="#2d1e3e"/><rect x="664.05" y="1085.32" width="41.5" height="27.09" fill="#d89faa"/><rect x="705.5" y="1085.32" width="41.5" height="27.09" fill="#ebcbc6"/><rect x="746.95" y="1085.32" width="41.5" height="27.09" fill="#f9f0eb"/><rect x="788.4" y="1085.32" width="41.5" height="27.09" fill="#f9f0eb"/><rect x="829.85" y="1085.32" width="41.5" height="27.09" fill="#f9f0eb"/><rect x="871.3" y="1085.32" width="41.5" height="27.09" fill="#f9f0eb"/><rect x="912.75" y="1085.32" width="41.5" height="27.09" fill="#f9f0eb"/><rect x="954.2" y="1085.32" width="41.5" height="27.09" fill="#f9f0eb"/><rect x="995.65" y="1085.32" width="41.5" height="27.09" fill="#f9f0eb"/><rect x="1037.1" y="1085.32" width="41.5" height="27.09" fill="#f9f0eb"/><rect x="83.75" y="1112.36" width="41.5" height="27.09" fill="#f7ece7"/><rect x="125.2" y="1112.36" width="41.5" height="27.09" fill="#f6e9e2"/><rect x="166.65" y="1112.36" width="41.5" height="27.09" fill="#f4e5de"/><rect x="208.1" y="1112.36" width="41.5" height="27.09" fill="#d89faa"/><rect x="249.55" y="1112.36" width="41.5" height="27.09" fill="#bf7c99"/><rect x="291" y="1112.36" width="41.5" height="27.09" fill="#bf7c99"/><rect x="332.45" y="1112.36" width="41.5" height="27.09" fill="#2d1e3e"/><rect x="373.9" y="1112.36" width="41.5" height="27.09" fill="#2d1e3e"/><rect x="415.35" y="1112.36" width="41.5" height="27.09" fill="#2d1e3e"/><rect x="456.8" y="1112.36" width="41.5" height="27.09" fill="#2d1e3e"/><rect x="498.25" y="1112.36" width="41.5" height="27.09" fill="#2d1e3e"/><rect x="539.7" y="1112.36" width="41.5" height="27.09" fill="#2d1e3e"/><rect x="581.15" y="1112.36" width="41.5" height="27.09" fill="#2d1e3e"/><rect x="622.6" y="1112.36" width="41.5" height="27.09" fill="#2d1e3e"/><rect x="664.05" y="1112.36" width="41.5" height="27.09" fill="#2d1e3e"/><rect x="705.5" y="1112.36" width="41.5" height="27.09" fill="#683d6e"/><rect x="746.95" y="1112.36" width="41.5" height="27.09" fill="#f7ece7"/><rect x="788.4" y="1112.36" width="41.5" height="27.09" fill="#f9f0eb"/><rect x="829.85" y="1112.36" width="41.5" height="27.09" fill="#f9f0eb"/><rect x="871.3" y="1112.36" width="41.5" height="27.09" fill="#f9f0eb"/><rect x="912.75" y="1112.36" width="41.5" height="27.09" fill="#f9f0eb"/><rect x="954.2" y="1112.36" width="41.5" height="27.09" fill="#f9f0eb"/><rect x="995.65" y="1112.36" width="41.5" height="27.09" fill="#f9f0eb"/><rect x="1037.1" y="1112.36" width="41.5" height="27.09" fill="#f9f0eb"/><rect x="83.75" y="1139.39" width="41.5" height="27.09" fill="#f9f0eb"/><rect x="125.2" y="1139.39" width="41.5" height="27.09" fill="#f9f0eb"/><rect x="166.65" y="1139.39" width="41.5" height="27.09" fill="#f9f0eb"/><rect x="208.1" y="1139.39" width="41.5" height="27.09" fill="#f7ece7"/><rect x="249.55" y="1139.39" width="41.5" height="27.09" fill="#f9f0eb"/><rect x="291" y="1139.39" width="41.5" height="27.09" fill="#f6e9e2"/><rect x="332.45" y="1139.39" width="41.5" height="27.09" fill="#eac7c3"/><rect x="373.9" y="1139.39" width="41.5" height="27.09" fill="#b77495"/><rect x="415.35" y="1139.39" width="41.5" height="27.09" fill="#2d1e3e"/><rect x="456.8" y="1139.39" width="41.5" height="27.09" fill="#2d1e3e"/><rect x="498.25" y="1139.39" width="41.5" height="27.09" fill="#2d1e3e"/><rect x="539.7" y="1139.39" width="41.5" height="27.09" fill="#2d1e3e"/><rect x="581.15" y="1139.39" width="41.5" height="27.09" fill="#2d1e3e"/><rect x="622.6" y="1139.39" width="41.5" height="27.09" fill="#2d1e3e"/><rect x="664.05" y="1139.39" width="41.5" height="27.09" fill="#2d1e3e"/><rect x="705.5" y="1139.39" width="41.5" height="27.09" fill="#2d1e3e"/><rect x="746.95" y="1139.39" width="41.5" height="27.09" fill="#e3b5b7"/><rect x="788.4" y="1139.39" width="41.5" height="27.09" fill="#f6e9e2"/><rect x="829.85" y="1139.39" width="41.5" height="27.09" fill="#f9f0eb"/><rect x="871.3" y="1139.39" width="41.5" height="27.09" fill="#f9f0eb"/><rect x="912.75" y="1139.39" width="41.5" height="27.09" fill="#f9f0eb"/><rect x="954.2" y="1139.39" width="41.5" height="27.09" fill="#f9f0eb"/><rect x="995.65" y="1139.39" width="41.5" height="27.09" fill="#f9f0eb"/><rect x="1037.1" y="1139.39" width="41.5" height="27.09" fill="#f9f0eb"/><rect x="83.75" y="1166.42" width="41.5" height="27.09" fill="#f9f0eb"/><rect x="125.2" y="1166.42" width="41.5" height="27.09" fill="#f9f0eb"/><rect x="166.65" y="1166.42" width="41.5" height="27.09" fill="#f9f0eb"/><rect x="208.1" y="1166.42" width="41.5" height="27.09" fill="#f9f0eb"/><rect x="249.55" y="1166.42" width="41.5" height="27.09" fill="#f9f0eb"/><rect x="291" y="1166.42" width="41.5" height="27.09" fill="#f9f0eb"/><rect x="332.45" y="1166.42" width="41.5" height="27.09" fill="#f6e9e2"/><rect x="373.9" y="1166.42" width="41.5" height="27.09" fill="#dba4ad"/><rect x="415.35" y="1166.42" width="41.5" height="27.09" fill="#2d1e3e"/><rect x="456.8" y="1166.42" width="41.5" height="27.09" fill="#2d1e3e"/><rect x="498.25" y="1166.42" width="41.5" height="27.09" fill="#2d1e3e"/><rect x="539.7" y="1166.42" width="41.5" height="27.09" fill="#2d1e3e"/><rect x="581.15" y="1166.42" width="41.5" height="27.09" fill="#2d1e3e"/><rect x="622.6" y="1166.42" width="41.5" height="27.09" fill="#2d1e3e"/><rect x="664.05" y="1166.42" width="41.5" height="27.09" fill="#2d1e3e"/><rect x="705.5" y="1166.42" width="41.5" height="27.09" fill="#2d1e3e"/><rect x="746.95" y="1166.42" width="41.5" height="27.09" fill="#d194a4"/><rect x="788.4" y="1166.42" width="41.5" height="27.09" fill="#f6e9e2"/><rect x="829.85" y="1166.42" width="41.5" height="27.09" fill="#f9f0eb"/><rect x="871.3" y="1166.42" width="41.5" height="27.09" fill="#f9f0eb"/><rect x="912.75" y="1166.42" width="41.5" height="27.09" fill="#f9f0eb"/><rect x="954.2" y="1166.42" width="41.5" height="27.09" fill="#f9f0eb"/><rect x="995.65" y="1166.42" width="41.5" height="27.09" fill="#f9f0eb"/><rect x="1037.1" y="1166.42" width="41.5" height="27.09" fill="#f9f0eb"/><rect x="83.75" y="1193.46" width="41.5" height="27.09" fill="#f9f0eb"/><rect x="125.2" y="1193.46" width="41.5" height="27.09" fill="#f9f0eb"/><rect x="166.65" y="1193.46" width="41.5" height="27.09" fill="#f9f0eb"/><rect x="208.1" y="1193.46" width="41.5" height="27.09" fill="#f9f0eb"/><rect x="249.55" y="1193.46" width="41.5" height="27.09" fill="#f9f0eb"/><rect x="291" y="1193.46" width="41.5" height="27.09" fill="#f9f0eb"/><rect x="332.45" y="1193.46" width="41.5" height="27.09" fill="#f9f0eb"/><rect x="373.9" y="1193.46" width="41.5" height="27.09" fill="#f6e9e2"/><rect x="415.35" y="1193.46" width="41.5" height="27.09" fill="#b77495"/><rect x="456.8" y="1193.46" width="41.5" height="27.09" fill="#d194a4"/><rect x="498.25" y="1193.46" width="41.5" height="27.09" fill="#d89faa"/><rect x="539.7" y="1193.46" width="41.5" height="27.09" fill="#2d1e3e"/><rect x="581.15" y="1193.46" width="41.5" height="27.09" fill="#2d1e3e"/><rect x="622.6" y="1193.46" width="41.5" height="27.09" fill="#2d1e3e"/><rect x="664.05" y="1193.46" width="41.5" height="27.09" fill="#2d1e3e"/><rect x="705.5" y="1193.46" width="41.5" height="27.09" fill="#2d1e3e"/><rect x="746.95" y="1193.46" width="41.5" height="27.09" fill="#2d1e3e"/><rect x="788.4" y="1193.46" width="41.5" height="27.09" fill="#d194a4"/><rect x="829.85" y="1193.46" width="41.5" height="27.09" fill="#f9f0eb"/><rect x="871.3" y="1193.46" width="41.5" height="27.09" fill="#f9f0eb"/><rect x="912.75" y="1193.46" width="41.5" height="27.09" fill="#f9f0eb"/><rect x="954.2" y="1193.46" width="41.5" height="27.09" fill="#f9f0eb"/><rect x="995.65" y="1193.46" width="41.5" height="27.09" fill="#f9f0eb"/><rect x="1037.1" y="1193.46" width="41.5" height="27.09" fill="#f9f0eb"/><rect x="83.75" y="1220.49" width="41.5" height="27.09" fill="#f9f0eb"/><rect x="125.2" y="1220.49" width="41.5" height="27.09" fill="#f9f0eb"/><rect x="166.65" y="1220.49" width="41.5" height="27.09" fill="#f9f0eb"/><rect x="208.1" y="1220.49" width="41.5" height="27.09" fill="#f9f0eb"/><rect x="249.55" y="1220.49" width="41.5" height="27.09" fill="#f9f0eb"/><rect x="291" y="1220.49" width="41.5" height="27.09" fill="#f9f0eb"/><rect x="332.45" y="1220.49" width="41.5" height="27.09" fill="#f9f0eb"/><rect x="373.9" y="1220.49" width="41.5" height="27.09" fill="#f9f0eb"/><rect x="415.35" y="1220.49" width="41.5" height="27.09" fill="#eac7c3"/><rect x="456.8" y="1220.49" width="41.5" height="27.09" fill="#eac7c3"/><rect x="498.25" y="1220.49" width="41.5" height="27.09" fill="#ebcbc6"/><rect x="539.7" y="1220.49" width="41.5" height="27.09" fill="#683d6e"/><rect x="581.15" y="1220.49" width="41.5" height="27.09" fill="#2d1e3e"/><rect x="622.6" y="1220.49" width="41.5" height="27.09" fill="#2d1e3e"/><rect x="664.05" y="1220.49" width="41.5" height="27.09" fill="#2d1e3e"/><rect x="705.5" y="1220.49" width="41.5" height="27.09" fill="#2d1e3e"/><rect x="746.95" y="1220.49" width="41.5" height="27.09" fill="#2d1e3e"/><rect x="788.4" y="1220.49" width="41.5" height="27.09" fill="#2d1e3e"/><rect x="829.85" y="1220.49" width="41.5" height="27.09" fill="#d398a6"/><rect x="871.3" y="1220.49" width="41.5" height="27.09" fill="#f9f0eb"/><rect x="912.75" y="1220.49" width="41.5" height="27.09" fill="#f9f0eb"/><rect x="954.2" y="1220.49" width="41.5" height="27.09" fill="#f9f0eb"/><rect x="995.65" y="1220.49" width="41.5" height="27.09" fill="#f9f0eb"/><rect x="1037.1" y="1220.49" width="41.5" height="27.09" fill="#f9f0eb"/><rect x="83.75" y="1247.53" width="41.5" height="27.09" fill="#f9f0eb"/><rect x="125.2" y="1247.53" width="41.5" height="27.09" fill="#f9f0eb"/><rect x="166.65" y="1247.53" width="41.5" height="27.09" fill="#f9f0eb"/><rect x="208.1" y="1247.53" width="41.5" height="27.09" fill="#f9f0eb"/><rect x="249.55" y="1247.53" width="41.5" height="27.09" fill="#f9f0eb"/><rect x="291" y="1247.53" width="41.5" height="27.09" fill="#f9f0eb"/><rect x="332.45" y="1247.53" width="41.5" height="27.09" fill="#f9f0eb"/><rect x="373.9" y="1247.53" width="41.5" height="27.09" fill="#f9f0eb"/><rect x="415.35" y="1247.53" width="41.5" height="27.09" fill="#f6e9e2"/><rect x="456.8" y="1247.53" width="41.5" height="27.09" fill="#f7ece7"/><rect x="498.25" y="1247.53" width="41.5" height="27.09" fill="#f9f0eb"/><rect x="539.7" y="1247.53" width="41.5" height="27.09" fill="#f7ece7"/><rect x="581.15" y="1247.53" width="41.5" height="27.09" fill="#e3b5b7"/><rect x="622.6" y="1247.53" width="41.5" height="27.09" fill="#d194a4"/><rect x="664.05" y="1247.53" width="41.5" height="27.09" fill="#2d1e3e"/><rect x="705.5" y="1247.53" width="41.5" height="27.09" fill="#2d1e3e"/><rect x="746.95" y="1247.53" width="41.5" height="27.09" fill="#2d1e3e"/><rect x="788.4" y="1247.53" width="41.5" height="27.09" fill="#2d1e3e"/><rect x="829.85" y="1247.53" width="41.5" height="27.09" fill="#714273"/><rect x="871.3" y="1247.53" width="41.5" height="27.09" fill="#f7ece7"/><rect x="912.75" y="1247.53" width="41.5" height="27.09" fill="#f9f0eb"/><rect x="954.2" y="1247.53" width="41.5" height="27.09" fill="#f9f0eb"/><rect x="995.65" y="1247.53" width="41.5" height="27.09" fill="#f9f0eb"/><rect x="1037.1" y="1247.53" width="41.5" height="27.09" fill="#f9f0eb"/><rect x="83.75" y="1274.57" width="41.5" height="27.09" fill="#f9f0eb"/><rect x="125.2" y="1274.57" width="41.5" height="27.09" fill="#f9f0eb"/><rect x="166.65" y="1274.57" width="41.5" height="27.09" fill="#f9f0eb"/><rect x="208.1" y="1274.57" width="41.5" height="27.09" fill="#f9f0eb"/><rect x="249.55" y="1274.57" width="41.5" height="27.09" fill="#f9f0eb"/><rect x="291" y="1274.57" width="41.5" height="27.09" fill="#f9f0eb"/><rect x="332.45" y="1274.57" width="41.5" height="27.09" fill="#f9f0eb"/><rect x="373.9" y="1274.57" width="41.5" height="27.09" fill="#f9f0eb"/><rect x="415.35" y="1274.57" width="41.5" height="27.09" fill="#f9f0eb"/><rect x="456.8" y="1274.57" width="41.5" height="27.09" fill="#f9f0eb"/><rect x="498.25" y="1274.57" width="41.5" height="27.09" fill="#f9f0eb"/><rect x="539.7" y="1274.57" width="41.5" height="27.09" fill="#f9f0eb"/><rect x="581.15" y="1274.57" width="41.5" height="27.09" fill="#f6e9e2"/><rect x="622.6" y="1274.57" width="41.5" height="27.09" fill="#f6e9e2"/><rect x="664.05" y="1274.57" width="41.5" height="27.09" fill="#d194a4"/><rect x="705.5" y="1274.57" width="41.5" height="27.09" fill="#2d1e3e"/><rect x="746.95" y="1274.57" width="41.5" height="27.09" fill="#2d1e3e"/><rect x="788.4" y="1274.57" width="41.5" height="27.09" fill="#2d1e3e"/><rect x="829.85" y="1274.57" width="41.5" height="27.09" fill="#2d1e3e"/><rect x="871.3" y="1274.57" width="41.5" height="27.09" fill="#edcfc9"/><rect x="912.75" y="1274.57" width="41.5" height="27.09" fill="#f9f0eb"/><rect x="954.2" y="1274.57" width="41.5" height="27.09" fill="#f9f0eb"/><rect x="995.65" y="1274.57" width="41.5" height="27.09" fill="#f9f0eb"/><rect x="1037.1" y="1274.57" width="41.5" height="27.09" fill="#f9f0eb"/><rect x="83.75" y="1301.6" width="41.5" height="27.09" fill="#f9f0eb"/><rect x="125.2" y="1301.6" width="41.5" height="27.09" fill="#f9f0eb"/><rect x="166.65" y="1301.6" width="41.5" height="27.09" fill="#f9f0eb"/><rect x="208.1" y="1301.6" width="41.5" height="27.09" fill="#f9f0eb"/><rect x="249.55" y="1301.6" width="41.5" height="27.09" fill="#f9f0eb"/><rect x="291" y="1301.6" width="41.5" height="27.09" fill="#f9f0eb"/><rect x="332.45" y="1301.6" width="41.5" height="27.09" fill="#f9f0eb"/><rect x="373.9" y="1301.6" width="41.5" height="27.09" fill="#f9f0eb"/><rect x="415.35" y="1301.6" width="41.5" height="27.09" fill="#f9f0eb"/><rect x="456.8" y="1301.6" width="41.5" height="27.09" fill="#f9f0eb"/><rect x="498.25" y="1301.6" width="41.5" height="27.09" fill="#f9f0eb"/><rect x="539.7" y="1301.6" width="41.5" height="27.09" fill="#f9f0eb"/><rect x="581.15" y="1301.6" width="41.5" height="27.09" fill="#f9f0eb"/><rect x="622.6" y="1301.6" width="41.5" height="27.09" fill="#f9f0eb"/><rect x="664.05" y="1301.6" width="41.5" height="27.09" fill="#f9f0eb"/><rect x="705.5" y="1301.6" width="41.5" height="27.09" fill="#d398a6"/><rect x="746.95" y="1301.6" width="41.5" height="27.09" fill="#714273"/><rect x="788.4" y="1301.6" width="41.5" height="27.09" fill="#2d1e3e"/><rect x="829.85" y="1301.6" width="41.5" height="27.09" fill="#2d1e3e"/><rect x="871.3" y="1301.6" width="41.5" height="27.09" fill="#2d1e3e"/><rect x="912.75" y="1301.6" width="41.5" height="27.09" fill="#f9f0eb"/><rect x="954.2" y="1301.6" width="41.5" height="27.09" fill="#f9f0eb"/><rect x="995.65" y="1301.6" width="41.5" height="27.09" fill="#f9f0eb"/><rect x="1037.1" y="1301.6" width="41.5" height="27.09" fill="#f9f0eb"/><rect x="83.75" y="1328.63" width="41.5" height="27.09" fill="#f9f0eb"/><rect x="125.2" y="1328.63" width="41.5" height="27.09" fill="#f9f0eb"/><rect x="166.65" y="1328.63" width="41.5" height="27.09" fill="#f9f0eb"/><rect x="208.1" y="1328.63" width="41.5" height="27.09" fill="#f9f0eb"/><rect x="249.55" y="1328.63" width="41.5" height="27.09" fill="#f9f0eb"/><rect x="291" y="1328.63" width="41.5" height="27.09" fill="#f9f0eb"/><rect x="332.45" y="1328.63" width="41.5" height="27.09" fill="#f9f0eb"/><rect x="373.9" y="1328.63" width="41.5" height="27.09" fill="#f9f0eb"/><rect x="415.35" y="1328.63" width="41.5" height="27.09" fill="#f9f0eb"/><rect x="456.8" y="1328.63" width="41.5" height="27.09" fill="#f9f0eb"/><rect x="498.25" y="1328.63" width="41.5" height="27.09" fill="#f9f0eb"/><rect x="539.7" y="1328.63" width="41.5" height="27.09" fill="#f9f0eb"/><rect x="581.15" y="1328.63" width="41.5" height="27.09" fill="#f9f0eb"/><rect x="622.6" y="1328.63" width="41.5" height="27.09" fill="#f9f0eb"/><rect x="664.05" y="1328.63" width="41.5" height="27.09" fill="#f9f0eb"/><rect x="705.5" y="1328.63" width="41.5" height="27.09" fill="#f9f0eb"/><rect x="746.95" y="1328.63" width="41.5" height="27.09" fill="#f7ece7"/><rect x="788.4" y="1328.63" width="41.5" height="27.09" fill="#edcfc9"/><rect x="829.85" y="1328.63" width="41.5" height="27.09" fill="#2d1e3e"/><rect x="871.3" y="1328.63" width="41.5" height="27.09" fill="#2d1e3e"/><rect x="912.75" y="1328.63" width="41.5" height="27.09" fill="#2d1e3e"/><rect x="954.2" y="1328.63" width="41.5" height="27.09" fill="#f9f0eb"/><rect x="995.65" y="1328.63" width="41.5" height="27.09" fill="#f9f0eb"/><rect x="1037.1" y="1328.63" width="41.5" height="27.09" fill="#f9f0eb"/><rect x="83.75" y="1355.67" width="41.5" height="27.09" fill="#f9f0eb"/><rect x="125.2" y="1355.67" width="41.5" height="27.09" fill="#f9f0eb"/><rect x="166.65" y="1355.67" width="41.5" height="27.09" fill="#f9f0eb"/><rect x="208.1" y="1355.67" width="41.5" height="27.09" fill="#f9f0eb"/><rect x="249.55" y="1355.67" width="41.5" height="27.09" fill="#f9f0eb"/><rect x="291" y="1355.67" width="41.5" height="27.09" fill="#f9f0eb"/><rect x="332.45" y="1355.67" width="41.5" height="27.09" fill="#f9f0eb"/><rect x="373.9" y="1355.67" width="41.5" height="27.09" fill="#f9f0eb"/><rect x="415.35" y="1355.67" width="41.5" height="27.09" fill="#f9f0eb"/><rect x="456.8" y="1355.67" width="41.5" height="27.09" fill="#f9f0eb"/><rect x="498.25" y="1355.67" width="41.5" height="27.09" fill="#f9f0eb"/><rect x="539.7" y="1355.67" width="41.5" height="27.09" fill="#f9f0eb"/><rect x="581.15" y="1355.67" width="41.5" height="27.09" fill="#f9f0eb"/><rect x="622.6" y="1355.67" width="41.5" height="27.09" fill="#f9f0eb"/><rect x="664.05" y="1355.67" width="41.5" height="27.09" fill="#f9f0eb"/><rect x="705.5" y="1355.67" width="41.5" height="27.09" fill="#f9f0eb"/><rect x="746.95" y="1355.67" width="41.5" height="27.09" fill="#f9f0eb"/><rect x="788.4" y="1355.67" width="41.5" height="27.09" fill="#f9f0eb"/><rect x="829.85" y="1355.67" width="41.5" height="27.09" fill="#f9f0eb"/><rect x="871.3" y="1355.67" width="41.5" height="27.09" fill="#2d1e3e"/><rect x="912.75" y="1355.67" width="41.5" height="27.09" fill="#2d1e3e"/><rect x="954.2" y="1355.67" width="41.5" height="27.09" fill="#dda8af"/><rect x="995.65" y="1355.67" width="41.5" height="27.09" fill="#f9f0eb"/><rect x="1037.1" y="1355.67" width="41.5" height="27.09" fill="#f9f0eb"/><rect x="83.75" y="1382.7" width="41.5" height="27.09" fill="#f9f0eb"/><rect x="125.2" y="1382.7" width="41.5" height="27.09" fill="#f9f0eb"/><rect x="166.65" y="1382.7" width="41.5" height="27.09" fill="#f9f0eb"/><rect x="208.1" y="1382.7" width="41.5" height="27.09" fill="#f9f0eb"/><rect x="249.55" y="1382.7" width="41.5" height="27.09" fill="#f9f0eb"/><rect x="291" y="1382.7" width="41.5" height="27.09" fill="#f9f0eb"/><rect x="332.45" y="1382.7" width="41.5" height="27.09" fill="#f9f0eb"/><rect x="373.9" y="1382.7" width="41.5" height="27.09" fill="#f9f0eb"/><rect x="415.35" y="1382.7" width="41.5" height="27.09" fill="#f9f0eb"/><rect x="456.8" y="1382.7" width="41.5" height="27.09" fill="#f9f0eb"/><rect x="498.25" y="1382.7" width="41.5" height="27.09" fill="#f9f0eb"/><rect x="539.7" y="1382.7" width="41.5" height="27.09" fill="#f9f0eb"/><rect x="581.15" y="1382.7" width="41.5" height="27.09" fill="#f9f0eb"/><rect x="622.6" y="1382.7" width="41.5" height="27.09" fill="#f9f0eb"/><rect x="664.05" y="1382.7" width="41.5" height="27.09" fill="#f9f0eb"/><rect x="705.5" y="1382.7" width="41.5" height="27.09" fill="#f9f0eb"/><rect x="746.95" y="1382.7" width="41.5" height="27.09" fill="#f9f0eb"/><rect x="788.4" y="1382.7" width="41.5" height="27.09" fill="#f9f0eb"/><rect x="829.85" y="1382.7" width="41.5" height="27.09" fill="#f9f0eb"/><rect x="871.3" y="1382.7" width="41.5" height="27.09" fill="#f9f0eb"/><rect x="912.75" y="1382.7" width="41.5" height="27.09" fill="#dda8af"/><rect x="954.2" y="1382.7" width="41.5" height="27.09" fill="#2d1e3e"/><rect x="995.65" y="1382.7" width="41.5" height="27.09" fill="#f6e9e2"/><rect x="1037.1" y="1382.7" width="41.5" height="27.09" fill="#f9f0eb"/><rect x="83.75" y="1409.74" width="41.5" height="27.09" fill="#f9f0eb"/><rect x="125.2" y="1409.74" width="41.5" height="27.09" fill="#f9f0eb"/><rect x="166.65" y="1409.74" width="41.5" height="27.09" fill="#f9f0eb"/><rect x="208.1" y="1409.74" width="41.5" height="27.09" fill="#f9f0eb"/><rect x="249.55" y="1409.74" width="41.5" height="27.09" fill="#f9f0eb"/><rect x="291" y="1409.74" width="41.5" height="27.09" fill="#f9f0eb"/><rect x="332.45" y="1409.74" width="41.5" height="27.09" fill="#f9f0eb"/><rect x="373.9" y="1409.74" width="41.5" height="27.09" fill="#f9f0eb"/><rect x="415.35" y="1409.74" width="41.5" height="27.09" fill="#f9f0eb"/><rect x="456.8" y="1409.74" width="41.5" height="27.09" fill="#f9f0eb"/><rect x="498.25" y="1409.74" width="41.5" height="27.09" fill="#f9f0eb"/><rect x="539.7" y="1409.74" width="41.5" height="27.09" fill="#f9f0eb"/><rect x="581.15" y="1409.74" width="41.5" height="27.09" fill="#f9f0eb"/><rect x="622.6" y="1409.74" width="41.5" height="27.09" fill="#f9f0eb"/><rect x="664.05" y="1409.74" width="41.5" height="27.09" fill="#f9f0eb"/><rect x="705.5" y="1409.74" width="41.5" height="27.09" fill="#f9f0eb"/><rect x="746.95" y="1409.74" width="41.5" height="27.09" fill="#f9f0eb"/><rect x="788.4" y="1409.74" width="41.5" height="27.09" fill="#f9f0eb"/><rect x="829.85" y="1409.74" width="41.5" height="27.09" fill="#f9f0eb"/><rect x="871.3" y="1409.74" width="41.5" height="27.09" fill="#f9f0eb"/><rect x="912.75" y="1409.74" width="41.5" height="27.09" fill="#f9f0eb"/><rect x="954.2" y="1409.74" width="41.5" height="27.09" fill="#f6e9e2"/><rect x="995.65" y="1409.74" width="41.5" height="27.09" fill="#2d1e3e"/><rect x="1037.1" y="1409.74" width="41.5" height="27.09" fill="#f9f0eb"/><rect x="83.75" y="1436.78" width="41.5" height="27.09" fill="#f9f0eb"/><rect x="125.2" y="1436.78" width="41.5" height="27.09" fill="#f9f0eb"/><rect x="166.65" y="1436.78" width="41.5" height="27.09" fill="#f9f0eb"/><rect x="208.1" y="1436.78" width="41.5" height="27.09" fill="#f9f0eb"/><rect x="249.55" y="1436.78" width="41.5" height="27.09" fill="#f9f0eb"/><rect x="291" y="1436.78" width="41.5" height="27.09" fill="#f9f0eb"/><rect x="332.45" y="1436.78" width="41.5" height="27.09" fill="#f9f0eb"/><rect x="373.9" y="1436.78" width="41.5" height="27.09" fill="#f9f0eb"/><rect x="415.35" y="1436.78" width="41.5" height="27.09" fill="#f9f0eb"/><rect x="456.8" y="1436.78" width="41.5" height="27.09" fill="#f9f0eb"/><rect x="498.25" y="1436.78" width="41.5" height="27.09" fill="#f9f0eb"/><rect x="539.7" y="1436.78" width="41.5" height="27.09" fill="#f9f0eb"/><rect x="581.15" y="1436.78" width="41.5" height="27.09" fill="#f9f0eb"/><rect x="622.6" y="1436.78" width="41.5" height="27.09" fill="#f9f0eb"/><rect x="664.05" y="1436.78" width="41.5" height="27.09" fill="#f9f0eb"/><rect x="705.5" y="1436.78" width="41.5" height="27.09" fill="#f9f0eb"/><rect x="746.95" y="1436.78" width="41.5" height="27.09" fill="#f9f0eb"/><rect x="788.4" y="1436.78" width="41.5" height="27.09" fill="#f9f0eb"/><rect x="829.85" y="1436.78" width="41.5" height="27.09" fill="#f9f0eb"/><rect x="871.3" y="1436.78" width="41.5" height="27.09" fill="#f9f0eb"/><rect x="912.75" y="1436.78" width="41.5" height="27.09" fill="#f9f0eb"/><rect x="954.2" y="1436.78" width="41.5" height="27.09" fill="#f9f0eb"/><rect x="995.65" y="1436.78" width="41.5" height="27.09" fill="#f9f0eb"/><rect x="1037.1" y="1436.78" width="41.5" height="27.09" fill="#2d1e3e"/></g>
<path d="M125.2 814.97V1463.81M166.65 814.97V1463.81M208.1 814.97V1463.81M249.55 814.97V1463.81M291 814.97V1463.81M332.45 814.97V1463.81M373.9 814.97V1463.81M415.35 814.97V1463.81M456.8 814.97V1463.81M498.25 814.97V1463.81M539.7 814.97V1463.81M581.15 814.97V1463.81M622.6 814.97V1463.81M664.05 814.97V1463.81M705.5 814.97V1463.81M746.95 814.97V1463.81M788.4 814.97V1463.81M829.85 814.97V1463.81M871.3 814.97V1463.81M912.75 814.97V1463.81M954.2 814.97V1463.81M995.65 814.97V1463.81M1037.1 814.97V1463.81M83.75 842H1078.55M83.75 869.04H1078.55M83.75 896.08H1078.55M83.75 923.11H1078.55M83.75 950.14H1078.55M83.75 977.18H1078.55M83.75 1004.22H1078.55M83.75 1031.25H1078.55M83.75 1058.29H1078.55M83.75 1085.32H1078.55M83.75 1112.36H1078.55M83.75 1139.39H1078.55M83.75 1166.42H1078.55M83.75 1193.46H1078.55M83.75 1220.49H1078.55M83.75 1247.53H1078.55M83.75 1274.57H1078.55M83.75 1301.6H1078.55M83.75 1328.63H1078.55M83.75 1355.67H1078.55M83.75 1382.7H1078.55M83.75 1409.74H1078.55M83.75 1436.78H1078.55" stroke="#fff" stroke-opacity="0.7" stroke-width="1.0" fill="none"/>
<rect x="83.75" y="814.97" width="994.8" height="648.84" stroke="#fff" stroke-width="1.0" fill="none"/>
<g font-size="19.5" text-anchor="middle" stroke-width="0.25"><text x="145.93" y="834.07" class="w">0.59</text><text x="187.38" y="834.07" class="w">0.45</text><text x="228.83" y="834.07" class="w">0.35</text><text x="270.28" y="834.07" class="w">0.23</text><text x="311.73" y="834.07" class="w">0.14</text><text x="353.18" y="834.07" class="w">0.07</text><text x="394.63" y="834.07" class="w">0.03</text><text x="436.08" y="834.07" class="w">0.03</text><text x="477.53" y="834.07" class="d">0.00</text><text x="518.98" y="834.07" class="d">0.00</text><text x="560.43" y="834.07" class="d">0.00</text><text x="601.88" y="834.07" class="d">0.00</text><text x="643.33" y="834.07" class="d">0.00</text><text x="684.78" y="834.07" class="d">0.00</text><text x="726.23" y="834.07" class="d">0.00</text><text x="767.68" y="834.07" class="d">0.00</text><text x="809.13" y="834.07" class="d">0.00</text><text x="850.58" y="834.07" class="d">0.00</text><text x="892.03" y="834.07" class="d">0.00</text><text x="933.48" y="834.07" class="d">0.00</text><text x="974.93" y="834.07" class="d">0.00</text><text x="1016.38" y="834.07" class="d">0.00</text><text x="1057.82" y="834.07" class="d">0.00</text><text x="104.47" y="861.11" class="w">0.59</text><text x="187.38" y="861.11" class="w">0.41</text><text x="228.83" y="861.11" class="w">0.36</text><text x="270.28" y="861.11" class="w">0.31</text><text x="311.73" y="861.11" class="w">0.23</text><text x="353.18" y="861.11" class="w">0.08</text><text x="394.63" y="861.11" class="w">0.12</text><text x="436.08" y="861.11" class="w">0.03</text><text x="477.53" y="861.11" class="d">0.00</text><text x="518.98" y="861.11" class="d">0.00</text><text x="560.43" y="861.11" class="d">0.00</text><text x="601.88" y="861.11" class="d">0.00</text><text x="643.33" y="861.11" class="d">0.00</text><text x="684.78" y="861.11" class="d">0.00</text><text x="726.23" y="861.11" class="d">0.00</text><text x="767.68" y="861.11" class="d">0.00</text><text x="809.13" y="861.11" class="d">0.00</text><text x="850.58" y="861.11" class="d">0.00</text><text x="892.03" y="861.11" class="d">0.00</text><text x="933.48" y="861.11" class="d">0.00</text><text x="974.93" y="861.11" class="d">0.00</text><text x="1016.38" y="861.11" class="d">0.00</text><text x="1057.82" y="861.11" class="d">0.00</text><text x="104.47" y="888.14" class="w">0.45</text><text x="145.93" y="888.14" class="w">0.41</text><text x="228.83" y="888.14" class="w">0.56</text><text x="270.28" y="888.14" class="w">0.47</text><text x="311.73" y="888.14" class="w">0.36</text><text x="353.18" y="888.14" class="w">0.17</text><text x="394.63" y="888.14" class="w">0.14</text><text x="436.08" y="888.14" class="w">0.07</text><text x="477.53" y="888.14" class="d">0.01</text><text x="518.98" y="888.14" class="d">0.01</text><text x="560.43" y="888.14" class="d">0.00</text><text x="601.88" y="888.14" class="d">0.00</text><text x="643.33" y="888.14" class="d">0.00</text><text x="684.78" y="888.14" class="d">0.00</text><text x="726.23" y="888.14" class="d">0.00</text><text x="767.68" y="888.14" class="d">0.00</text><text x="809.13" y="888.14" class="d">0.00</text><text x="850.58" y="888.14" class="d">0.00</text><text x="892.03" y="888.14" class="d">0.00</text><text x="933.48" y="888.14" class="d">0.00</text><text x="974.93" y="888.14" class="d">0.00</text><text x="1016.38" y="888.14" class="d">0.00</text><text x="1057.82" y="888.14" class="d">0.00</text><text x="104.47" y="915.18" class="w">0.35</text><text x="145.93" y="915.18" class="w">0.36</text><text x="187.38" y="915.18" class="w">0.56</text><text x="270.28" y="915.18" class="w">0.47</text><text x="311.73" y="915.18" class="w">0.41</text><text x="353.18" y="915.18" class="w">0.24</text><text x="394.63" y="915.18" class="w">0.25</text><text x="436.08" y="915.18" class="w">0.10</text><text x="477.53" y="915.18" class="w">0.05</text><text x="518.98" y="915.18" class="w">0.04</text><text x="560.43" y="915.18" class="d">0.02</text><text x="601.88" y="915.18" class="d">0.00</text><text x="643.33" y="915.18" class="d">0.00</text><text x="684.78" y="915.18" class="d">0.00</text><text x="726.23" y="915.18" class="d">0.00</text><text x="767.68" y="915.18" class="d">0.00</text><text x="809.13" y="915.18" class="d">0.00</text><text x="850.58" y="915.18" class="d">0.00</text><text x="892.03" y="915.18" class="d">0.00</text><text x="933.48" y="915.18" class="d">0.00</text><text x="974.93" y="915.18" class="d">0.00</text><text x="1016.38" y="915.18" class="d">0.00</text><text x="1057.82" y="915.18" class="d">0.00</text><text x="104.47" y="942.21" class="w">0.23</text><text x="145.93" y="942.21" class="w">0.31</text><text x="187.38" y="942.21" class="w">0.47</text><text x="228.83" y="942.21" class="w">0.47</text><text x="311.73" y="942.21" class="w">0.52</text><text x="353.18" y="942.21" class="w">0.31</text><text x="394.63" y="942.21" class="w">0.34</text><text x="436.08" y="942.21" class="w">0.11</text><text x="477.53" y="942.21" class="w">0.05</text><text x="518.98" y="942.21" class="w">0.05</text><text x="560.43" y="942.21" class="w">0.03</text><text x="601.88" y="942.21" class="d">0.00</text><text x="643.33" y="942.21" class="d">0.00</text><text x="684.78" y="942.21" class="d">0.00</text><text x="726.23" y="942.21" class="d">0.00</text><text x="767.68" y="942.21" class="d">0.00</text><text x="809.13" y="942.21" class="d">0.00</text><text x="850.58" y="942.21" class="d">0.00</text><text x="892.03" y="942.21" class="d">0.00</text><text x="933.48" y="942.21" class="d">0.00</text><text x="974.93" y="942.21" class="d">0.00</text><text x="1016.38" y="942.21" class="d">0.00</text><text x="1057.82" y="942.21" class="d">0.00</text><text x="104.47" y="969.25" class="w">0.14</text><text x="145.93" y="969.25" class="w">0.23</text><text x="187.38" y="969.25" class="w">0.36</text><text x="228.83" y="969.25" class="w">0.41</text><text x="270.28" y="969.25" class="w">0.52</text><text x="353.18" y="969.25" class="w">0.47</text><text x="394.63" y="969.25" class="w">0.44</text><text x="436.08" y="969.25" class="w">0.18</text><text x="477.53" y="969.25" class="w">0.05</text><text x="518.98" y="969.25" class="w">0.07</text><text x="560.43" y="969.25" class="w">0.03</text><text x="601.88" y="969.25" class="d">0.00</text><text x="643.33" y="969.25" class="d">0.00</text><text x="684.78" y="969.25" class="d">0.00</text><text x="726.23" y="969.25" class="d">0.00</text><text x="767.68" y="969.25" class="d">0.00</text><text x="809.13" y="969.25" class="d">0.00</text><text x="850.58" y="969.25" class="d">0.00</text><text x="892.03" y="969.25" class="d">0.00</text><text x="933.48" y="969.25" class="d">0.00</text><text x="974.93" y="969.25" class="d">0.00</text><text x="1016.38" y="969.25" class="d">0.00</text><text x="1057.82" y="969.25" class="d">0.00</text><text x="104.47" y="996.28" class="w">0.07</text><text x="145.93" y="996.28" class="w">0.08</text><text x="187.38" y="996.28" class="w">0.17</text><text x="228.83" y="996.28" class="w">0.24</text><text x="270.28" y="996.28" class="w">0.31</text><text x="311.73" y="996.28" class="w">0.47</text><text x="394.63" y="996.28" class="w">0.48</text><text x="436.08" y="996.28" class="w">0.32</text><text x="477.53" y="996.28" class="w">0.21</text><text x="518.98" y="996.28" class="w">0.19</text><text x="560.43" y="996.28" class="w">0.08</text><text x="601.88" y="996.28" class="d">0.01</text><text x="643.33" y="996.28" class="d">0.00</text><text x="684.78" y="996.28" class="d">0.00</text><text x="726.23" y="996.28" class="d">0.00</text><text x="767.68" y="996.28" class="d">0.00</text><text x="809.13" y="996.28" class="d">0.00</text><text x="850.58" y="996.28" class="d">0.00</text><text x="892.03" y="996.28" class="d">0.00</text><text x="933.48" y="996.28" class="d">0.00</text><text x="974.93" y="996.28" class="d">0.00</text><text x="1016.38" y="996.28" class="d">0.00</text><text x="1057.82" y="996.28" class="d">0.00</text><text x="104.47" y="1023.32" class="w">0.03</text><text x="145.93" y="1023.32" class="w">0.12</text><text x="187.38" y="1023.32" class="w">0.14</text><text x="228.83" y="1023.32" class="w">0.25</text><text x="270.28" y="1023.32" class="w">0.34</text><text x="311.73" y="1023.32" class="w">0.44</text><text x="353.18" y="1023.32" class="w">0.48</text><text x="436.08" y="1023.32" class="w">0.29</text><text x="477.53" y="1023.32" class="w">0.28</text><text x="518.98" y="1023.32" class="w">0.21</text><text x="560.43" y="1023.32" class="w">0.14</text><text x="601.88" y="1023.32" class="w">0.03</text><text x="643.33" y="1023.32" class="d">0.02</text><text x="684.78" y="1023.32" class="d">0.00</text><text x="726.23" y="1023.32" class="d">0.00</text><text x="767.68" y="1023.32" class="d">0.00</text><text x="809.13" y="1023.32" class="d">0.00</text><text x="850.58" y="1023.32" class="d">0.00</text><text x="892.03" y="1023.32" class="d">0.00</text><text x="933.48" y="1023.32" class="d">0.00</text><text x="974.93" y="1023.32" class="d">0.00</text><text x="1016.38" y="1023.32" class="d">0.00</text><text x="1057.82" y="1023.32" class="d">0.00</text><text x="104.47" y="1050.35" class="w">0.03</text><text x="145.93" y="1050.35" class="w">0.03</text><text x="187.38" y="1050.35" class="w">0.07</text><text x="228.83" y="1050.35" class="w">0.10</text><text x="270.28" y="1050.35" class="w">0.11</text><text x="311.73" y="1050.35" class="w">0.18</text><text x="353.18" y="1050.35" class="w">0.32</text><text x="394.63" y="1050.35" class="w">0.29</text><text x="477.53" y="1050.35" class="w">0.40</text><text x="518.98" y="1050.35" class="w">0.33</text><text x="560.43" y="1050.35" class="w">0.30</text><text x="601.88" y="1050.35" class="w">0.17</text><text x="643.33" y="1050.35" class="w">0.06</text><text x="684.78" y="1050.35" class="w">0.03</text><text x="726.23" y="1050.35" class="d">0.01</text><text x="767.68" y="1050.35" class="d">0.00</text><text x="809.13" y="1050.35" class="d">0.00</text><text x="850.58" y="1050.35" class="d">0.00</text><text x="892.03" y="1050.35" class="d">0.00</text><text x="933.48" y="1050.35" class="d">0.00</text><text x="974.93" y="1050.35" class="d">0.00</text><text x="1016.38" y="1050.35" class="d">0.00</text><text x="1057.82" y="1050.35" class="d">0.00</text><text x="104.47" y="1077.38" class="d">0.00</text><text x="145.93" y="1077.38" class="d">0.00</text><text x="187.38" y="1077.38" class="d">0.01</text><text x="228.83" y="1077.38" class="w">0.05</text><text x="270.28" y="1077.38" class="w">0.05</text><text x="311.73" y="1077.38" class="w">0.05</text><text x="353.18" y="1077.38" class="w">0.21</text><text x="394.63" y="1077.38" class="w">0.28</text><text x="436.08" y="1077.38" class="w">0.40</text><text x="518.98" y="1077.38" class="w">0.49</text><text x="560.43" y="1077.38" class="w">0.49</text><text x="601.88" y="1077.38" class="w">0.18</text><text x="643.33" y="1077.38" class="w">0.09</text><text x="684.78" y="1077.38" class="w">0.02</text><text x="726.23" y="1077.38" class="d">0.01</text><text x="767.68" y="1077.38" class="d">0.00</text><text x="809.13" y="1077.38" class="d">0.00</text><text x="850.58" y="1077.38" class="d">0.00</text><text x="892.03" y="1077.38" class="d">0.00</text><text x="933.48" y="1077.38" class="d">0.00</text><text x="974.93" y="1077.38" class="d">0.00</text><text x="1016.38" y="1077.38" class="d">0.00</text><text x="1057.82" y="1077.38" class="d">0.00</text><text x="104.47" y="1104.42" class="d">0.00</text><text x="145.93" y="1104.42" class="d">0.00</text><text x="187.38" y="1104.42" class="d">0.01</text><text x="228.83" y="1104.42" class="w">0.04</text><text x="270.28" y="1104.42" class="w">0.05</text><text x="311.73" y="1104.42" class="w">0.07</text><text x="353.18" y="1104.42" class="w">0.19</text><text x="394.63" y="1104.42" class="w">0.21</text><text x="436.08" y="1104.42" class="w">0.33</text><text x="477.53" y="1104.42" class="w">0.49</text><text x="560.43" y="1104.42" class="w">0.46</text><text x="601.88" y="1104.42" class="w">0.23</text><text x="643.33" y="1104.42" class="w">0.10</text><text x="684.78" y="1104.42" class="d">0.02</text><text x="726.23" y="1104.42" class="d">0.01</text><text x="767.68" y="1104.42" class="d">0.00</text><text x="809.13" y="1104.42" class="d">0.00</text><text x="850.58" y="1104.42" class="d">0.00</text><text x="892.03" y="1104.42" class="d">0.00</text><text x="933.48" y="1104.42" class="d">0.00</text><text x="974.93" y="1104.42" class="d">0.00</text><text x="1016.38" y="1104.42" class="d">0.00</text><text x="1057.82" y="1104.42" class="d">0.00</text><text x="104.47" y="1131.45" class="d">0.00</text><text x="145.93" y="1131.45" class="d">0.00</text><text x="187.38" y="1131.45" class="d">0.00</text><text x="228.83" y="1131.45" class="d">0.02</text><text x="270.28" y="1131.45" class="w">0.03</text><text x="311.73" y="1131.45" class="w">0.03</text><text x="353.18" y="1131.45" class="w">0.08</text><text x="394.63" y="1131.45" class="w">0.14</text><text x="436.08" y="1131.45" class="w">0.30</text><text x="477.53" y="1131.45" class="w">0.49</text><text x="518.98" y="1131.45" class="w">0.46</text><text x="601.88" y="1131.45" class="w">0.43</text><text x="643.33" y="1131.45" class="w">0.24</text><text x="684.78" y="1131.45" class="w">0.06</text><text x="726.23" y="1131.45" class="w">0.05</text><text x="767.68" y="1131.45" class="d">0.00</text><text x="809.13" y="1131.45" class="d">0.00</text><text x="850.58" y="1131.45" class="d">0.00</text><text x="892.03" y="1131.45" class="d">0.00</text><text x="933.48" y="1131.45" class="d">0.00</text><text x="974.93" y="1131.45" class="d">0.00</text><text x="1016.38" y="1131.45" class="d">0.00</text><text x="1057.82" y="1131.45" class="d">0.00</text><text x="104.47" y="1158.49" class="d">0.00</text><text x="145.93" y="1158.49" class="d">0.00</text><text x="187.38" y="1158.49" class="d">0.00</text><text x="228.83" y="1158.49" class="d">0.00</text><text x="270.28" y="1158.49" class="d">0.00</text><text x="311.73" y="1158.49" class="d">0.00</text><text x="353.18" y="1158.49" class="d">0.01</text><text x="394.63" y="1158.49" class="w">0.03</text><text x="436.08" y="1158.49" class="w">0.17</text><text x="477.53" y="1158.49" class="w">0.18</text><text x="518.98" y="1158.49" class="w">0.23</text><text x="560.43" y="1158.49" class="w">0.43</text><text x="643.33" y="1158.49" class="w">0.54</text><text x="684.78" y="1158.49" class="w">0.22</text><text x="726.23" y="1158.49" class="w">0.13</text><text x="767.68" y="1158.49" class="d">0.01</text><text x="809.13" y="1158.49" class="d">0.00</text><text x="850.58" y="1158.49" class="d">0.00</text><text x="892.03" y="1158.49" class="d">0.00</text><text x="933.48" y="1158.49" class="d">0.00</text><text x="974.93" y="1158.49" class="d">0.00</text><text x="1016.38" y="1158.49" class="d">0.00</text><text x="1057.82" y="1158.49" class="d">0.00</text><text x="104.47" y="1185.52" class="d">0.00</text><text x="145.93" y="1185.52" class="d">0.00</text><text x="187.38" y="1185.52" class="d">0.00</text><text x="228.83" y="1185.52" class="d">0.00</text><text x="270.28" y="1185.52" class="d">0.00</text><text x="311.73" y="1185.52" class="d">0.00</text><text x="353.18" y="1185.52" class="d">0.00</text><text x="394.63" y="1185.52" class="d">0.02</text><text x="436.08" y="1185.52" class="w">0.06</text><text x="477.53" y="1185.52" class="w">0.09</text><text x="518.98" y="1185.52" class="w">0.10</text><text x="560.43" y="1185.52" class="w">0.24</text><text x="601.88" y="1185.52" class="w">0.54</text><text x="684.78" y="1185.52" class="w">0.38</text><text x="726.23" y="1185.52" class="w">0.24</text><text x="767.68" y="1185.52" class="w">0.02</text><text x="809.13" y="1185.52" class="d">0.00</text><text x="850.58" y="1185.52" class="d">0.00</text><text x="892.03" y="1185.52" class="d">0.00</text><text x="933.48" y="1185.52" class="d">0.00</text><text x="974.93" y="1185.52" class="d">0.00</text><text x="1016.38" y="1185.52" class="d">0.00</text><text x="1057.82" y="1185.52" class="d">0.00</text><text x="104.47" y="1212.56" class="d">0.00</text><text x="145.93" y="1212.56" class="d">0.00</text><text x="187.38" y="1212.56" class="d">0.00</text><text x="228.83" y="1212.56" class="d">0.00</text><text x="270.28" y="1212.56" class="d">0.00</text><text x="311.73" y="1212.56" class="d">0.00</text><text x="353.18" y="1212.56" class="d">0.00</text><text x="394.63" y="1212.56" class="d">0.00</text><text x="436.08" y="1212.56" class="w">0.03</text><text x="477.53" y="1212.56" class="w">0.02</text><text x="518.98" y="1212.56" class="d">0.02</text><text x="560.43" y="1212.56" class="w">0.06</text><text x="601.88" y="1212.56" class="w">0.22</text><text x="643.33" y="1212.56" class="w">0.38</text><text x="726.23" y="1212.56" class="w">0.48</text><text x="767.68" y="1212.56" class="w">0.18</text><text x="809.13" y="1212.56" class="w">0.02</text><text x="850.58" y="1212.56" class="d">0.00</text><text x="892.03" y="1212.56" class="d">0.00</text><text x="933.48" y="1212.56" class="d">0.00</text><text x="974.93" y="1212.56" class="d">0.00</text><text x="1016.38" y="1212.56" class="d">0.00</text><text x="1057.82" y="1212.56" class="d">0.00</text><text x="104.47" y="1239.59" class="d">0.00</text><text x="145.93" y="1239.59" class="d">0.00</text><text x="187.38" y="1239.59" class="d">0.00</text><text x="228.83" y="1239.59" class="d">0.00</text><text x="270.28" y="1239.59" class="d">0.00</text><text x="311.73" y="1239.59" class="d">0.00</text><text x="353.18" y="1239.59" class="d">0.00</text><text x="394.63" y="1239.59" class="d">0.00</text><text x="436.08" y="1239.59" class="d">0.01</text><text x="477.53" y="1239.59" class="d">0.01</text><text x="518.98" y="1239.59" class="d">0.01</text><text x="560.43" y="1239.59" class="w">0.05</text><text x="601.88" y="1239.59" class="w">0.13</text><text x="643.33" y="1239.59" class="w">0.24</text><text x="684.78" y="1239.59" class="w">0.48</text><text x="767.68" y="1239.59" class="w">0.34</text><text x="809.13" y="1239.59" class="w">0.10</text><text x="850.58" y="1239.59" class="w">0.02</text><text x="892.03" y="1239.59" class="d">0.00</text><text x="933.48" y="1239.59" class="d">0.00</text><text x="974.93" y="1239.59" class="d">0.00</text><text x="1016.38" y="1239.59" class="d">0.00</text><text x="1057.82" y="1239.59" class="d">0.00</text><text x="104.47" y="1266.63" class="d">0.00</text><text x="145.93" y="1266.63" class="d">0.00</text><text x="187.38" y="1266.63" class="d">0.00</text><text x="228.83" y="1266.63" class="d">0.00</text><text x="270.28" y="1266.63" class="d">0.00</text><text x="311.73" y="1266.63" class="d">0.00</text><text x="353.18" y="1266.63" class="d">0.00</text><text x="394.63" y="1266.63" class="d">0.00</text><text x="436.08" y="1266.63" class="d">0.00</text><text x="477.53" y="1266.63" class="d">0.00</text><text x="518.98" y="1266.63" class="d">0.00</text><text x="560.43" y="1266.63" class="d">0.00</text><text x="601.88" y="1266.63" class="d">0.01</text><text x="643.33" y="1266.63" class="w">0.02</text><text x="684.78" y="1266.63" class="w">0.18</text><text x="726.23" y="1266.63" class="w">0.34</text><text x="809.13" y="1266.63" class="w">0.22</text><text x="850.58" y="1266.63" class="w">0.05</text><text x="892.03" y="1266.63" class="d">0.00</text><text x="933.48" y="1266.63" class="d">0.00</text><text x="974.93" y="1266.63" class="d">0.00</text><text x="1016.38" y="1266.63" class="d">0.00</text><text x="1057.82" y="1266.63" class="d">0.00</text><text x="104.47" y="1293.66" class="d">0.00</text><text x="145.93" y="1293.66" class="d">0.00</text><text x="187.38" y="1293.66" class="d">0.00</text><text x="228.83" y="1293.66" class="d">0.00</text><text x="270.28" y="1293.66" class="d">0.00</text><text x="311.73" y="1293.66" class="d">0.00</text><text x="353.18" y="1293.66" class="d">0.00</text><text x="394.63" y="1293.66" class="d">0.00</text><text x="436.08" y="1293.66" class="d">0.00</text><text x="477.53" y="1293.66" class="d">0.00</text><text x="518.98" y="1293.66" class="d">0.00</text><text x="560.43" y="1293.66" class="d">0.00</text><text x="601.88" y="1293.66" class="d">0.00</text><text x="643.33" y="1293.66" class="d">0.00</text><text x="684.78" y="1293.66" class="w">0.02</text><text x="726.23" y="1293.66" class="w">0.10</text><text x="767.68" y="1293.66" class="w">0.22</text><text x="850.58" y="1293.66" class="w">0.23</text><text x="892.03" y="1293.66" class="d">0.01</text><text x="933.48" y="1293.66" class="d">0.00</text><text x="974.93" y="1293.66" class="d">0.00</text><text x="1016.38" y="1293.66" class="d">0.00</text><text x="1057.82" y="1293.66" class="d">0.00</text><text x="104.47" y="1320.7" class="d">0.00</text><text x="145.93" y="1320.7" class="d">0.00</text><text x="187.38" y="1320.7" class="d">0.00</text><text x="228.83" y="1320.7" class="d">0.00</text><text x="270.28" y="1320.7" class="d">0.00</text><text x="311.73" y="1320.7" class="d">0.00</text><text x="353.18" y="1320.7" class="d">0.00</text><text x="394.63" y="1320.7" class="d">0.00</text><text x="436.08" y="1320.7" class="d">0.00</text><text x="477.53" y="1320.7" class="d">0.00</text><text x="518.98" y="1320.7" class="d">0.00</text><text x="560.43" y="1320.7" class="d">0.00</text><text x="601.88" y="1320.7" class="d">0.00</text><text x="643.33" y="1320.7" class="d">0.00</text><text x="684.78" y="1320.7" class="d">0.00</text><text x="726.23" y="1320.7" class="w">0.02</text><text x="767.68" y="1320.7" class="w">0.05</text><text x="809.13" y="1320.7" class="w">0.23</text><text x="892.03" y="1320.7" class="w">0.09</text><text x="933.48" y="1320.7" class="d">0.00</text><text x="974.93" y="1320.7" class="d">0.00</text><text x="1016.38" y="1320.7" class="d">0.00</text><text x="1057.82" y="1320.7" class="d">0.00</text><text x="104.47" y="1347.73" class="d">0.00</text><text x="145.93" y="1347.73" class="d">0.00</text><text x="187.38" y="1347.73" class="d">0.00</text><text x="228.83" y="1347.73" class="d">0.00</text><text x="270.28" y="1347.73" class="d">0.00</text><text x="311.73" y="1347.73" class="d">0.00</text><text x="353.18" y="1347.73" class="d">0.00</text><text x="394.63" y="1347.73" class="d">0.00</text><text x="436.08" y="1347.73" class="d">0.00</text><text x="477.53" y="1347.73" class="d">0.00</text><text x="518.98" y="1347.73" class="d">0.00</text><text x="560.43" y="1347.73" class="d">0.00</text><text x="601.88" y="1347.73" class="d">0.00</text><text x="643.33" y="1347.73" class="d">0.00</text><text x="684.78" y="1347.73" class="d">0.00</text><text x="726.23" y="1347.73" class="d">0.00</text><text x="767.68" y="1347.73" class="d">0.00</text><text x="809.13" y="1347.73" class="d">0.01</text><text x="850.58" y="1347.73" class="w">0.09</text><text x="933.48" y="1347.73" class="w">0.10</text><text x="974.93" y="1347.73" class="d">0.00</text><text x="1016.38" y="1347.73" class="d">0.00</text><text x="1057.82" y="1347.73" class="d">0.00</text><text x="104.47" y="1374.77" class="d">0.00</text><text x="145.93" y="1374.77" class="d">0.00</text><text x="187.38" y="1374.77" class="d">0.00</text><text x="228.83" y="1374.77" class="d">0.00</text><text x="270.28" y="1374.77" class="d">0.00</text><text x="311.73" y="1374.77" class="d">0.00</text><text x="353.18" y="1374.77" class="d">0.00</text><text x="394.63" y="1374.77" class="d">0.00</text><text x="436.08" y="1374.77" class="d">0.00</text><text x="477.53" y="1374.77" class="d">0.00</text><text x="518.98" y="1374.77" class="d">0.00</text><text x="560.43" y="1374.77" class="d">0.00</text><text x="601.88" y="1374.77" class="d">0.00</text><text x="643.33" y="1374.77" class="d">0.00</text><text x="684.78" y="1374.77" class="d">0.00</text><text x="726.23" y="1374.77" class="d">0.00</text><text x="767.68" y="1374.77" class="d">0.00</text><text x="809.13" y="1374.77" class="d">0.00</text><text x="850.58" y="1374.77" class="d">0.00</text><text x="892.03" y="1374.77" class="w">0.10</text><text x="974.93" y="1374.77" class="d">0.02</text><text x="1016.38" y="1374.77" class="d">0.00</text><text x="1057.82" y="1374.77" class="d">0.00</text><text x="104.47" y="1401.8" class="d">0.00</text><text x="145.93" y="1401.8" class="d">0.00</text><text x="187.38" y="1401.8" class="d">0.00</text><text x="228.83" y="1401.8" class="d">0.00</text><text x="270.28" y="1401.8" class="d">0.00</text><text x="311.73" y="1401.8" class="d">0.00</text><text x="353.18" y="1401.8" class="d">0.00</text><text x="394.63" y="1401.8" class="d">0.00</text><text x="436.08" y="1401.8" class="d">0.00</text><text x="477.53" y="1401.8" class="d">0.00</text><text x="518.98" y="1401.8" class="d">0.00</text><text x="560.43" y="1401.8" class="d">0.00</text><text x="601.88" y="1401.8" class="d">0.00</text><text x="643.33" y="1401.8" class="d">0.00</text><text x="684.78" y="1401.8" class="d">0.00</text><text x="726.23" y="1401.8" class="d">0.00</text><text x="767.68" y="1401.8" class="d">0.00</text><text x="809.13" y="1401.8" class="d">0.00</text><text x="850.58" y="1401.8" class="d">0.00</text><text x="892.03" y="1401.8" class="d">0.00</text><text x="933.48" y="1401.8" class="d">0.02</text><text x="1016.38" y="1401.8" class="d">0.00</text><text x="1057.82" y="1401.8" class="d">0.00</text><text x="104.47" y="1428.84" class="d">0.00</text><text x="145.93" y="1428.84" class="d">0.00</text><text x="187.38" y="1428.84" class="d">0.00</text><text x="228.83" y="1428.84" class="d">0.00</text><text x="270.28" y="1428.84" class="d">0.00</text><text x="311.73" y="1428.84" class="d">0.00</text><text x="353.18" y="1428.84" class="d">0.00</text><text x="394.63" y="1428.84" class="d">0.00</text><text x="436.08" y="1428.84" class="d">0.00</text><text x="477.53" y="1428.84" class="d">0.00</text><text x="518.98" y="1428.84" class="d">0.00</text><text x="560.43" y="1428.84" class="d">0.00</text><text x="601.88" y="1428.84" class="d">0.00</text><text x="643.33" y="1428.84" class="d">0.00</text><text x="684.78" y="1428.84" class="d">0.00</text><text x="726.23" y="1428.84" class="d">0.00</text><text x="767.68" y="1428.84" class="d">0.00</text><text x="809.13" y="1428.84" class="d">0.00</text><text x="850.58" y="1428.84" class="d">0.00</text><text x="892.03" y="1428.84" class="d">0.00</text><text x="933.48" y="1428.84" class="d">0.00</text><text x="974.93" y="1428.84" class="d">0.00</text><text x="1057.82" y="1428.84" class="d">0.00</text><text x="104.47" y="1455.88" class="d">0.00</text><text x="145.93" y="1455.88" class="d">0.00</text><text x="187.38" y="1455.88" class="d">0.00</text><text x="228.83" y="1455.88" class="d">0.00</text><text x="270.28" y="1455.88" class="d">0.00</text><text x="311.73" y="1455.88" class="d">0.00</text><text x="353.18" y="1455.88" class="d">0.00</text><text x="394.63" y="1455.88" class="d">0.00</text><text x="436.08" y="1455.88" class="d">0.00</text><text x="477.53" y="1455.88" class="d">0.00</text><text x="518.98" y="1455.88" class="d">0.00</text><text x="560.43" y="1455.88" class="d">0.00</text><text x="601.88" y="1455.88" class="d">0.00</text><text x="643.33" y="1455.88" class="d">0.00</text><text x="684.78" y="1455.88" class="d">0.00</text><text x="726.23" y="1455.88" class="d">0.00</text><text x="767.68" y="1455.88" class="d">0.00</text><text x="809.13" y="1455.88" class="d">0.00</text><text x="850.58" y="1455.88" class="d">0.00</text><text x="892.03" y="1455.88" class="d">0.00</text><text x="933.48" y="1455.88" class="d">0.00</text><text x="974.93" y="1455.88" class="d">0.00</text><text x="1016.38" y="1455.88" class="d">0.00</text></g>
<g font-size="19.7" fill="#262626" stroke="#262626" stroke-width="0.2"><text x="52.93" y="833.6">0</text><text x="41.19" y="864.61">.10</text><text x="40.99" y="891.64">.14</text><text x="41.26" y="918.68">.18</text><text x="41.4" y="945.71">.22</text><text x="41.28" y="972.75">.26</text><text x="41.19" y="999.78">.30</text><text x="40.99" y="1026.82">.34</text><text x="41.26" y="1053.85">.38</text><text x="41.4" y="1080.88">.42</text><text x="41.28" y="1107.92">.46</text><text x="41.19" y="1134.95">.50</text><text x="40.99" y="1161.99">.54</text><text x="41.4" y="1189.02">.57</text><text x="41.4" y="1216.06">.62</text><text x="41.28" y="1243.09">.66</text><text x="41.19" y="1270.13">.70</text><text x="40.99" y="1297.16">.74</text><text x="41.26" y="1324.2">.78</text><text x="41.4" y="1351.23">.82</text><text x="41.28" y="1378.27">.86</text><text x="41.19" y="1405.3">.90</text><text x="40.99" y="1432.34">.94</text><text x="41.26" y="1459.38">.98</text><text x="99.33" y="1481.4">0</text><text x="127.81" y="1481.4">.10</text><text x="174.21" y="1481.4">.14</text><text x="215.41" y="1481.4">.18</text><text x="253.41" y="1481.4">.22</text><text x="295.61" y="1481.4">.26</text><text x="336.81" y="1481.4">.30</text><text x="378.41" y="1481.4">.34</text><text x="416.31" y="1481.4">.38</text><text x="457.51" y="1481.4">.42</text><text x="499.71" y="1481.4">.46</text><text x="541.51" y="1481.4">.50</text><text x="583.01" y="1481.4">.54</text><text x="624.81" y="1481.4">.57</text><text x="666.31" y="1481.4">.62</text><text x="707.91" y="1481.4">.66</text><text x="749.71" y="1481.4">.70</text><text x="791.51" y="1481.4">.74</text><text x="833.41" y="1481.4">.78</text><text x="875.21" y="1481.4">.82</text><text x="917.01" y="1481.4">.86</text><text x="958.61" y="1481.4">.90</text><text x="1000.11" y="1481.4">.94</text><text x="1041.91" y="1481.4">.98</text><text x="1145.13" y="822.2">0.06</text><text x="1145.13" y="930.2">0.05</text><text x="1145.13" y="1038.2">0.04</text><text x="1145.13" y="1146.2">0.03</text><text x="1145.13" y="1254.2">0.02</text><text x="1145.13" y="1362.2">0.01</text><text x="1145.13" y="1470.2">0.00</text></g>
<rect x="1103.8" y="817.1" width="34.6" height="646.6" fill="url(#cb)"/>
<g font-size="27.0" fill="#000"><text x="470.42" y="800.2">10 Images/group</text><text x="529.39" y="1519.8">R-G IF</text><text transform="translate(30 1125.9) rotate(-90)" x="-41.07" y="0">R-G IF</text><text transform="translate(1217.8 1136.4) rotate(-90)" x="-89.17" y="0">Mean p-values</text></g>
<text x="3.39" y="795.8" font-size="35.0" font-weight="bold" fill="#000">b</text>
<g shape-rendering="crispEdges"><rect x="83.7" y="1587.7" width="41.5" height="27.09" fill="#2d1e3e"/><rect x="125.15" y="1587.7" width="41.5" height="27.09" fill="#2d1e3e"/><rect x="166.6" y="1587.7" width="41.5" height="27.09" fill="#2d1e3e"/><rect x="208.05" y="1587.7" width="41.5" height="27.09" fill="#2d1e3e"/><rect x="249.5" y="1587.7" width="41.5" height="27.09" fill="#2d1e3e"/><rect x="290.95" y="1587.7" width="41.5" height="27.09" fill="#2d1e3e"/><rect x="332.4" y="1587.7" width="41.5" height="27.09" fill="#c27f9b"/><rect x="373.85" y="1587.7" width="41.5" height="27.09" fill="#f3e0d9"/><rect x="415.3" y="1587.7" width="41.5" height="27.09" fill="#f7ece7"/><rect x="456.75" y="1587.7" width="41.5" height="27.09" fill="#f9f0eb"/><rect x="498.2" y="1587.7" width="41.5" height="27.09" fill="#f9f0eb"/><rect x="539.65" y="1587.7" width="41.5" height="27.09" fill="#f9f0eb"/><rect x="581.1" y="1587.7" width="41.5" height="27.09" fill="#f9f0eb"/><rect x="622.55" y="1587.7" width="41.5" height="27.09" fill="#f9f0eb"/><rect x="664" y="1587.7" width="41.5" height="27.09" fill="#f9f0eb"/><rect x="705.45" y="1587.7" width="41.5" height="27.09" fill="#f9f0eb"/><rect x="746.9" y="1587.7" width="41.5" height="27.09" fill="#f9f0eb"/><rect x="788.35" y="1587.7" width="41.5" height="27.09" fill="#f9f0eb"/><rect x="829.8" y="1587.7" width="41.5" height="27.09" fill="#f9f0eb"/><rect x="871.25" y="1587.7" width="41.5" height="27.09" fill="#f9f0eb"/><rect x="912.7" y="1587.7" width="41.5" height="27.09" fill="#f9f0eb"/><rect x="954.15" y="1587.7" width="41.5" height="27.09" fill="#f9f0eb"/><rect x="995.6" y="1587.7" width="41.5" height="27.09" fill="#f9f0eb"/><rect x="1037.05" y="1587.7" width="41.5" height="27.09" fill="#f9f0eb"/><rect x="83.7" y="1614.74" width="41.5" height="27.09" fill="#2d1e3e"/><rect x="125.15" y="1614.74" width="41.5" height="27.09" fill="#2d1e3e"/><rect x="166.6" y="1614.74" width="41.5" height="27.09" fill="#2d1e3e"/><rect x="208.05" y="1614.74" width="41.5" height="27.09" fill="#2d1e3e"/><rect x="249.5" y="1614.74" width="41.5" height="27.09" fill="#2d1e3e"/><rect x="290.95" y="1614.74" width="41.5" height="27.09" fill="#2d1e3e"/><rect x="332.4" y="1614.74" width="41.5" height="27.09" fill="#2d1e3e"/><rect x="373.85" y="1614.74" width="41.5" height="27.09" fill="#e8c2c0"/><rect x="415.3" y="1614.74" width="41.5" height="27.09" fill="#f7ece7"/><rect x="456.75" y="1614.74" width="41.5" height="27.09" fill="#f9f0eb"/><rect x="498.2" y="1614.74" width="41.5" height="27.09" fill="#f9f0eb"/><rect x="539.65" y="1614.74" width="41.5" height="27.09" fill="#f9f0eb"/><rect x="581.1" y="1614.74" width="41.5" height="27.09" fill="#f9f0eb"/><rect x="622.55" y="1614.74" width="41.5" height="27.09" fill="#f9f0eb"/><rect x="664" y="1614.74" width="41.5" height="27.09" fill="#f9f0eb"/><rect x="705.45" y="1614.74" width="41.5" height="27.09" fill="#f9f0eb"/><rect x="746.9" y="1614.74" width="41.5" height="27.09" fill="#f9f0eb"/><rect x="788.35" y="1614.74" width="41.5" height="27.09" fill="#f9f0eb"/><rect x="829.8" y="1614.74" width="41.5" height="27.09" fill="#f9f0eb"/><rect x="871.25" y="1614.74" width="41.5" height="27.09" fill="#f9f0eb"/><rect x="912.7" y="1614.74" width="41.5" height="27.09" fill="#f9f0eb"/><rect x="954.15" y="1614.74" width="41.5" height="27.09" fill="#f9f0eb"/><rect x="995.6" y="1614.74" width="41.5" height="27.09" fill="#f9f0eb"/><rect x="1037.05" y="1614.74" width="41.5" height="27.09" fill="#f9f0eb"/><rect x="83.7" y="1641.77" width="41.5" height="27.09" fill="#2d1e3e"/><rect x="125.15" y="1641.77" width="41.5" height="27.09" fill="#2d1e3e"/><rect x="166.6" y="1641.77" width="41.5" height="27.09" fill="#2d1e3e"/><rect x="208.05" y="1641.77" width="41.5" height="27.09" fill="#2d1e3e"/><rect x="249.5" y="1641.77" width="41.5" height="27.09" fill="#2d1e3e"/><rect x="290.95" y="1641.77" width="41.5" height="27.09" fill="#2d1e3e"/><rect x="332.4" y="1641.77" width="41.5" height="27.09" fill="#2d1e3e"/><rect x="373.85" y="1641.77" width="41.5" height="27.09" fill="#2d1e3e"/><rect x="415.3" y="1641.77" width="41.5" height="27.09" fill="#5d3767"/><rect x="456.75" y="1641.77" width="41.5" height="27.09" fill="#f6e9e2"/><rect x="498.2" y="1641.77" width="41.5" height="27.09" fill="#edcfc9"/><rect x="539.65" y="1641.77" width="41.5" height="27.09" fill="#f9f0eb"/><rect x="581.1" y="1641.77" width="41.5" height="27.09" fill="#f9f0eb"/><rect x="622.55" y="1641.77" width="41.5" height="27.09" fill="#f9f0eb"/><rect x="664" y="1641.77" width="41.5" height="27.09" fill="#f9f0eb"/><rect x="705.45" y="1641.77" width="41.5" height="27.09" fill="#f9f0eb"/><rect x="746.9" y="1641.77" width="41.5" height="27.09" fill="#f9f0eb"/><rect x="788.35" y="1641.77" width="41.5" height="27.09" fill="#f9f0eb"/><rect x="829.8" y="1641.77" width="41.5" height="27.09" fill="#f9f0eb"/><rect x="871.25" y="1641.77" width="41.5" height="27.09" fill="#f9f0eb"/><rect x="912.7" y="1641.77" width="41.5" height="27.09" fill="#f9f0eb"/><rect x="954.15" y="1641.77" width="41.5" height="27.09" fill="#f9f0eb"/><rect x="995.6" y="1641.77" width="41.5" height="27.09" fill="#f9f0eb"/><rect x="1037.05" y="1641.77" width="41.5" height="27.09" fill="#f9f0eb"/><rect x="83.7" y="1668.81" width="41.5" height="27.09" fill="#2d1e3e"/><rect x="125.15" y="1668.81" width="41.5" height="27.09" fill="#2d1e3e"/><rect x="166.6" y="1668.81" width="41.5" height="27.09" fill="#2d1e3e"/><rect x="208.05" y="1668.81" width="41.5" height="27.09" fill="#2d1e3e"/><rect x="249.5" y="1668.81" width="41.5" height="27.09" fill="#2d1e3e"/><rect x="290.95" y="1668.81" width="41.5" height="27.09" fill="#2d1e3e"/><rect x="332.4" y="1668.81" width="41.5" height="27.09" fill="#2d1e3e"/><rect x="373.85" y="1668.81" width="41.5" height="27.09" fill="#2d1e3e"/><rect x="415.3" y="1668.81" width="41.5" height="27.09" fill="#b77495"/><rect x="456.75" y="1668.81" width="41.5" height="27.09" fill="#f7ece7"/><rect x="498.2" y="1668.81" width="41.5" height="27.09" fill="#f9f0eb"/><rect x="539.65" y="1668.81" width="41.5" height="27.09" fill="#f9f0eb"/><rect x="581.1" y="1668.81" width="41.5" height="27.09" fill="#f9f0eb"/><rect x="622.55" y="1668.81" width="41.5" height="27.09" fill="#f9f0eb"/><rect x="664" y="1668.81" width="41.5" height="27.09" fill="#f9f0eb"/><rect x="705.45" y="1668.81" width="41.5" height="27.09" fill="#f9f0eb"/><rect x="746.9" y="1668.81" width="41.5" height="27.09" fill="#f9f0eb"/><rect x="788.35" y="1668.81" width="41.5" height="27.09" fill="#f9f0eb"/><rect x="829.8" y="1668.81" width="41.5" height="27.09" fill="#f9f0eb"/><rect x="871.25" y="1668.81" width="41.5" height="27.09" fill="#f9f0eb"/><rect x="912.7" y="1668.81" width="41.5" height="27.09" fill="#f9f0eb"/><rect x="954.15" y="1668.81" width="41.5" height="27.09" fill="#f9f0eb"/><rect x="995.6" y="1668.81" width="41.5" height="27.09" fill="#f9f0eb"/><rect x="1037.05" y="1668.81" width="41.5" height="27.09" fill="#f9f0eb"/><rect x="83.7" y="1695.84" width="41.5" height="27.09" fill="#2d1e3e"/><rect x="125.15" y="1695.84" width="41.5" height="27.09" fill="#2d1e3e"/><rect x="166.6" y="1695.84" width="41.5" height="27.09" fill="#2d1e3e"/><rect x="208.05" y="1695.84" width="41.5" height="27.09" fill="#2d1e3e"/><rect x="249.5" y="1695.84" width="41.5" height="27.09" fill="#2d1e3e"/><rect x="290.95" y="1695.84" width="41.5" height="27.09" fill="#2d1e3e"/><rect x="332.4" y="1695.84" width="41.5" height="27.09" fill="#2d1e3e"/><rect x="373.85" y="1695.84" width="41.5" height="27.09" fill="#2d1e3e"/><rect x="415.3" y="1695.84" width="41.5" height="27.09" fill="#975987"/><rect x="456.75" y="1695.84" width="41.5" height="27.09" fill="#f9f0eb"/><rect x="498.2" y="1695.84" width="41.5" height="27.09" fill="#f9f0eb"/><rect x="539.65" y="1695.84" width="41.5" height="27.09" fill="#f9f0eb"/><rect x="581.1" y="1695.84" width="41.5" height="27.09" fill="#f9f0eb"/><rect x="622.55" y="1695.84" width="41.5" height="27.09" fill="#f9f0eb"/><rect x="664" y="1695.84" width="41.5" height="27.09" fill="#f9f0eb"/><rect x="705.45" y="1695.84" width="41.5" height="27.09" fill="#f9f0eb"/><rect x="746.9" y="1695.84" width="41.5" height="27.09" fill="#f9f0eb"/><rect x="788.35" y="1695.84" width="41.5" height="27.09" fill="#f9f0eb"/><rect x="829.8" y="1695.84" width="41.5" height="27.09" fill="#f9f0eb"/><rect x="871.25" y="1695.84" width="41.5" height="27.09" fill="#f9f0eb"/><rect x="912.7" y="1695.84" width="41.5" height="27.09" fill="#f9f0eb"/><rect x="954.15" y="1695.84" width="41.5" height="27.09" fill="#f9f0eb"/><rect x="995.6" y="1695.84" width="41.5" height="27.09" fill="#f9f0eb"/><rect x="1037.05" y="1695.84" width="41.5" height="27.09" fill="#f9f0eb"/><rect x="83.7" y="1722.88" width="41.5" height="27.09" fill="#2d1e3e"/><rect x="125.15" y="1722.88" width="41.5" height="27.09" fill="#2d1e3e"/><rect x="166.6" y="1722.88" width="41.5" height="27.09" fill="#2d1e3e"/><rect x="208.05" y="1722.88" width="41.5" height="27.09" fill="#2d1e3e"/><rect x="249.5" y="1722.88" width="41.5" height="27.09" fill="#2d1e3e"/><rect x="290.95" y="1722.88" width="41.5" height="27.09" fill="#2d1e3e"/><rect x="332.4" y="1722.88" width="41.5" height="27.09" fill="#2d1e3e"/><rect x="373.85" y="1722.88" width="41.5" height="27.09" fill="#2d1e3e"/><rect x="415.3" y="1722.88" width="41.5" height="27.09" fill="#2d1e3e"/><rect x="456.75" y="1722.88" width="41.5" height="27.09" fill="#bb7897"/><rect x="498.2" y="1722.88" width="41.5" height="27.09" fill="#eac7c3"/><rect x="539.65" y="1722.88" width="41.5" height="27.09" fill="#f9f0eb"/><rect x="581.1" y="1722.88" width="41.5" height="27.09" fill="#f9f0eb"/><rect x="622.55" y="1722.88" width="41.5" height="27.09" fill="#f9f0eb"/><rect x="664" y="1722.88" width="41.5" height="27.09" fill="#f9f0eb"/><rect x="705.45" y="1722.88" width="41.5" height="27.09" fill="#f9f0eb"/><rect x="746.9" y="1722.88" width="41.5" height="27.09" fill="#f9f0eb"/><rect x="788.35" y="1722.88" width="41.5" height="27.09" fill="#f9f0eb"/><rect x="829.8" y="1722.88" width="41.5" height="27.09" fill="#f9f0eb"/><rect x="871.25" y="1722.88" width="41.5" height="27.09" fill="#f9f0eb"/><rect x="912.7" y="1722.88" width="41.5" height="27.09" fill="#f9f0eb"/><rect x="954.15" y="1722.88" width="41.5" height="27.09" fill="#f9f0eb"/><rect x="995.6" y="1722.88" width="41.5" height="27.09" fill="#f9f0eb"/><rect x="1037.05" y="1722.88" width="41.5" height="27.09" fill="#f9f0eb"/><rect x="83.7" y="1749.91" width="41.5" height="27.09" fill="#c27f9b"/><rect x="125.15" y="1749.91" width="41.5" height="27.09" fill="#2d1e3e"/><rect x="166.6" y="1749.91" width="41.5" height="27.09" fill="#2d1e3e"/><rect x="208.05" y="1749.91" width="41.5" height="27.09" fill="#2d1e3e"/><rect x="249.5" y="1749.91" width="41.5" height="27.09" fill="#2d1e3e"/><rect x="290.95" y="1749.91" width="41.5" height="27.09" fill="#2d1e3e"/><rect x="332.4" y="1749.91" width="41.5" height="27.09" fill="#2d1e3e"/><rect x="373.85" y="1749.91" width="41.5" height="27.09" fill="#2d1e3e"/><rect x="415.3" y="1749.91" width="41.5" height="27.09" fill="#2d1e3e"/><rect x="456.75" y="1749.91" width="41.5" height="27.09" fill="#2d1e3e"/><rect x="498.2" y="1749.91" width="41.5" height="27.09" fill="#6d3f71"/><rect x="539.65" y="1749.91" width="41.5" height="27.09" fill="#f9f0eb"/><rect x="581.1" y="1749.91" width="41.5" height="27.09" fill="#f9f0eb"/><rect x="622.55" y="1749.91" width="41.5" height="27.09" fill="#f9f0eb"/><rect x="664" y="1749.91" width="41.5" height="27.09" fill="#f9f0eb"/><rect x="705.45" y="1749.91" width="41.5" height="27.09" fill="#f9f0eb"/><rect x="746.9" y="1749.91" width="41.5" height="27.09" fill="#f9f0eb"/><rect x="788.35" y="1749.91" width="41.5" height="27.09" fill="#f9f0eb"/><rect x="829.8" y="1749.91" width="41.5" height="27.09" fill="#f9f0eb"/><rect x="871.25" y="1749.91" width="41.5" height="27.09" fill="#f9f0eb"/><rect x="912.7" y="1749.91" width="41.5" height="27.09" fill="#f9f0eb"/><rect x="954.15" y="1749.91" width="41.5" height="27.09" fill="#f9f0eb"/><rect x="995.6" y="1749.91" width="41.5" height="27.09" fill="#f9f0eb"/><rect x="1037.05" y="1749.91" width="41.5" height="27.09" fill="#f9f0eb"/><rect x="83.7" y="1776.95" width="41.5" height="27.09" fill="#f3e0d9"/><rect x="125.15" y="1776.95" width="41.5" height="27.09" fill="#e8c2c0"/><rect x="166.6" y="1776.95" width="41.5" height="27.09" fill="#2d1e3e"/><rect x="208.05" y="1776.95" width="41.5" height="27.09" fill="#2d1e3e"/><rect x="249.5" y="1776.95" width="41.5" height="27.09" fill="#2d1e3e"/><rect x="290.95" y="1776.95" width="41.5" height="27.09" fill="#2d1e3e"/><rect x="332.4" y="1776.95" width="41.5" height="27.09" fill="#2d1e3e"/><rect x="373.85" y="1776.95" width="41.5" height="27.09" fill="#2d1e3e"/><rect x="415.3" y="1776.95" width="41.5" height="27.09" fill="#2d1e3e"/><rect x="456.75" y="1776.95" width="41.5" height="27.09" fill="#2d1e3e"/><rect x="498.2" y="1776.95" width="41.5" height="27.09" fill="#2d1e3e"/><rect x="539.65" y="1776.95" width="41.5" height="27.09" fill="#eed4ce"/><rect x="581.1" y="1776.95" width="41.5" height="27.09" fill="#f9f0eb"/><rect x="622.55" y="1776.95" width="41.5" height="27.09" fill="#f9f0eb"/><rect x="664" y="1776.95" width="41.5" height="27.09" fill="#f9f0eb"/><rect x="705.45" y="1776.95" width="41.5" height="27.09" fill="#f9f0eb"/><rect x="746.9" y="1776.95" width="41.5" height="27.09" fill="#f9f0eb"/><rect x="788.35" y="1776.95" width="41.5" height="27.09" fill="#f9f0eb"/><rect x="829.8" y="1776.95" width="41.5" height="27.09" fill="#f9f0eb"/><rect x="871.25" y="1776.95" width="41.5" height="27.09" fill="#f9f0eb"/><rect x="912.7" y="1776.95" width="41.5" height="27.09" fill="#f9f0eb"/><rect x="954.15" y="1776.95" width="41.5" height="27.09" fill="#f9f0eb"/><rect x="995.6" y="1776.95" width="41.5" height="27.09" fill="#f9f0eb"/><rect x="1037.05" y="1776.95" width="41.5" height="27.09" fill="#f9f0eb"/><rect x="83.7" y="1803.98" width="41.5" height="27.09" fill="#f7ece7"/><rect x="125.15" y="1803.98" width="41.5" height="27.09" fill="#f7ece7"/><rect x="166.6" y="1803.98" width="41.5" height="27.09" fill="#5d3767"/><rect x="208.05" y="1803.98" width="41.5" height="27.09" fill="#b77495"/><rect x="249.5" y="1803.98" width="41.5" height="27.09" fill="#975987"/><rect x="290.95" y="1803.98" width="41.5" height="27.09" fill="#2d1e3e"/><rect x="332.4" y="1803.98" width="41.5" height="27.09" fill="#2d1e3e"/><rect x="373.85" y="1803.98" width="41.5" height="27.09" fill="#2d1e3e"/><rect x="415.3" y="1803.98" width="41.5" height="27.09" fill="#2d1e3e"/><rect x="456.75" y="1803.98" width="41.5" height="27.09" fill="#2d1e3e"/><rect x="498.2" y="1803.98" width="41.5" height="27.09" fill="#2d1e3e"/><rect x="539.65" y="1803.98" width="41.5" height="27.09" fill="#8f5383"/><rect x="581.1" y="1803.98" width="41.5" height="27.09" fill="#d194a4"/><rect x="622.55" y="1803.98" width="41.5" height="27.09" fill="#f7ece7"/><rect x="664" y="1803.98" width="41.5" height="27.09" fill="#f9f0eb"/><rect x="705.45" y="1803.98" width="41.5" height="27.09" fill="#f9f0eb"/><rect x="746.9" y="1803.98" width="41.5" height="27.09" fill="#f9f0eb"/><rect x="788.35" y="1803.98" width="41.5" height="27.09" fill="#f9f0eb"/><rect x="829.8" y="1803.98" width="41.5" height="27.09" fill="#f9f0eb"/><rect x="871.25" y="1803.98" width="41.5" height="27.09" fill="#f9f0eb"/><rect x="912.7" y="1803.98" width="41.5" height="27.09" fill="#f9f0eb"/><rect x="954.15" y="1803.98" width="41.5" height="27.09" fill="#f9f0eb"/><rect x="995.6" y="1803.98" width="41.5" height="27.09" fill="#f9f0eb"/><rect x="1037.05" y="1803.98" width="41.5" height="27.09" fill="#f9f0eb"/><rect x="83.7" y="1831.02" width="41.5" height="27.09" fill="#f9f0eb"/><rect x="125.15" y="1831.02" width="41.5" height="27.09" fill="#f9f0eb"/><rect x="166.6" y="1831.02" width="41.5" height="27.09" fill="#f6e9e2"/><rect x="208.05" y="1831.02" width="41.5" height="27.09" fill="#f7ece7"/><rect x="249.5" y="1831.02" width="41.5" height="27.09" fill="#f9f0eb"/><rect x="290.95" y="1831.02" width="41.5" height="27.09" fill="#bb7897"/><rect x="332.4" y="1831.02" width="41.5" height="27.09" fill="#2d1e3e"/><rect x="373.85" y="1831.02" width="41.5" height="27.09" fill="#2d1e3e"/><rect x="415.3" y="1831.02" width="41.5" height="27.09" fill="#2d1e3e"/><rect x="456.75" y="1831.02" width="41.5" height="27.09" fill="#2d1e3e"/><rect x="498.2" y="1831.02" width="41.5" height="27.09" fill="#2d1e3e"/><rect x="539.65" y="1831.02" width="41.5" height="27.09" fill="#2d1e3e"/><rect x="581.1" y="1831.02" width="41.5" height="27.09" fill="#2d1e3e"/><rect x="622.55" y="1831.02" width="41.5" height="27.09" fill="#bf7c99"/><rect x="664" y="1831.02" width="41.5" height="27.09" fill="#f9f0eb"/><rect x="705.45" y="1831.02" width="41.5" height="27.09" fill="#f9f0eb"/><rect x="746.9" y="1831.02" width="41.5" height="27.09" fill="#f9f0eb"/><rect x="788.35" y="1831.02" width="41.5" height="27.09" fill="#f9f0eb"/><rect x="829.8" y="1831.02" width="41.5" height="27.09" fill="#f9f0eb"/><rect x="871.25" y="1831.02" width="41.5" height="27.09" fill="#f9f0eb"/><rect x="912.7" y="1831.02" width="41.5" height="27.09" fill="#f9f0eb"/><rect x="954.15" y="1831.02" width="41.5" height="27.09" fill="#f9f0eb"/><rect x="995.6" y="1831.02" width="41.5" height="27.09" fill="#f9f0eb"/><rect x="1037.05" y="1831.02" width="41.5" height="27.09" fill="#f9f0eb"/><rect x="83.7" y="1858.05" width="41.5" height="27.09" fill="#f9f0eb"/><rect x="125.15" y="1858.05" width="41.5" height="27.09" fill="#f9f0eb"/><rect x="166.6" y="1858.05" width="41.5" height="27.09" fill="#edcfc9"/><rect x="208.05" y="1858.05" width="41.5" height="27.09" fill="#f9f0eb"/><rect x="249.5" y="1858.05" width="41.5" height="27.09" fill="#f9f0eb"/><rect x="290.95" y="1858.05" width="41.5" height="27.09" fill="#eac7c3"/><rect x="332.4" y="1858.05" width="41.5" height="27.09" fill="#6d3f71"/><rect x="373.85" y="1858.05" width="41.5" height="27.09" fill="#2d1e3e"/><rect x="415.3" y="1858.05" width="41.5" height="27.09" fill="#2d1e3e"/><rect x="456.75" y="1858.05" width="41.5" height="27.09" fill="#2d1e3e"/><rect x="498.2" y="1858.05" width="41.5" height="27.09" fill="#2d1e3e"/><rect x="539.65" y="1858.05" width="41.5" height="27.09" fill="#2d1e3e"/><rect x="581.1" y="1858.05" width="41.5" height="27.09" fill="#2d1e3e"/><rect x="622.55" y="1858.05" width="41.5" height="27.09" fill="#2d1e3e"/><rect x="664" y="1858.05" width="41.5" height="27.09" fill="#f9f0eb"/><rect x="705.45" y="1858.05" width="41.5" height="27.09" fill="#f9f0eb"/><rect x="746.9" y="1858.05" width="41.5" height="27.09" fill="#f9f0eb"/><rect x="788.35" y="1858.05" width="41.5" height="27.09" fill="#f9f0eb"/><rect x="829.8" y="1858.05" width="41.5" height="27.09" fill="#f9f0eb"/><rect x="871.25" y="1858.05" width="41.5" height="27.09" fill="#f9f0eb"/><rect x="912.7" y="1858.05" width="41.5" height="27.09" fill="#f9f0eb"/><rect x="954.15" y="1858.05" width="41.5" height="27.09" fill="#f9f0eb"/><rect x="995.6" y="1858.05" width="41.5" height="27.09" fill="#f9f0eb"/><rect x="1037.05" y="1858.05" width="41.5" height="27.09" fill="#f9f0eb"/><rect x="83.7" y="1885.09" width="41.5" height="27.09" fill="#f9f0eb"/><rect x="125.15" y="1885.09" width="41.5" height="27.09" fill="#f9f0eb"/><rect x="166.6" y="1885.09" width="41.5" height="27.09" fill="#f9f0eb"/><rect x="208.05" y="1885.09" width="41.5" height="27.09" fill="#f9f0eb"/><rect x="249.5" y="1885.09" width="41.5" height="27.09" fill="#f9f0eb"/><rect x="290.95" y="1885.09" width="41.5" height="27.09" fill="#f9f0eb"/><rect x="332.4" y="1885.09" width="41.5" height="27.09" fill="#f9f0eb"/><rect x="373.85" y="1885.09" width="41.5" height="27.09" fill="#eed4ce"/><rect x="415.3" y="1885.09" width="41.5" height="27.09" fill="#8f5383"/><rect x="456.75" y="1885.09" width="41.5" height="27.09" fill="#2d1e3e"/><rect x="498.2" y="1885.09" width="41.5" height="27.09" fill="#2d1e3e"/><rect x="539.65" y="1885.09" width="41.5" height="27.09" fill="#2d1e3e"/><rect x="581.1" y="1885.09" width="41.5" height="27.09" fill="#2d1e3e"/><rect x="622.55" y="1885.09" width="41.5" height="27.09" fill="#2d1e3e"/><rect x="664" y="1885.09" width="41.5" height="27.09" fill="#dba4ad"/><rect x="705.45" y="1885.09" width="41.5" height="27.09" fill="#f7ece7"/><rect x="746.9" y="1885.09" width="41.5" height="27.09" fill="#f9f0eb"/><rect x="788.35" y="1885.09" width="41.5" height="27.09" fill="#f9f0eb"/><rect x="829.8" y="1885.09" width="41.5" height="27.09" fill="#f9f0eb"/><rect x="871.25" y="1885.09" width="41.5" height="27.09" fill="#f9f0eb"/><rect x="912.7" y="1885.09" width="41.5" height="27.09" fill="#f9f0eb"/><rect x="954.15" y="1885.09" width="41.5" height="27.09" fill="#f9f0eb"/><rect x="995.6" y="1885.09" width="41.5" height="27.09" fill="#f9f0eb"/><rect x="1037.05" y="1885.09" width="41.5" height="27.09" fill="#f9f0eb"/><rect x="83.7" y="1912.12" width="41.5" height="27.09" fill="#f9f0eb"/><rect x="125.15" y="1912.12" width="41.5" height="27.09" fill="#f9f0eb"/><rect x="166.6" y="1912.12" width="41.5" height="27.09" fill="#f9f0eb"/><rect x="208.05" y="1912.12" width="41.5" height="27.09" fill="#f9f0eb"/><rect x="249.5" y="1912.12" width="41.5" height="27.09" fill="#f9f0eb"/><rect x="290.95" y="1912.12" width="41.5" height="27.09" fill="#f9f0eb"/><rect x="332.4" y="1912.12" width="41.5" height="27.09" fill="#f9f0eb"/><rect x="373.85" y="1912.12" width="41.5" height="27.09" fill="#f9f0eb"/><rect x="415.3" y="1912.12" width="41.5" height="27.09" fill="#d194a4"/><rect x="456.75" y="1912.12" width="41.5" height="27.09" fill="#2d1e3e"/><rect x="498.2" y="1912.12" width="41.5" height="27.09" fill="#2d1e3e"/><rect x="539.65" y="1912.12" width="41.5" height="27.09" fill="#2d1e3e"/><rect x="581.1" y="1912.12" width="41.5" height="27.09" fill="#2d1e3e"/><rect x="622.55" y="1912.12" width="41.5" height="27.09" fill="#2d1e3e"/><rect x="664" y="1912.12" width="41.5" height="27.09" fill="#683d6e"/><rect x="705.45" y="1912.12" width="41.5" height="27.09" fill="#8f5383"/><rect x="746.9" y="1912.12" width="41.5" height="27.09" fill="#f9f0eb"/><rect x="788.35" y="1912.12" width="41.5" height="27.09" fill="#f9f0eb"/><rect x="829.8" y="1912.12" width="41.5" height="27.09" fill="#f9f0eb"/><rect x="871.25" y="1912.12" width="41.5" height="27.09" fill="#f9f0eb"/><rect x="912.7" y="1912.12" width="41.5" height="27.09" fill="#f9f0eb"/><rect x="954.15" y="1912.12" width="41.5" height="27.09" fill="#f9f0eb"/><rect x="995.6" y="1912.12" width="41.5" height="27.09" fill="#f9f0eb"/><rect x="1037.05" y="1912.12" width="41.5" height="27.09" fill="#f9f0eb"/><rect x="83.7" y="1939.15" width="41.5" height="27.09" fill="#f9f0eb"/><rect x="125.15" y="1939.15" width="41.5" height="27.09" fill="#f9f0eb"/><rect x="166.6" y="1939.15" width="41.5" height="27.09" fill="#f9f0eb"/><rect x="208.05" y="1939.15" width="41.5" height="27.09" fill="#f9f0eb"/><rect x="249.5" y="1939.15" width="41.5" height="27.09" fill="#f9f0eb"/><rect x="290.95" y="1939.15" width="41.5" height="27.09" fill="#f9f0eb"/><rect x="332.4" y="1939.15" width="41.5" height="27.09" fill="#f9f0eb"/><rect x="373.85" y="1939.15" width="41.5" height="27.09" fill="#f9f0eb"/><rect x="415.3" y="1939.15" width="41.5" height="27.09" fill="#f7ece7"/><rect x="456.75" y="1939.15" width="41.5" height="27.09" fill="#bf7c99"/><rect x="498.2" y="1939.15" width="41.5" height="27.09" fill="#2d1e3e"/><rect x="539.65" y="1939.15" width="41.5" height="27.09" fill="#2d1e3e"/><rect x="581.1" y="1939.15" width="41.5" height="27.09" fill="#2d1e3e"/><rect x="622.55" y="1939.15" width="41.5" height="27.09" fill="#2d1e3e"/><rect x="664" y="1939.15" width="41.5" height="27.09" fill="#2d1e3e"/><rect x="705.45" y="1939.15" width="41.5" height="27.09" fill="#2d1e3e"/><rect x="746.9" y="1939.15" width="41.5" height="27.09" fill="#f9f0eb"/><rect x="788.35" y="1939.15" width="41.5" height="27.09" fill="#f9f0eb"/><rect x="829.8" y="1939.15" width="41.5" height="27.09" fill="#f9f0eb"/><rect x="871.25" y="1939.15" width="41.5" height="27.09" fill="#f9f0eb"/><rect x="912.7" y="1939.15" width="41.5" height="27.09" fill="#f9f0eb"/><rect x="954.15" y="1939.15" width="41.5" height="27.09" fill="#f9f0eb"/><rect x="995.6" y="1939.15" width="41.5" height="27.09" fill="#f9f0eb"/><rect x="1037.05" y="1939.15" width="41.5" height="27.09" fill="#f9f0eb"/><rect x="83.7" y="1966.19" width="41.5" height="27.09" fill="#f9f0eb"/><rect x="125.15" y="1966.19" width="41.5" height="27.09" fill="#f9f0eb"/><rect x="166.6" y="1966.19" width="41.5" height="27.09" fill="#f9f0eb"/><rect x="208.05" y="1966.19" width="41.5" height="27.09" fill="#f9f0eb"/><rect x="249.5" y="1966.19" width="41.5" height="27.09" fill="#f9f0eb"/><rect x="290.95" y="1966.19" width="41.5" height="27.09" fill="#f9f0eb"/><rect x="332.4" y="1966.19" width="41.5" height="27.09" fill="#f9f0eb"/><rect x="373.85" y="1966.19" width="41.5" height="27.09" fill="#f9f0eb"/><rect x="415.3" y="1966.19" width="41.5" height="27.09" fill="#f9f0eb"/><rect x="456.75" y="1966.19" width="41.5" height="27.09" fill="#f9f0eb"/><rect x="498.2" y="1966.19" width="41.5" height="27.09" fill="#f9f0eb"/><rect x="539.65" y="1966.19" width="41.5" height="27.09" fill="#dba4ad"/><rect x="581.1" y="1966.19" width="41.5" height="27.09" fill="#683d6e"/><rect x="622.55" y="1966.19" width="41.5" height="27.09" fill="#2d1e3e"/><rect x="664" y="1966.19" width="41.5" height="27.09" fill="#2d1e3e"/><rect x="705.45" y="1966.19" width="41.5" height="27.09" fill="#2d1e3e"/><rect x="746.9" y="1966.19" width="41.5" height="27.09" fill="#e8c2c0"/><rect x="788.35" y="1966.19" width="41.5" height="27.09" fill="#f7ece7"/><rect x="829.8" y="1966.19" width="41.5" height="27.09" fill="#f9f0eb"/><rect x="871.25" y="1966.19" width="41.5" height="27.09" fill="#f9f0eb"/><rect x="912.7" y="1966.19" width="41.5" height="27.09" fill="#f9f0eb"/><rect x="954.15" y="1966.19" width="41.5" height="27.09" fill="#f9f0eb"/><rect x="995.6" y="1966.19" width="41.5" height="27.09" fill="#f9f0eb"/><rect x="1037.05" y="1966.19" width="41.5" height="27.09" fill="#f9f0eb"/><rect x="83.7" y="1993.22" width="41.5" height="27.09" fill="#f9f0eb"/><rect x="125.15" y="1993.22" width="41.5" height="27.09" fill="#f9f0eb"/><rect x="166.6" y="1993.22" width="41.5" height="27.09" fill="#f9f0eb"/><rect x="208.05" y="1993.22" width="41.5" height="27.09" fill="#f9f0eb"/><rect x="249.5" y="1993.22" width="41.5" height="27.09" fill="#f9f0eb"/><rect x="290.95" y="1993.22" width="41.5" height="27.09" fill="#f9f0eb"/><rect x="332.4" y="1993.22" width="41.5" height="27.09" fill="#f9f0eb"/><rect x="373.85" y="1993.22" width="41.5" height="27.09" fill="#f9f0eb"/><rect x="415.3" y="1993.22" width="41.5" height="27.09" fill="#f9f0eb"/><rect x="456.75" y="1993.22" width="41.5" height="27.09" fill="#f9f0eb"/><rect x="498.2" y="1993.22" width="41.5" height="27.09" fill="#f9f0eb"/><rect x="539.65" y="1993.22" width="41.5" height="27.09" fill="#f7ece7"/><rect x="581.1" y="1993.22" width="41.5" height="27.09" fill="#8f5383"/><rect x="622.55" y="1993.22" width="41.5" height="27.09" fill="#2d1e3e"/><rect x="664" y="1993.22" width="41.5" height="27.09" fill="#2d1e3e"/><rect x="705.45" y="1993.22" width="41.5" height="27.09" fill="#2d1e3e"/><rect x="746.9" y="1993.22" width="41.5" height="27.09" fill="#2d1e3e"/><rect x="788.35" y="1993.22" width="41.5" height="27.09" fill="#e6bdbc"/><rect x="829.8" y="1993.22" width="41.5" height="27.09" fill="#f9f0eb"/><rect x="871.25" y="1993.22" width="41.5" height="27.09" fill="#f9f0eb"/><rect x="912.7" y="1993.22" width="41.5" height="27.09" fill="#f9f0eb"/><rect x="954.15" y="1993.22" width="41.5" height="27.09" fill="#f9f0eb"/><rect x="995.6" y="1993.22" width="41.5" height="27.09" fill="#f9f0eb"/><rect x="1037.05" y="1993.22" width="41.5" height="27.09" fill="#f9f0eb"/><rect x="83.7" y="2020.26" width="41.5" height="27.09" fill="#f9f0eb"/><rect x="125.15" y="2020.26" width="41.5" height="27.09" fill="#f9f0eb"/><rect x="166.6" y="2020.26" width="41.5" height="27.09" fill="#f9f0eb"/><rect x="208.05" y="2020.26" width="41.5" height="27.09" fill="#f9f0eb"/><rect x="249.5" y="2020.26" width="41.5" height="27.09" fill="#f9f0eb"/><rect x="290.95" y="2020.26" width="41.5" height="27.09" fill="#f9f0eb"/><rect x="332.4" y="2020.26" width="41.5" height="27.09" fill="#f9f0eb"/><rect x="373.85" y="2020.26" width="41.5" height="27.09" fill="#f9f0eb"/><rect x="415.3" y="2020.26" width="41.5" height="27.09" fill="#f9f0eb"/><rect x="456.75" y="2020.26" width="41.5" height="27.09" fill="#f9f0eb"/><rect x="498.2" y="2020.26" width="41.5" height="27.09" fill="#f9f0eb"/><rect x="539.65" y="2020.26" width="41.5" height="27.09" fill="#f9f0eb"/><rect x="581.1" y="2020.26" width="41.5" height="27.09" fill="#f9f0eb"/><rect x="622.55" y="2020.26" width="41.5" height="27.09" fill="#f9f0eb"/><rect x="664" y="2020.26" width="41.5" height="27.09" fill="#e8c2c0"/><rect x="705.45" y="2020.26" width="41.5" height="27.09" fill="#2d1e3e"/><rect x="746.9" y="2020.26" width="41.5" height="27.09" fill="#2d1e3e"/><rect x="788.35" y="2020.26" width="41.5" height="27.09" fill="#2d1e3e"/><rect x="829.8" y="2020.26" width="41.5" height="27.09" fill="#f4e5de"/><rect x="871.25" y="2020.26" width="41.5" height="27.09" fill="#f9f0eb"/><rect x="912.7" y="2020.26" width="41.5" height="27.09" fill="#f9f0eb"/><rect x="954.15" y="2020.26" width="41.5" height="27.09" fill="#f9f0eb"/><rect x="995.6" y="2020.26" width="41.5" height="27.09" fill="#f9f0eb"/><rect x="1037.05" y="2020.26" width="41.5" height="27.09" fill="#f9f0eb"/><rect x="83.7" y="2047.3" width="41.5" height="27.09" fill="#f9f0eb"/><rect x="125.15" y="2047.3" width="41.5" height="27.09" fill="#f9f0eb"/><rect x="166.6" y="2047.3" width="41.5" height="27.09" fill="#f9f0eb"/><rect x="208.05" y="2047.3" width="41.5" height="27.09" fill="#f9f0eb"/><rect x="249.5" y="2047.3" width="41.5" height="27.09" fill="#f9f0eb"/><rect x="290.95" y="2047.3" width="41.5" height="27.09" fill="#f9f0eb"/><rect x="332.4" y="2047.3" width="41.5" height="27.09" fill="#f9f0eb"/><rect x="373.85" y="2047.3" width="41.5" height="27.09" fill="#f9f0eb"/><rect x="415.3" y="2047.3" width="41.5" height="27.09" fill="#f9f0eb"/><rect x="456.75" y="2047.3" width="41.5" height="27.09" fill="#f9f0eb"/><rect x="498.2" y="2047.3" width="41.5" height="27.09" fill="#f9f0eb"/><rect x="539.65" y="2047.3" width="41.5" height="27.09" fill="#f9f0eb"/><rect x="581.1" y="2047.3" width="41.5" height="27.09" fill="#f9f0eb"/><rect x="622.55" y="2047.3" width="41.5" height="27.09" fill="#f9f0eb"/><rect x="664" y="2047.3" width="41.5" height="27.09" fill="#f7ece7"/><rect x="705.45" y="2047.3" width="41.5" height="27.09" fill="#e6bdbc"/><rect x="746.9" y="2047.3" width="41.5" height="27.09" fill="#2d1e3e"/><rect x="788.35" y="2047.3" width="41.5" height="27.09" fill="#2d1e3e"/><rect x="829.8" y="2047.3" width="41.5" height="27.09" fill="#2d1e3e"/><rect x="871.25" y="2047.3" width="41.5" height="27.09" fill="#f7ece7"/><rect x="912.7" y="2047.3" width="41.5" height="27.09" fill="#f9f0eb"/><rect x="954.15" y="2047.3" width="41.5" height="27.09" fill="#f9f0eb"/><rect x="995.6" y="2047.3" width="41.5" height="27.09" fill="#f9f0eb"/><rect x="1037.05" y="2047.3" width="41.5" height="27.09" fill="#f9f0eb"/><rect x="83.7" y="2074.33" width="41.5" height="27.09" fill="#f9f0eb"/><rect x="125.15" y="2074.33" width="41.5" height="27.09" fill="#f9f0eb"/><rect x="166.6" y="2074.33" width="41.5" height="27.09" fill="#f9f0eb"/><rect x="208.05" y="2074.33" width="41.5" height="27.09" fill="#f9f0eb"/><rect x="249.5" y="2074.33" width="41.5" height="27.09" fill="#f9f0eb"/><rect x="290.95" y="2074.33" width="41.5" height="27.09" fill="#f9f0eb"/><rect x="332.4" y="2074.33" width="41.5" height="27.09" fill="#f9f0eb"/><rect x="373.85" y="2074.33" width="41.5" height="27.09" fill="#f9f0eb"/><rect x="415.3" y="2074.33" width="41.5" height="27.09" fill="#f9f0eb"/><rect x="456.75" y="2074.33" width="41.5" height="27.09" fill="#f9f0eb"/><rect x="498.2" y="2074.33" width="41.5" height="27.09" fill="#f9f0eb"/><rect x="539.65" y="2074.33" width="41.5" height="27.09" fill="#f9f0eb"/><rect x="581.1" y="2074.33" width="41.5" height="27.09" fill="#f9f0eb"/><rect x="622.55" y="2074.33" width="41.5" height="27.09" fill="#f9f0eb"/><rect x="664" y="2074.33" width="41.5" height="27.09" fill="#f9f0eb"/><rect x="705.45" y="2074.33" width="41.5" height="27.09" fill="#f9f0eb"/><rect x="746.9" y="2074.33" width="41.5" height="27.09" fill="#f4e5de"/><rect x="788.35" y="2074.33" width="41.5" height="27.09" fill="#2d1e3e"/><rect x="829.8" y="2074.33" width="41.5" height="27.09" fill="#2d1e3e"/><rect x="871.25" y="2074.33" width="41.5" height="27.09" fill="#975987"/><rect x="912.7" y="2074.33" width="41.5" height="27.09" fill="#f9f0eb"/><rect x="954.15" y="2074.33" width="41.5" height="27.09" fill="#f9f0eb"/><rect x="995.6" y="2074.33" width="41.5" height="27.09" fill="#f9f0eb"/><rect x="1037.05" y="2074.33" width="41.5" height="27.09" fill="#f9f0eb"/><rect x="83.7" y="2101.36" width="41.5" height="27.09" fill="#f9f0eb"/><rect x="125.15" y="2101.36" width="41.5" height="27.09" fill="#f9f0eb"/><rect x="166.6" y="2101.36" width="41.5" height="27.09" fill="#f9f0eb"/><rect x="208.05" y="2101.36" width="41.5" height="27.09" fill="#f9f0eb"/><rect x="249.5" y="2101.36" width="41.5" height="27.09" fill="#f9f0eb"/><rect x="290.95" y="2101.36" width="41.5" height="27.09" fill="#f9f0eb"/><rect x="332.4" y="2101.36" width="41.5" height="27.09" fill="#f9f0eb"/><rect x="373.85" y="2101.36" width="41.5" height="27.09" fill="#f9f0eb"/><rect x="415.3" y="2101.36" width="41.5" height="27.09" fill="#f9f0eb"/><rect x="456.75" y="2101.36" width="41.5" height="27.09" fill="#f9f0eb"/><rect x="498.2" y="2101.36" width="41.5" height="27.09" fill="#f9f0eb"/><rect x="539.65" y="2101.36" width="41.5" height="27.09" fill="#f9f0eb"/><rect x="581.1" y="2101.36" width="41.5" height="27.09" fill="#f9f0eb"/><rect x="622.55" y="2101.36" width="41.5" height="27.09" fill="#f9f0eb"/><rect x="664" y="2101.36" width="41.5" height="27.09" fill="#f9f0eb"/><rect x="705.45" y="2101.36" width="41.5" height="27.09" fill="#f9f0eb"/><rect x="746.9" y="2101.36" width="41.5" height="27.09" fill="#f9f0eb"/><rect x="788.35" y="2101.36" width="41.5" height="27.09" fill="#f7ece7"/><rect x="829.8" y="2101.36" width="41.5" height="27.09" fill="#975987"/><rect x="871.25" y="2101.36" width="41.5" height="27.09" fill="#2d1e3e"/><rect x="912.7" y="2101.36" width="41.5" height="27.09" fill="#eac7c3"/><rect x="954.15" y="2101.36" width="41.5" height="27.09" fill="#f9f0eb"/><rect x="995.6" y="2101.36" width="41.5" height="27.09" fill="#f9f0eb"/><rect x="1037.05" y="2101.36" width="41.5" height="27.09" fill="#f9f0eb"/><rect x="83.7" y="2128.4" width="41.5" height="27.09" fill="#f9f0eb"/><rect x="125.15" y="2128.4" width="41.5" height="27.09" fill="#f9f0eb"/><rect x="166.6" y="2128.4" width="41.5" height="27.09" fill="#f9f0eb"/><rect x="208.05" y="2128.4" width="41.5" height="27.09" fill="#f9f0eb"/><rect x="249.5" y="2128.4" width="41.5" height="27.09" fill="#f9f0eb"/><rect x="290.95" y="2128.4" width="41.5" height="27.09" fill="#f9f0eb"/><rect x="332.4" y="2128.4" width="41.5" height="27.09" fill="#f9f0eb"/><rect x="373.85" y="2128.4" width="41.5" height="27.09" fill="#f9f0eb"/><rect x="415.3" y="2128.4" width="41.5" height="27.09" fill="#f9f0eb"/><rect x="456.75" y="2128.4" width="41.5" height="27.09" fill="#f9f0eb"/><rect x="498.2" y="2128.4" width="41.5" height="27.09" fill="#f9f0eb"/><rect x="539.65" y="2128.4" width="41.5" height="27.09" fill="#f9f0eb"/><rect x="581.1" y="2128.4" width="41.5" height="27.09" fill="#f9f0eb"/><rect x="622.55" y="2128.4" width="41.5" height="27.09" fill="#f9f0eb"/><rect x="664" y="2128.4" width="41.5" height="27.09" fill="#f9f0eb"/><rect x="705.45" y="2128.4" width="41.5" height="27.09" fill="#f9f0eb"/><rect x="746.9" y="2128.4" width="41.5" height="27.09" fill="#f9f0eb"/><rect x="788.35" y="2128.4" width="41.5" height="27.09" fill="#f9f0eb"/><rect x="829.8" y="2128.4" width="41.5" height="27.09" fill="#f9f0eb"/><rect x="871.25" y="2128.4" width="41.5" height="27.09" fill="#eac7c3"/><rect x="912.7" y="2128.4" width="41.5" height="27.09" fill="#2d1e3e"/><rect x="954.15" y="2128.4" width="41.5" height="27.09" fill="#f9f0eb"/><rect x="995.6" y="2128.4" width="41.5" height="27.09" fill="#f9f0eb"/><rect x="1037.05" y="2128.4" width="41.5" height="27.09" fill="#f9f0eb"/><rect x="83.7" y="2155.43" width="41.5" height="27.09" fill="#f9f0eb"/><rect x="125.15" y="2155.43" width="41.5" height="27.09" fill="#f9f0eb"/><rect x="166.6" y="2155.43" width="41.5" height="27.09" fill="#f9f0eb"/><rect x="208.05" y="2155.43" width="41.5" height="27.09" fill="#f9f0eb"/><rect x="249.5" y="2155.43" width="41.5" height="27.09" fill="#f9f0eb"/><rect x="290.95" y="2155.43" width="41.5" height="27.09" fill="#f9f0eb"/><rect x="332.4" y="2155.43" width="41.5" height="27.09" fill="#f9f0eb"/><rect x="373.85" y="2155.43" width="41.5" height="27.09" fill="#f9f0eb"/><rect x="415.3" y="2155.43" width="41.5" height="27.09" fill="#f9f0eb"/><rect x="456.75" y="2155.43" width="41.5" height="27.09" fill="#f9f0eb"/><rect x="498.2" y="2155.43" width="41.5" height="27.09" fill="#f9f0eb"/><rect x="539.65" y="2155.43" width="41.5" height="27.09" fill="#f9f0eb"/><rect x="581.1" y="2155.43" width="41.5" height="27.09" fill="#f9f0eb"/><rect x="622.55" y="2155.43" width="41.5" height="27.09" fill="#f9f0eb"/><rect x="664" y="2155.43" width="41.5" height="27.09" fill="#f9f0eb"/><rect x="705.45" y="2155.43" width="41.5" height="27.09" fill="#f9f0eb"/><rect x="746.9" y="2155.43" width="41.5" height="27.09" fill="#f9f0eb"/><rect x="788.35" y="2155.43" width="41.5" height="27.09" fill="#f9f0eb"/><rect x="829.8" y="2155.43" width="41.5" height="27.09" fill="#f9f0eb"/><rect x="871.25" y="2155.43" width="41.5" height="27.09" fill="#f9f0eb"/><rect x="912.7" y="2155.43" width="41.5" height="27.09" fill="#f9f0eb"/><rect x="954.15" y="2155.43" width="41.5" height="27.09" fill="#2d1e3e"/><rect x="995.6" y="2155.43" width="41.5" height="27.09" fill="#f9f0eb"/><rect x="1037.05" y="2155.43" width="41.5" height="27.09" fill="#f9f0eb"/><rect x="83.7" y="2182.47" width="41.5" height="27.09" fill="#f9f0eb"/><rect x="125.15" y="2182.47" width="41.5" height="27.09" fill="#f9f0eb"/><rect x="166.6" y="2182.47" width="41.5" height="27.09" fill="#f9f0eb"/><rect x="208.05" y="2182.47" width="41.5" height="27.09" fill="#f9f0eb"/><rect x="249.5" y="2182.47" width="41.5" height="27.09" fill="#f9f0eb"/><rect x="290.95" y="2182.47" width="41.5" height="27.09" fill="#f9f0eb"/><rect x="332.4" y="2182.47" width="41.5" height="27.09" fill="#f9f0eb"/><rect x="373.85" y="2182.47" width="41.5" height="27.09" fill="#f9f0eb"/><rect x="415.3" y="2182.47" width="41.5" height="27.09" fill="#f9f0eb"/><rect x="456.75" y="2182.47" width="41.5" height="27.09" fill="#f9f0eb"/><rect x="498.2" y="2182.47" width="41.5" height="27.09" fill="#f9f0eb"/><rect x="539.65" y="2182.47" width="41.5" height="27.09" fill="#f9f0eb"/><rect x="581.1" y="2182.47" width="41.5" height="27.09" fill="#f9f0eb"/><rect x="622.55" y="2182.47" width="41.5" height="27.09" fill="#f9f0eb"/><rect x="664" y="2182.47" width="41.5" height="27.09" fill="#f9f0eb"/><rect x="705.45" y="2182.47" width="41.5" height="27.09" fill="#f9f0eb"/><rect x="746.9" y="2182.47" width="41.5" height="27.09" fill="#f9f0eb"/><rect x="788.35" y="2182.47" width="41.5" height="27.09" fill="#f9f0eb"/><rect x="829.8" y="2182.47" width="41.5" height="27.09" fill="#f9f0eb"/><rect x="871.25" y="2182.47" width="41.5" height="27.09" fill="#f9f0eb"/><rect x="912.7" y="2182.47" width="41.5" height="27.09" fill="#f9f0eb"/><rect x="954.15" y="2182.47" width="41.5" height="27.09" fill="#f9f0eb"/><rect x="995.6" y="2182.47" width="41.5" height="27.09" fill="#2d1e3e"/><rect x="1037.05" y="2182.47" width="41.5" height="27.09" fill="#f9f0eb"/><rect x="83.7" y="2209.51" width="41.5" height="27.09" fill="#f9f0eb"/><rect x="125.15" y="2209.51" width="41.5" height="27.09" fill="#f9f0eb"/><rect x="166.6" y="2209.51" width="41.5" height="27.09" fill="#f9f0eb"/><rect x="208.05" y="2209.51" width="41.5" height="27.09" fill="#f9f0eb"/><rect x="249.5" y="2209.51" width="41.5" height="27.09" fill="#f9f0eb"/><rect x="290.95" y="2209.51" width="41.5" height="27.09" fill="#f9f0eb"/><rect x="332.4" y="2209.51" width="41.5" height="27.09" fill="#f9f0eb"/><rect x="373.85" y="2209.51" width="41.5" height="27.09" fill="#f9f0eb"/><rect x="415.3" y="2209.51" width="41.5" height="27.09" fill="#f9f0eb"/><rect x="456.75" y="2209.51" width="41.5" height="27.09" fill="#f9f0eb"/><rect x="498.2" y="2209.51" width="41.5" height="27.09" fill="#f9f0eb"/><rect x="539.65" y="2209.51" width="41.5" height="27.09" fill="#f9f0eb"/><rect x="581.1" y="2209.51" width="41.5" height="27.09" fill="#f9f0eb"/><rect x="622.55" y="2209.51" width="41.5" height="27.09" fill="#f9f0eb"/><rect x="664" y="2209.51" width="41.5" height="27.09" fill="#f9f0eb"/><rect x="705.45" y="2209.51" width="41.5" height="27.09" fill="#f9f0eb"/><rect x="746.9" y="2209.51" width="41.5" height="27.09" fill="#f9f0eb"/><rect x="788.35" y="2209.51" width="41.5" height="27.09" fill="#f9f0eb"/><rect x="829.8" y="2209.51" width="41.5" height="27.09" fill="#f9f0eb"/><rect x="871.25" y="2209.51" width="41.5" height="27.09" fill="#f9f0eb"/><rect x="912.7" y="2209.51" width="41.5" height="27.09" fill="#f9f0eb"/><rect x="954.15" y="2209.51" width="41.5" height="27.09" fill="#f9f0eb"/><rect x="995.6" y="2209.51" width="41.5" height="27.09" fill="#f9f0eb"/><rect x="1037.05" y="2209.51" width="41.5" height="27.09" fill="#2d1e3e"/></g>
<path d="M125.15 1587.7V2236.54M166.6 1587.7V2236.54M208.05 1587.7V2236.54M249.5 1587.7V2236.54M290.95 1587.7V2236.54M332.4 1587.7V2236.54M373.85 1587.7V2236.54M415.3 1587.7V2236.54M456.75 1587.7V2236.54M498.2 1587.7V2236.54M539.65 1587.7V2236.54M581.1 1587.7V2236.54M622.55 1587.7V2236.54M664 1587.7V2236.54M705.45 1587.7V2236.54M746.9 1587.7V2236.54M788.35 1587.7V2236.54M829.8 1587.7V2236.54M871.25 1587.7V2236.54M912.7 1587.7V2236.54M954.15 1587.7V2236.54M995.6 1587.7V2236.54M1037.05 1587.7V2236.54M83.7 1614.74H1078.5M83.7 1641.77H1078.5M83.7 1668.81H1078.5M83.7 1695.84H1078.5M83.7 1722.88H1078.5M83.7 1749.91H1078.5M83.7 1776.95H1078.5M83.7 1803.98H1078.5M83.7 1831.02H1078.5M83.7 1858.05H1078.5M83.7 1885.09H1078.5M83.7 1912.12H1078.5M83.7 1939.15H1078.5M83.7 1966.19H1078.5M83.7 1993.22H1078.5M83.7 2020.26H1078.5M83.7 2047.3H1078.5M83.7 2074.33H1078.5M83.7 2101.36H1078.5M83.7 2128.4H1078.5M83.7 2155.43H1078.5M83.7 2182.47H1078.5M83.7 2209.51H1078.5" stroke="#fff" stroke-opacity="0.7" stroke-width="1.0" fill="none"/>
<rect x="83.7" y="1587.7" width="994.8" height="648.84" stroke="#fff" stroke-width="1.0" fill="none"/>
<g font-size="19.5" text-anchor="middle" stroke-width="0.25"><text x="145.88" y="1606.8" class="w">0.45</text><text x="187.33" y="1606.8" class="w">0.29</text><text x="228.78" y="1606.8" class="w">0.18</text><text x="270.23" y="1606.8" class="w">0.07</text><text x="311.68" y="1606.8" class="w">0.09</text><text x="353.13" y="1606.8" class="w">0.03</text><text x="394.58" y="1606.8" class="d">0.00</text><text x="436.03" y="1606.8" class="d">0.00</text><text x="477.48" y="1606.8" class="d">0.00</text><text x="518.92" y="1606.8" class="d">0.00</text><text x="560.38" y="1606.8" class="d">0.00</text><text x="601.83" y="1606.8" class="d">0.00</text><text x="643.28" y="1606.8" class="d">0.00</text><text x="684.73" y="1606.8" class="d">0.00</text><text x="726.18" y="1606.8" class="d">0.00</text><text x="767.63" y="1606.8" class="d">0.00</text><text x="809.08" y="1606.8" class="d">0.00</text><text x="850.53" y="1606.8" class="d">0.00</text><text x="891.98" y="1606.8" class="d">0.00</text><text x="933.43" y="1606.8" class="d">0.00</text><text x="974.88" y="1606.8" class="d">0.00</text><text x="1016.33" y="1606.8" class="d">0.00</text><text x="1057.77" y="1606.8" class="d">0.00</text><text x="104.43" y="1633.84" class="w">0.45</text><text x="187.33" y="1633.84" class="w">0.59</text><text x="228.78" y="1633.84" class="w">0.37</text><text x="270.23" y="1633.84" class="w">0.27</text><text x="311.68" y="1633.84" class="w">0.16</text><text x="353.13" y="1633.84" class="w">0.06</text><text x="394.58" y="1633.84" class="d">0.01</text><text x="436.03" y="1633.84" class="d">0.00</text><text x="477.48" y="1633.84" class="d">0.00</text><text x="518.92" y="1633.84" class="d">0.00</text><text x="560.38" y="1633.84" class="d">0.00</text><text x="601.83" y="1633.84" class="d">0.00</text><text x="643.28" y="1633.84" class="d">0.00</text><text x="684.73" y="1633.84" class="d">0.00</text><text x="726.18" y="1633.84" class="d">0.00</text><text x="767.63" y="1633.84" class="d">0.00</text><text x="809.08" y="1633.84" class="d">0.00</text><text x="850.53" y="1633.84" class="d">0.00</text><text x="891.98" y="1633.84" class="d">0.00</text><text x="933.43" y="1633.84" class="d">0.00</text><text x="974.88" y="1633.84" class="d">0.00</text><text x="1016.33" y="1633.84" class="d">0.00</text><text x="1057.77" y="1633.84" class="d">0.00</text><text x="104.43" y="1660.87" class="w">0.29</text><text x="145.88" y="1660.87" class="w">0.59</text><text x="228.78" y="1660.87" class="w">0.50</text><text x="270.23" y="1660.87" class="w">0.37</text><text x="311.68" y="1660.87" class="w">0.25</text><text x="353.13" y="1660.87" class="w">0.15</text><text x="394.58" y="1660.87" class="w">0.07</text><text x="436.03" y="1660.87" class="w">0.05</text><text x="477.48" y="1660.87" class="d">0.00</text><text x="518.92" y="1660.87" class="d">0.01</text><text x="560.38" y="1660.87" class="d">0.00</text><text x="601.83" y="1660.87" class="d">0.00</text><text x="643.28" y="1660.87" class="d">0.00</text><text x="684.73" y="1660.87" class="d">0.00</text><text x="726.18" y="1660.87" class="d">0.00</text><text x="767.63" y="1660.87" class="d">0.00</text><text x="809.08" y="1660.87" class="d">0.00</text><text x="850.53" y="1660.87" class="d">0.00</text><text x="891.98" y="1660.87" class="d">0.00</text><text x="933.43" y="1660.87" class="d">0.00</text><text x="974.88" y="1660.87" class="d">0.00</text><text x="1016.33" y="1660.87" class="d">0.00</text><text x="1057.77" y="1660.87" class="d">0.00</text><text x="104.43" y="1687.9" class="w">0.18</text><text x="145.88" y="1687.9" class="w">0.37</text><text x="187.33" y="1687.9" class="w">0.50</text><text x="270.23" y="1687.9" class="w">0.43</text><text x="311.68" y="1687.9" class="w">0.29</text><text x="353.13" y="1687.9" class="w">0.25</text><text x="394.58" y="1687.9" class="w">0.16</text><text x="436.03" y="1687.9" class="w">0.03</text><text x="477.48" y="1687.9" class="d">0.00</text><text x="518.92" y="1687.9" class="d">0.00</text><text x="560.38" y="1687.9" class="d">0.00</text><text x="601.83" y="1687.9" class="d">0.00</text><text x="643.28" y="1687.9" class="d">0.00</text><text x="684.73" y="1687.9" class="d">0.00</text><text x="726.18" y="1687.9" class="d">0.00</text><text x="767.63" y="1687.9" class="d">0.00</text><text x="809.08" y="1687.9" class="d">0.00</text><text x="850.53" y="1687.9" class="d">0.00</text><text x="891.98" y="1687.9" class="d">0.00</text><text x="933.43" y="1687.9" class="d">0.00</text><text x="974.88" y="1687.9" class="d">0.00</text><text x="1016.33" y="1687.9" class="d">0.00</text><text x="1057.77" y="1687.9" class="d">0.00</text><text x="104.43" y="1714.94" class="w">0.07</text><text x="145.88" y="1714.94" class="w">0.27</text><text x="187.33" y="1714.94" class="w">0.37</text><text x="228.78" y="1714.94" class="w">0.43</text><text x="311.68" y="1714.94" class="w">0.35</text><text x="353.13" y="1714.94" class="w">0.37</text><text x="394.58" y="1714.94" class="w">0.12</text><text x="436.03" y="1714.94" class="w">0.04</text><text x="477.48" y="1714.94" class="d">0.00</text><text x="518.92" y="1714.94" class="d">0.00</text><text x="560.38" y="1714.94" class="d">0.00</text><text x="601.83" y="1714.94" class="d">0.00</text><text x="643.28" y="1714.94" class="d">0.00</text><text x="684.73" y="1714.94" class="d">0.00</text><text x="726.18" y="1714.94" class="d">0.00</text><text x="767.63" y="1714.94" class="d">0.00</text><text x="809.08" y="1714.94" class="d">0.00</text><text x="850.53" y="1714.94" class="d">0.00</text><text x="891.98" y="1714.94" class="d">0.00</text><text x="933.43" y="1714.94" class="d">0.00</text><text x="974.88" y="1714.94" class="d">0.00</text><text x="1016.33" y="1714.94" class="d">0.00</text><text x="1057.77" y="1714.94" class="d">0.00</text><text x="104.43" y="1741.97" class="w">0.09</text><text x="145.88" y="1741.97" class="w">0.16</text><text x="187.33" y="1741.97" class="w">0.25</text><text x="228.78" y="1741.97" class="w">0.29</text><text x="270.23" y="1741.97" class="w">0.35</text><text x="353.13" y="1741.97" class="w">0.49</text><text x="394.58" y="1741.97" class="w">0.29</text><text x="436.03" y="1741.97" class="w">0.22</text><text x="477.48" y="1741.97" class="w">0.03</text><text x="518.92" y="1741.97" class="d">0.01</text><text x="560.38" y="1741.97" class="d">0.00</text><text x="601.83" y="1741.97" class="d">0.00</text><text x="643.28" y="1741.97" class="d">0.00</text><text x="684.73" y="1741.97" class="d">0.00</text><text x="726.18" y="1741.97" class="d">0.00</text><text x="767.63" y="1741.97" class="d">0.00</text><text x="809.08" y="1741.97" class="d">0.00</text><text x="850.53" y="1741.97" class="d">0.00</text><text x="891.98" y="1741.97" class="d">0.00</text><text x="933.43" y="1741.97" class="d">0.00</text><text x="974.88" y="1741.97" class="d">0.00</text><text x="1016.33" y="1741.97" class="d">0.00</text><text x="1057.77" y="1741.97" class="d">0.00</text><text x="104.43" y="1769.01" class="w">0.03</text><text x="145.88" y="1769.01" class="w">0.06</text><text x="187.33" y="1769.01" class="w">0.15</text><text x="228.78" y="1769.01" class="w">0.25</text><text x="270.23" y="1769.01" class="w">0.37</text><text x="311.68" y="1769.01" class="w">0.49</text><text x="394.58" y="1769.01" class="w">0.39</text><text x="436.03" y="1769.01" class="w">0.25</text><text x="477.48" y="1769.01" class="w">0.07</text><text x="518.92" y="1769.01" class="w">0.05</text><text x="560.38" y="1769.01" class="d">0.00</text><text x="601.83" y="1769.01" class="d">0.00</text><text x="643.28" y="1769.01" class="d">0.00</text><text x="684.73" y="1769.01" class="d">0.00</text><text x="726.18" y="1769.01" class="d">0.00</text><text x="767.63" y="1769.01" class="d">0.00</text><text x="809.08" y="1769.01" class="d">0.00</text><text x="850.53" y="1769.01" class="d">0.00</text><text x="891.98" y="1769.01" class="d">0.00</text><text x="933.43" y="1769.01" class="d">0.00</text><text x="974.88" y="1769.01" class="d">0.00</text><text x="1016.33" y="1769.01" class="d">0.00</text><text x="1057.77" y="1769.01" class="d">0.00</text><text x="104.43" y="1796.05" class="d">0.00</text><text x="145.88" y="1796.05" class="d">0.01</text><text x="187.33" y="1796.05" class="w">0.07</text><text x="228.78" y="1796.05" class="w">0.16</text><text x="270.23" y="1796.05" class="w">0.12</text><text x="311.68" y="1796.05" class="w">0.29</text><text x="353.13" y="1796.05" class="w">0.39</text><text x="436.03" y="1796.05" class="w">0.48</text><text x="477.48" y="1796.05" class="w">0.15</text><text x="518.92" y="1796.05" class="w">0.07</text><text x="560.38" y="1796.05" class="d">0.01</text><text x="601.83" y="1796.05" class="d">0.00</text><text x="643.28" y="1796.05" class="d">0.00</text><text x="684.73" y="1796.05" class="d">0.00</text><text x="726.18" y="1796.05" class="d">0.00</text><text x="767.63" y="1796.05" class="d">0.00</text><text x="809.08" y="1796.05" class="d">0.00</text><text x="850.53" y="1796.05" class="d">0.00</text><text x="891.98" y="1796.05" class="d">0.00</text><text x="933.43" y="1796.05" class="d">0.00</text><text x="974.88" y="1796.05" class="d">0.00</text><text x="1016.33" y="1796.05" class="d">0.00</text><text x="1057.77" y="1796.05" class="d">0.00</text><text x="104.43" y="1823.08" class="d">0.00</text><text x="145.88" y="1823.08" class="d">0.00</text><text x="187.33" y="1823.08" class="w">0.05</text><text x="228.78" y="1823.08" class="w">0.03</text><text x="270.23" y="1823.08" class="w">0.04</text><text x="311.68" y="1823.08" class="w">0.22</text><text x="353.13" y="1823.08" class="w">0.25</text><text x="394.58" y="1823.08" class="w">0.48</text><text x="477.48" y="1823.08" class="w">0.33</text><text x="518.92" y="1823.08" class="w">0.08</text><text x="560.38" y="1823.08" class="w">0.04</text><text x="601.83" y="1823.08" class="w">0.02</text><text x="643.28" y="1823.08" class="d">0.00</text><text x="684.73" y="1823.08" class="d">0.00</text><text x="726.18" y="1823.08" class="d">0.00</text><text x="767.63" y="1823.08" class="d">0.00</text><text x="809.08" y="1823.08" class="d">0.00</text><text x="850.53" y="1823.08" class="d">0.00</text><text x="891.98" y="1823.08" class="d">0.00</text><text x="933.43" y="1823.08" class="d">0.00</text><text x="974.88" y="1823.08" class="d">0.00</text><text x="1016.33" y="1823.08" class="d">0.00</text><text x="1057.77" y="1823.08" class="d">0.00</text><text x="104.43" y="1850.12" class="d">0.00</text><text x="145.88" y="1850.12" class="d">0.00</text><text x="187.33" y="1850.12" class="d">0.00</text><text x="228.78" y="1850.12" class="d">0.00</text><text x="270.23" y="1850.12" class="d">0.00</text><text x="311.68" y="1850.12" class="w">0.03</text><text x="353.13" y="1850.12" class="w">0.07</text><text x="394.58" y="1850.12" class="w">0.15</text><text x="436.03" y="1850.12" class="w">0.33</text><text x="518.92" y="1850.12" class="w">0.46</text><text x="560.38" y="1850.12" class="w">0.18</text><text x="601.83" y="1850.12" class="w">0.10</text><text x="643.28" y="1850.12" class="w">0.03</text><text x="684.73" y="1850.12" class="d">0.00</text><text x="726.18" y="1850.12" class="d">0.00</text><text x="767.63" y="1850.12" class="d">0.00</text><text x="809.08" y="1850.12" class="d">0.00</text><text x="850.53" y="1850.12" class="d">0.00</text><text x="891.98" y="1850.12" class="d">0.00</text><text x="933.43" y="1850.12" class="d">0.00</text><text x="974.88" y="1850.12" class="d">0.00</text><text x="1016.33" y="1850.12" class="d">0.00</text><text x="1057.77" y="1850.12" class="d">0.00</text><text x="104.43" y="1877.15" class="d">0.00</text><text x="145.88" y="1877.15" class="d">0.00</text><text x="187.33" y="1877.15" class="d">0.01</text><text x="228.78" y="1877.15" class="d">0.00</text><text x="270.23" y="1877.15" class="d">0.00</text><text x="311.68" y="1877.15" class="d">0.01</text><text x="353.13" y="1877.15" class="w">0.05</text><text x="394.58" y="1877.15" class="w">0.07</text><text x="436.03" y="1877.15" class="w">0.08</text><text x="477.48" y="1877.15" class="w">0.46</text><text x="560.38" y="1877.15" class="w">0.47</text><text x="601.83" y="1877.15" class="w">0.29</text><text x="643.28" y="1877.15" class="w">0.06</text><text x="684.73" y="1877.15" class="d">0.00</text><text x="726.18" y="1877.15" class="d">0.00</text><text x="767.63" y="1877.15" class="d">0.00</text><text x="809.08" y="1877.15" class="d">0.00</text><text x="850.53" y="1877.15" class="d">0.00</text><text x="891.98" y="1877.15" class="d">0.00</text><text x="933.43" y="1877.15" class="d">0.00</text><text x="974.88" y="1877.15" class="d">0.00</text><text x="1016.33" y="1877.15" class="d">0.00</text><text x="1057.77" y="1877.15" class="d">0.00</text><text x="104.43" y="1904.18" class="d">0.00</text><text x="145.88" y="1904.18" class="d">0.00</text><text x="187.33" y="1904.18" class="d">0.00</text><text x="228.78" y="1904.18" class="d">0.00</text><text x="270.23" y="1904.18" class="d">0.00</text><text x="311.68" y="1904.18" class="d">0.00</text><text x="353.13" y="1904.18" class="d">0.00</text><text x="394.58" y="1904.18" class="d">0.01</text><text x="436.03" y="1904.18" class="w">0.04</text><text x="477.48" y="1904.18" class="w">0.18</text><text x="518.92" y="1904.18" class="w">0.47</text><text x="601.83" y="1904.18" class="w">0.49</text><text x="643.28" y="1904.18" class="w">0.15</text><text x="684.73" y="1904.18" class="d">0.02</text><text x="726.18" y="1904.18" class="d">0.00</text><text x="767.63" y="1904.18" class="d">0.00</text><text x="809.08" y="1904.18" class="d">0.00</text><text x="850.53" y="1904.18" class="d">0.00</text><text x="891.98" y="1904.18" class="d">0.00</text><text x="933.43" y="1904.18" class="d">0.00</text><text x="974.88" y="1904.18" class="d">0.00</text><text x="1016.33" y="1904.18" class="d">0.00</text><text x="1057.77" y="1904.18" class="d">0.00</text><text x="104.43" y="1931.22" class="d">0.00</text><text x="145.88" y="1931.22" class="d">0.00</text><text x="187.33" y="1931.22" class="d">0.00</text><text x="228.78" y="1931.22" class="d">0.00</text><text x="270.23" y="1931.22" class="d">0.00</text><text x="311.68" y="1931.22" class="d">0.00</text><text x="353.13" y="1931.22" class="d">0.00</text><text x="394.58" y="1931.22" class="d">0.00</text><text x="436.03" y="1931.22" class="w">0.02</text><text x="477.48" y="1931.22" class="w">0.10</text><text x="518.92" y="1931.22" class="w">0.29</text><text x="560.38" y="1931.22" class="w">0.49</text><text x="643.28" y="1931.22" class="w">0.33</text><text x="684.73" y="1931.22" class="w">0.05</text><text x="726.18" y="1931.22" class="w">0.04</text><text x="767.63" y="1931.22" class="d">0.00</text><text x="809.08" y="1931.22" class="d">0.00</text><text x="850.53" y="1931.22" class="d">0.00</text><text x="891.98" y="1931.22" class="d">0.00</text><text x="933.43" y="1931.22" class="d">0.00</text><text x="974.88" y="1931.22" class="d">0.00</text><text x="1016.33" y="1931.22" class="d">0.00</text><text x="1057.77" y="1931.22" class="d">0.00</text><text x="104.43" y="1958.25" class="d">0.00</text><text x="145.88" y="1958.25" class="d">0.00</text><text x="187.33" y="1958.25" class="d">0.00</text><text x="228.78" y="1958.25" class="d">0.00</text><text x="270.23" y="1958.25" class="d">0.00</text><text x="311.68" y="1958.25" class="d">0.00</text><text x="353.13" y="1958.25" class="d">0.00</text><text x="394.58" y="1958.25" class="d">0.00</text><text x="436.03" y="1958.25" class="d">0.00</text><text x="477.48" y="1958.25" class="w">0.03</text><text x="518.92" y="1958.25" class="w">0.06</text><text x="560.38" y="1958.25" class="w">0.15</text><text x="601.83" y="1958.25" class="w">0.33</text><text x="684.73" y="1958.25" class="w">0.24</text><text x="726.18" y="1958.25" class="w">0.06</text><text x="767.63" y="1958.25" class="d">0.00</text><text x="809.08" y="1958.25" class="d">0.00</text><text x="850.53" y="1958.25" class="d">0.00</text><text x="891.98" y="1958.25" class="d">0.00</text><text x="933.43" y="1958.25" class="d">0.00</text><text x="974.88" y="1958.25" class="d">0.00</text><text x="1016.33" y="1958.25" class="d">0.00</text><text x="1057.77" y="1958.25" class="d">0.00</text><text x="104.43" y="1985.29" class="d">0.00</text><text x="145.88" y="1985.29" class="d">0.00</text><text x="187.33" y="1985.29" class="d">0.00</text><text x="228.78" y="1985.29" class="d">0.00</text><text x="270.23" y="1985.29" class="d">0.00</text><text x="311.68" y="1985.29" class="d">0.00</text><text x="353.13" y="1985.29" class="d">0.00</text><text x="394.58" y="1985.29" class="d">0.00</text><text x="436.03" y="1985.29" class="d">0.00</text><text x="477.48" y="1985.29" class="d">0.00</text><text x="518.92" y="1985.29" class="d">0.00</text><text x="560.38" y="1985.29" class="d">0.02</text><text x="601.83" y="1985.29" class="w">0.05</text><text x="643.28" y="1985.29" class="w">0.24</text><text x="726.18" y="1985.29" class="w">0.27</text><text x="767.63" y="1985.29" class="d">0.01</text><text x="809.08" y="1985.29" class="d">0.00</text><text x="850.53" y="1985.29" class="d">0.00</text><text x="891.98" y="1985.29" class="d">0.00</text><text x="933.43" y="1985.29" class="d">0.00</text><text x="974.88" y="1985.29" class="d">0.00</text><text x="1016.33" y="1985.29" class="d">0.00</text><text x="1057.77" y="1985.29" class="d">0.00</text><text x="104.43" y="2012.32" class="d">0.00</text><text x="145.88" y="2012.32" class="d">0.00</text><text x="187.33" y="2012.32" class="d">0.00</text><text x="228.78" y="2012.32" class="d">0.00</text><text x="270.23" y="2012.32" class="d">0.00</text><text x="311.68" y="2012.32" class="d">0.00</text><text x="353.13" y="2012.32" class="d">0.00</text><text x="394.58" y="2012.32" class="d">0.00</text><text x="436.03" y="2012.32" class="d">0.00</text><text x="477.48" y="2012.32" class="d">0.00</text><text x="518.92" y="2012.32" class="d">0.00</text><text x="560.38" y="2012.32" class="d">0.00</text><text x="601.83" y="2012.32" class="w">0.04</text><text x="643.28" y="2012.32" class="w">0.06</text><text x="684.73" y="2012.32" class="w">0.27</text><text x="767.63" y="2012.32" class="w">0.13</text><text x="809.08" y="2012.32" class="d">0.01</text><text x="850.53" y="2012.32" class="d">0.00</text><text x="891.98" y="2012.32" class="d">0.00</text><text x="933.43" y="2012.32" class="d">0.00</text><text x="974.88" y="2012.32" class="d">0.00</text><text x="1016.33" y="2012.32" class="d">0.00</text><text x="1057.77" y="2012.32" class="d">0.00</text><text x="104.43" y="2039.36" class="d">0.00</text><text x="145.88" y="2039.36" class="d">0.00</text><text x="187.33" y="2039.36" class="d">0.00</text><text x="228.78" y="2039.36" class="d">0.00</text><text x="270.23" y="2039.36" class="d">0.00</text><text x="311.68" y="2039.36" class="d">0.00</text><text x="353.13" y="2039.36" class="d">0.00</text><text x="394.58" y="2039.36" class="d">0.00</text><text x="436.03" y="2039.36" class="d">0.00</text><text x="477.48" y="2039.36" class="d">0.00</text><text x="518.92" y="2039.36" class="d">0.00</text><text x="560.38" y="2039.36" class="d">0.00</text><text x="601.83" y="2039.36" class="d">0.00</text><text x="643.28" y="2039.36" class="d">0.00</text><text x="684.73" y="2039.36" class="d">0.01</text><text x="726.18" y="2039.36" class="w">0.13</text><text x="809.08" y="2039.36" class="w">0.17</text><text x="850.53" y="2039.36" class="d">0.00</text><text x="891.98" y="2039.36" class="d">0.00</text><text x="933.43" y="2039.36" class="d">0.00</text><text x="974.88" y="2039.36" class="d">0.00</text><text x="1016.33" y="2039.36" class="d">0.00</text><text x="1057.77" y="2039.36" class="d">0.00</text><text x="104.43" y="2066.39" class="d">0.00</text><text x="145.88" y="2066.39" class="d">0.00</text><text x="187.33" y="2066.39" class="d">0.00</text><text x="228.78" y="2066.39" class="d">0.00</text><text x="270.23" y="2066.39" class="d">0.00</text><text x="311.68" y="2066.39" class="d">0.00</text><text x="353.13" y="2066.39" class="d">0.00</text><text x="394.58" y="2066.39" class="d">0.00</text><text x="436.03" y="2066.39" class="d">0.00</text><text x="477.48" y="2066.39" class="d">0.00</text><text x="518.92" y="2066.39" class="d">0.00</text><text x="560.38" y="2066.39" class="d">0.00</text><text x="601.83" y="2066.39" class="d">0.00</text><text x="643.28" y="2066.39" class="d">0.00</text><text x="684.73" y="2066.39" class="d">0.00</text><text x="726.18" y="2066.39" class="d">0.01</text><text x="767.63" y="2066.39" class="w">0.17</text><text x="850.53" y="2066.39" class="w">0.16</text><text x="891.98" y="2066.39" class="d">0.00</text><text x="933.43" y="2066.39" class="d">0.00</text><text x="974.88" y="2066.39" class="d">0.00</text><text x="1016.33" y="2066.39" class="d">0.00</text><text x="1057.77" y="2066.39" class="d">0.00</text><text x="104.43" y="2093.43" class="d">0.00</text><text x="145.88" y="2093.43" class="d">0.00</text><text x="187.33" y="2093.43" class="d">0.00</text><text x="228.78" y="2093.43" class="d">0.00</text><text x="270.23" y="2093.43" class="d">0.00</text><text x="311.68" y="2093.43" class="d">0.00</text><text x="353.13" y="2093.43" class="d">0.00</text><text x="394.58" y="2093.43" class="d">0.00</text><text x="436.03" y="2093.43" class="d">0.00</text><text x="477.48" y="2093.43" class="d">0.00</text><text x="518.92" y="2093.43" class="d">0.00</text><text x="560.38" y="2093.43" class="d">0.00</text><text x="601.83" y="2093.43" class="d">0.00</text><text x="643.28" y="2093.43" class="d">0.00</text><text x="684.73" y="2093.43" class="d">0.00</text><text x="726.18" y="2093.43" class="d">0.00</text><text x="767.63" y="2093.43" class="d">0.00</text><text x="809.08" y="2093.43" class="w">0.16</text><text x="891.98" y="2093.43" class="w">0.04</text><text x="933.43" y="2093.43" class="d">0.00</text><text x="974.88" y="2093.43" class="d">0.00</text><text x="1016.33" y="2093.43" class="d">0.00</text><text x="1057.77" y="2093.43" class="d">0.00</text><text x="104.43" y="2120.46" class="d">0.00</text><text x="145.88" y="2120.46" class="d">0.00</text><text x="187.33" y="2120.46" class="d">0.00</text><text x="228.78" y="2120.46" class="d">0.00</text><text x="270.23" y="2120.46" class="d">0.00</text><text x="311.68" y="2120.46" class="d">0.00</text><text x="353.13" y="2120.46" class="d">0.00</text><text x="394.58" y="2120.46" class="d">0.00</text><text x="436.03" y="2120.46" class="d">0.00</text><text x="477.48" y="2120.46" class="d">0.00</text><text x="518.92" y="2120.46" class="d">0.00</text><text x="560.38" y="2120.46" class="d">0.00</text><text x="601.83" y="2120.46" class="d">0.00</text><text x="643.28" y="2120.46" class="d">0.00</text><text x="684.73" y="2120.46" class="d">0.00</text><text x="726.18" y="2120.46" class="d">0.00</text><text x="767.63" y="2120.46" class="d">0.00</text><text x="809.08" y="2120.46" class="d">0.00</text><text x="850.53" y="2120.46" class="w">0.04</text><text x="933.43" y="2120.46" class="d">0.01</text><text x="974.88" y="2120.46" class="d">0.00</text><text x="1016.33" y="2120.46" class="d">0.00</text><text x="1057.77" y="2120.46" class="d">0.00</text><text x="104.43" y="2147.5" class="d">0.00</text><text x="145.88" y="2147.5" class="d">0.00</text><text x="187.33" y="2147.5" class="d">0.00</text><text x="228.78" y="2147.5" class="d">0.00</text><text x="270.23" y="2147.5" class="d">0.00</text><text x="311.68" y="2147.5" class="d">0.00</text><text x="353.13" y="2147.5" class="d">0.00</text><text x="394.58" y="2147.5" class="d">0.00</text><text x="436.03" y="2147.5" class="d">0.00</text><text x="477.48" y="2147.5" class="d">0.00</text><text x="518.92" y="2147.5" class="d">0.00</text><text x="560.38" y="2147.5" class="d">0.00</text><text x="601.83" y="2147.5" class="d">0.00</text><text x="643.28" y="2147.5" class="d">0.00</text><text x="684.73" y="2147.5" class="d">0.00</text><text x="726.18" y="2147.5" class="d">0.00</text><text x="767.63" y="2147.5" class="d">0.00</text><text x="809.08" y="2147.5" class="d">0.00</text><text x="850.53" y="2147.5" class="d">0.00</text><text x="891.98" y="2147.5" class="d">0.01</text><text x="974.88" y="2147.5" class="d">0.00</text><text x="1016.33" y="2147.5" class="d">0.00</text><text x="1057.77" y="2147.5" class="d">0.00</text><text x="104.43" y="2174.53" class="d">0.00</text><text x="145.88" y="2174.53" class="d">0.00</text><text x="187.33" y="2174.53" class="d">0.00</text><text x="228.78" y="2174.53" class="d">0.00</text><text x="270.23" y="2174.53" class="d">0.00</text><text x="311.68" y="2174.53" class="d">0.00</text><text x="353.13" y="2174.53" class="d">0.00</text><text x="394.58" y="2174.53" class="d">0.00</text><text x="436.03" y="2174.53" class="d">0.00</text><text x="477.48" y="2174.53" class="d">0.00</text><text x="518.92" y="2174.53" class="d">0.00</text><text x="560.38" y="2174.53" class="d">0.00</text><text x="601.83" y="2174.53" class="d">0.00</text><text x="643.28" y="2174.53" class="d">0.00</text><text x="684.73" y="2174.53" class="d">0.00</text><text x="726.18" y="2174.53" class="d">0.00</text><text x="767.63" y="2174.53" class="d">0.00</text><text x="809.08" y="2174.53" class="d">0.00</text><text x="850.53" y="2174.53" class="d">0.00</text><text x="891.98" y="2174.53" class="d">0.00</text><text x="933.43" y="2174.53" class="d">0.00</text><text x="1016.33" y="2174.53" class="d">0.00</text><text x="1057.77" y="2174.53" class="d">0.00</text><text x="104.43" y="2201.57" class="d">0.00</text><text x="145.88" y="2201.57" class="d">0.00</text><text x="187.33" y="2201.57" class="d">0.00</text><text x="228.78" y="2201.57" class="d">0.00</text><text x="270.23" y="2201.57" class="d">0.00</text><text x="311.68" y="2201.57" class="d">0.00</text><text x="353.13" y="2201.57" class="d">0.00</text><text x="394.58" y="2201.57" class="d">0.00</text><text x="436.03" y="2201.57" class="d">0.00</text><text x="477.48" y="2201.57" class="d">0.00</text><text x="518.92" y="2201.57" class="d">0.00</text><text x="560.38" y="2201.57" class="d">0.00</text><text x="601.83" y="2201.57" class="d">0.00</text><text x="643.28" y="2201.57" class="d">0.00</text><text x="684.73" y="2201.57" class="d">0.00</text><text x="726.18" y="2201.57" class="d">0.00</text><text x="767.63" y="2201.57" class="d">0.00</text><text x="809.08" y="2201.57" class="d">0.00</text><text x="850.53" y="2201.57" class="d">0.00</text><text x="891.98" y="2201.57" class="d">0.00</text><text x="933.43" y="2201.57" class="d">0.00</text><text x="974.88" y="2201.57" class="d">0.00</text><text x="1057.77" y="2201.57" class="d">0.00</text><text x="104.43" y="2228.61" class="d">0.00</text><text x="145.88" y="2228.61" class="d">0.00</text><text x="187.33" y="2228.61" class="d">0.00</text><text x="228.78" y="2228.61" class="d">0.00</text><text x="270.23" y="2228.61" class="d">0.00</text><text x="311.68" y="2228.61" class="d">0.00</text><text x="353.13" y="2228.61" class="d">0.00</text><text x="394.58" y="2228.61" class="d">0.00</text><text x="436.03" y="2228.61" class="d">0.00</text><text x="477.48" y="2228.61" class="d">0.00</text><text x="518.92" y="2228.61" class="d">0.00</text><text x="560.38" y="2228.61" class="d">0.00</text><text x="601.83" y="2228.61" class="d">0.00</text><text x="643.28" y="2228.61" class="d">0.00</text><text x="684.73" y="2228.61" class="d">0.00</text><text x="726.18" y="2228.61" class="d">0.00</text><text x="767.63" y="2228.61" class="d">0.00</text><text x="809.08" y="2228.61" class="d">0.00</text><text x="850.53" y="2228.61" class="d">0.00</text><text x="891.98" y="2228.61" class="d">0.00</text><text x="933.43" y="2228.61" class="d">0.00</text><text x="974.88" y="2228.61" class="d">0.00</text><text x="1016.33" y="2228.61" class="d">0.00</text></g>
<g font-size="19.7" fill="#262626" stroke="#262626" stroke-width="0.2"><text x="48.83" y="1606.4">0</text><text x="41.19" y="1636.54">.10</text><text x="40.99" y="1663.57">.14</text><text x="41.26" y="1690.61">.18</text><text x="41.4" y="1717.64">.22</text><text x="41.28" y="1744.67">.26</text><text x="41.19" y="1771.71">.30</text><text x="40.99" y="1798.75">.34</text><text x="41.26" y="1825.78">.38</text><text x="41.4" y="1852.82">.42</text><text x="41.28" y="1879.85">.46</text><text x="41.19" y="1906.88">.50</text><text x="40.99" y="1933.92">.54</text><text x="41.4" y="1960.95">.57</text><text x="41.4" y="1987.99">.62</text><text x="41.28" y="2015.02">.66</text><text x="41.19" y="2042.06">.70</text><text x="40.99" y="2069.1">.74</text><text x="41.26" y="2096.13">.78</text><text x="41.4" y="2123.16">.82</text><text x="41.28" y="2150.2">.86</text><text x="41.19" y="2177.24">.90</text><text x="40.99" y="2204.27">.94</text><text x="41.26" y="2231.31">.98</text><text x="99.33" y="2255.6">0</text><text x="127.81" y="2255.6">.10</text><text x="174.21" y="2255.6">.14</text><text x="215.41" y="2255.6">.18</text><text x="253.41" y="2255.6">.22</text><text x="295.61" y="2255.6">.26</text><text x="336.81" y="2255.6">.30</text><text x="378.41" y="2255.6">.34</text><text x="416.31" y="2255.6">.38</text><text x="457.51" y="2255.6">.42</text><text x="499.71" y="2255.6">.46</text><text x="541.51" y="2255.6">.50</text><text x="583.01" y="2255.6">.54</text><text x="624.81" y="2255.6">.57</text><text x="666.31" y="2255.6">.62</text><text x="707.91" y="2255.6">.66</text><text x="749.71" y="2255.6">.70</text><text x="791.51" y="2255.6">.74</text><text x="833.41" y="2255.6">.78</text><text x="875.21" y="2255.6">.82</text><text x="917.01" y="2255.6">.86</text><text x="958.61" y="2255.6">.90</text><text x="1000.11" y="2255.6">.94</text><text x="1041.91" y="2255.6">.98</text><text x="1153.33" y="1594.2">0.06</text><text x="1153.33" y="1702.2">0.05</text><text x="1153.33" y="1810.2">0.04</text><text x="1153.33" y="1918.2">0.03</text><text x="1153.33" y="2026.2">0.02</text><text x="1153.33" y="2134.2">0.01</text><text x="1153.33" y="2242.2">0.00</text></g>
<rect x="1103.8" y="1590.7" width="34.6" height="646.2" fill="url(#cb)"/>
<g font-size="27.0" fill="#000"><text x="469.57" y="1572.1">20 Images/group</text><text x="529.39" y="2294.6">R-G IF</text><text transform="translate(30 1898) rotate(-90)" x="-41.07" y="0">R-G IF</text><text transform="translate(1221.6 1893) rotate(-90)" x="-89.17" y="0">Mean p-values</text></g>
<text x="3.33" y="1567.8" font-size="35.0" font-weight="bold" fill="#000">c</text>
</svg></body></html>
